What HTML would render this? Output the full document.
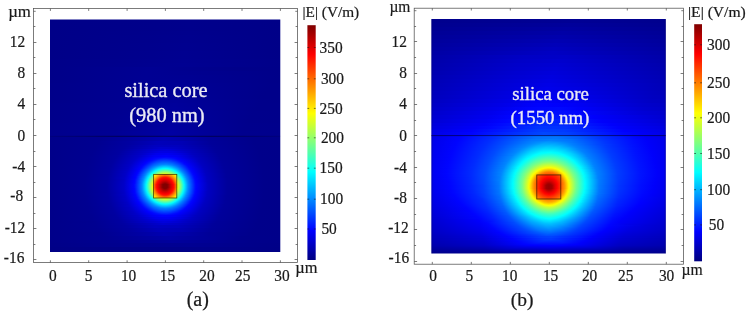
<!DOCTYPE html>
<html><head><meta charset="utf-8"><title>Mode field</title>
<style>html,body{margin:0;padding:0;background:#fff}svg{display:block}text{font-family:"Liberation Serif","Times New Roman",serif;fill:#1a1a1a;stroke:#1a1a1a;stroke-width:0.22}</style>
</head><body>
<svg width="750" height="313" viewBox="0 0 750 313">
<defs>
<linearGradient id="a0" gradientUnits="userSpaceOnUse" x1="50" x2="281"><stop offset="0" stop-color="#000088"/><stop offset="0.6104" stop-color="#00008c"/><stop offset="1" stop-color="#000088"/></linearGradient>
<linearGradient id="a1" gradientUnits="userSpaceOnUse" x1="50" x2="281"><stop offset="0" stop-color="#000088"/><stop offset="0.6061" stop-color="#00008c"/><stop offset="1" stop-color="#000088"/></linearGradient>
<linearGradient id="a2" gradientUnits="userSpaceOnUse" x1="50" x2="281"><stop offset="0" stop-color="#000088"/><stop offset="0.6061" stop-color="#00008c"/><stop offset="1" stop-color="#000088"/></linearGradient>
<linearGradient id="a3" gradientUnits="userSpaceOnUse" x1="50" x2="281"><stop offset="0" stop-color="#000088"/><stop offset="0.6017" stop-color="#00008d"/><stop offset="1" stop-color="#000088"/></linearGradient>
<linearGradient id="a4" gradientUnits="userSpaceOnUse" x1="50" x2="281"><stop offset="0" stop-color="#000088"/><stop offset="0.5974" stop-color="#00008e"/><stop offset="1" stop-color="#000088"/></linearGradient>
<linearGradient id="a5" gradientUnits="userSpaceOnUse" x1="50" x2="281"><stop offset="0" stop-color="#000088"/><stop offset="0.5931" stop-color="#00008e"/><stop offset="1" stop-color="#000088"/></linearGradient>
<linearGradient id="a6" gradientUnits="userSpaceOnUse" x1="50" x2="281"><stop offset="0" stop-color="#000088"/><stop offset="0.5887" stop-color="#00008f"/><stop offset="1" stop-color="#000088"/></linearGradient>
<linearGradient id="a7" gradientUnits="userSpaceOnUse" x1="50" x2="281"><stop offset="0" stop-color="#000088"/><stop offset="0.5887" stop-color="#00008f"/><stop offset="1" stop-color="#000088"/></linearGradient>
<linearGradient id="a8" gradientUnits="userSpaceOnUse" x1="50" x2="281"><stop offset="0" stop-color="#000088"/><stop offset="0.5844" stop-color="#000090"/><stop offset="1" stop-color="#000088"/></linearGradient>
<linearGradient id="a9" gradientUnits="userSpaceOnUse" x1="50" x2="281"><stop offset="0" stop-color="#000088"/><stop offset="0.5801" stop-color="#000090"/><stop offset="1" stop-color="#000088"/></linearGradient>
<linearGradient id="a10" gradientUnits="userSpaceOnUse" x1="50" x2="281"><stop offset="0" stop-color="#000089"/><stop offset="0.5801" stop-color="#000091"/><stop offset="1" stop-color="#000089"/></linearGradient>
<linearGradient id="a11" gradientUnits="userSpaceOnUse" x1="50" x2="281"><stop offset="0" stop-color="#000089"/><stop offset="0.5758" stop-color="#000092"/><stop offset="1" stop-color="#000089"/></linearGradient>
<linearGradient id="a12" gradientUnits="userSpaceOnUse" x1="50" x2="281"><stop offset="0" stop-color="#000089"/><stop offset="0.4329" stop-color="#000093"/><stop offset="0.8095" stop-color="#00008a"/><stop offset="1" stop-color="#000089"/></linearGradient>
<linearGradient id="a13" gradientUnits="userSpaceOnUse" x1="50" x2="281"><stop offset="0" stop-color="#000089"/><stop offset="0.4199" stop-color="#000093"/><stop offset="0.6147" stop-color="#000090"/><stop offset="1" stop-color="#000089"/></linearGradient>
<linearGradient id="a14" gradientUnits="userSpaceOnUse" x1="50" x2="281"><stop offset="0" stop-color="#000089"/><stop offset="0.4069" stop-color="#000093"/><stop offset="0.5974" stop-color="#000092"/><stop offset="1" stop-color="#000089"/></linearGradient>
<linearGradient id="a15" gradientUnits="userSpaceOnUse" x1="50" x2="281"><stop offset="0" stop-color="#000089"/><stop offset="0.4026" stop-color="#000093"/><stop offset="0.5887" stop-color="#000093"/><stop offset="0.987" stop-color="#000089"/><stop offset="1" stop-color="#000089"/></linearGradient>
<linearGradient id="a16" gradientUnits="userSpaceOnUse" x1="50" x2="281"><stop offset="0" stop-color="#00008a"/><stop offset="0.3939" stop-color="#000093"/><stop offset="0.5758" stop-color="#000095"/><stop offset="0.9567" stop-color="#00008a"/><stop offset="1" stop-color="#00008a"/></linearGradient>
<linearGradient id="a17" gradientUnits="userSpaceOnUse" x1="50" x2="281"><stop offset="0" stop-color="#00008a"/><stop offset="0.3896" stop-color="#000093"/><stop offset="0.5671" stop-color="#000096"/><stop offset="0.9437" stop-color="#00008a"/><stop offset="1" stop-color="#00008a"/></linearGradient>
<linearGradient id="a18" gradientUnits="userSpaceOnUse" x1="50" x2="281"><stop offset="0" stop-color="#00008a"/><stop offset="0.3853" stop-color="#000093"/><stop offset="0.5584" stop-color="#000097"/><stop offset="0.9307" stop-color="#00008a"/><stop offset="1" stop-color="#00008a"/></linearGradient>
<linearGradient id="a19" gradientUnits="userSpaceOnUse" x1="50" x2="281"><stop offset="0" stop-color="#00008a"/><stop offset="0.381" stop-color="#000093"/><stop offset="0.5498" stop-color="#000098"/><stop offset="0.9221" stop-color="#00008a"/><stop offset="1" stop-color="#00008a"/></linearGradient>
<linearGradient id="a20" gradientUnits="userSpaceOnUse" x1="50" x2="281"><stop offset="0" stop-color="#00008a"/><stop offset="0.3766" stop-color="#000093"/><stop offset="0.5455" stop-color="#000099"/><stop offset="0.9134" stop-color="#00008b"/><stop offset="1" stop-color="#00008a"/></linearGradient>
<linearGradient id="a21" gradientUnits="userSpaceOnUse" x1="50" x2="281"><stop offset="0" stop-color="#00008b"/><stop offset="0.3723" stop-color="#000094"/><stop offset="0.5368" stop-color="#00009b"/><stop offset="0.9091" stop-color="#00008b"/><stop offset="1" stop-color="#00008b"/></linearGradient>
<linearGradient id="a22" gradientUnits="userSpaceOnUse" x1="50" x2="281"><stop offset="0" stop-color="#00008b"/><stop offset="0.3506" stop-color="#000093"/><stop offset="0.5368" stop-color="#00009c"/><stop offset="0.8961" stop-color="#00008b"/><stop offset="1" stop-color="#00008b"/></linearGradient>
<linearGradient id="a23" gradientUnits="userSpaceOnUse" x1="50" x2="281"><stop offset="0" stop-color="#00008b"/><stop offset="0.329" stop-color="#000093"/><stop offset="0.5325" stop-color="#00009d"/><stop offset="0.8831" stop-color="#00008c"/><stop offset="1" stop-color="#00008b"/></linearGradient>
<linearGradient id="a24" gradientUnits="userSpaceOnUse" x1="50" x2="281"><stop offset="0" stop-color="#00008b"/><stop offset="0.3117" stop-color="#000093"/><stop offset="0.5325" stop-color="#00009e"/><stop offset="0.8701" stop-color="#00008c"/><stop offset="1" stop-color="#00008b"/></linearGradient>
<linearGradient id="a25" gradientUnits="userSpaceOnUse" x1="50" x2="281"><stop offset="0" stop-color="#00008b"/><stop offset="0.2987" stop-color="#000093"/><stop offset="0.5281" stop-color="#00009f"/><stop offset="0.8615" stop-color="#00008c"/><stop offset="1" stop-color="#00008b"/></linearGradient>
<linearGradient id="a26" gradientUnits="userSpaceOnUse" x1="50" x2="281"><stop offset="0" stop-color="#00008c"/><stop offset="0.29" stop-color="#000093"/><stop offset="0.5281" stop-color="#0000a0"/><stop offset="0.8528" stop-color="#00008d"/><stop offset="1" stop-color="#00008c"/></linearGradient>
<linearGradient id="a27" gradientUnits="userSpaceOnUse" x1="50" x2="281"><stop offset="0" stop-color="#00008c"/><stop offset="0.2814" stop-color="#000093"/><stop offset="0.5238" stop-color="#0000a2"/><stop offset="0.8442" stop-color="#00008d"/><stop offset="1" stop-color="#00008c"/></linearGradient>
<linearGradient id="a28" gradientUnits="userSpaceOnUse" x1="50" x2="281"><stop offset="0" stop-color="#00008c"/><stop offset="0.2727" stop-color="#000094"/><stop offset="0.5238" stop-color="#0000a3"/><stop offset="0.8355" stop-color="#00008e"/><stop offset="1" stop-color="#00008c"/></linearGradient>
<linearGradient id="a29" gradientUnits="userSpaceOnUse" x1="50" x2="281"><stop offset="0" stop-color="#00008d"/><stop offset="0.2684" stop-color="#000094"/><stop offset="0.5238" stop-color="#0000a4"/><stop offset="0.8312" stop-color="#00008e"/><stop offset="1" stop-color="#00008c"/></linearGradient>
<linearGradient id="a30" gradientUnits="userSpaceOnUse" x1="50" x2="281"><stop offset="0" stop-color="#00008a"/><stop offset="0.2294" stop-color="#000091"/><stop offset="0.4026" stop-color="#0000a3"/><stop offset="0.5152" stop-color="#0000ac"/><stop offset="0.7143" stop-color="#000095"/><stop offset="0.8874" stop-color="#00008b"/><stop offset="1" stop-color="#00008a"/></linearGradient>
<linearGradient id="a31" gradientUnits="userSpaceOnUse" x1="50" x2="281"><stop offset="0" stop-color="#00008a"/><stop offset="0.2208" stop-color="#000091"/><stop offset="0.3766" stop-color="#0000a2"/><stop offset="0.4935" stop-color="#0000b2"/><stop offset="0.6061" stop-color="#0000a6"/><stop offset="0.6883" stop-color="#000099"/><stop offset="0.8831" stop-color="#00008b"/><stop offset="1" stop-color="#00008a"/></linearGradient>
<linearGradient id="a32" gradientUnits="userSpaceOnUse" x1="50" x2="281"><stop offset="0" stop-color="#00008a"/><stop offset="0.2078" stop-color="#000091"/><stop offset="0.3463" stop-color="#0000a2"/><stop offset="0.4675" stop-color="#0000ba"/><stop offset="0.5714" stop-color="#0000b5"/><stop offset="0.6926" stop-color="#00009a"/><stop offset="0.8874" stop-color="#00008b"/><stop offset="1" stop-color="#00008a"/></linearGradient>
<linearGradient id="a33" gradientUnits="userSpaceOnUse" x1="50" x2="281"><stop offset="0" stop-color="#00008a"/><stop offset="0.1991" stop-color="#000091"/><stop offset="0.329" stop-color="#0000a1"/><stop offset="0.4545" stop-color="#0000c0"/><stop offset="0.5541" stop-color="#0000be"/><stop offset="0.7056" stop-color="#00009a"/><stop offset="0.8961" stop-color="#00008b"/><stop offset="1" stop-color="#00008a"/></linearGradient>
<linearGradient id="a34" gradientUnits="userSpaceOnUse" x1="50" x2="281"><stop offset="0" stop-color="#00008a"/><stop offset="0.1948" stop-color="#000091"/><stop offset="0.3203" stop-color="#0000a1"/><stop offset="0.4805" stop-color="#0000cc"/><stop offset="0.5411" stop-color="#0000c6"/><stop offset="0.7143" stop-color="#00009a"/><stop offset="0.8961" stop-color="#00008b"/><stop offset="1" stop-color="#00008a"/></linearGradient>
<linearGradient id="a35" gradientUnits="userSpaceOnUse" x1="50" x2="281"><stop offset="0" stop-color="#00008a"/><stop offset="0.1905" stop-color="#000091"/><stop offset="0.3117" stop-color="#0000a1"/><stop offset="0.4502" stop-color="#0000d0"/><stop offset="0.5065" stop-color="#0000d9"/><stop offset="0.5671" stop-color="#0000c7"/><stop offset="0.7143" stop-color="#00009b"/><stop offset="0.9004" stop-color="#00008b"/><stop offset="1" stop-color="#00008a"/></linearGradient>
<linearGradient id="a36" gradientUnits="userSpaceOnUse" x1="50" x2="281"><stop offset="0" stop-color="#00008a"/><stop offset="0.1861" stop-color="#000091"/><stop offset="0.303" stop-color="#0000a1"/><stop offset="0.4156" stop-color="#0000ca"/><stop offset="0.4762" stop-color="#0000e3"/><stop offset="0.5325" stop-color="#0000e0"/><stop offset="0.6147" stop-color="#0000bc"/><stop offset="0.7186" stop-color="#00009b"/><stop offset="0.9048" stop-color="#00008b"/><stop offset="1" stop-color="#00008a"/></linearGradient>
<linearGradient id="a37" gradientUnits="userSpaceOnUse" x1="50" x2="281"><stop offset="0" stop-color="#00008a"/><stop offset="0.1818" stop-color="#000091"/><stop offset="0.2944" stop-color="#0000a0"/><stop offset="0.3983" stop-color="#0000c8"/><stop offset="0.4589" stop-color="#0000eb"/><stop offset="0.5108" stop-color="#0000f1"/><stop offset="0.5671" stop-color="#0000dd"/><stop offset="0.6147" stop-color="#0000c0"/><stop offset="0.7273" stop-color="#00009b"/><stop offset="0.9048" stop-color="#00008b"/><stop offset="1" stop-color="#00008a"/></linearGradient>
<linearGradient id="a38" gradientUnits="userSpaceOnUse" x1="50" x2="281"><stop offset="0" stop-color="#00008a"/><stop offset="0.1775" stop-color="#000091"/><stop offset="0.29" stop-color="#0000a1"/><stop offset="0.3853" stop-color="#0000c8"/><stop offset="0.4502" stop-color="#0000f3"/><stop offset="0.5022" stop-color="#0000fd"/><stop offset="0.5541" stop-color="#0000ef"/><stop offset="0.6277" stop-color="#0000bf"/><stop offset="0.7316" stop-color="#00009b"/><stop offset="0.9091" stop-color="#00008b"/><stop offset="1" stop-color="#00008a"/></linearGradient>
<linearGradient id="a39" gradientUnits="userSpaceOnUse" x1="50" x2="281"><stop offset="0" stop-color="#00008a"/><stop offset="0.1732" stop-color="#000091"/><stop offset="0.2857" stop-color="#0000a1"/><stop offset="0.3766" stop-color="#0000c7"/><stop offset="0.4416" stop-color="#0000f7"/><stop offset="0.4719" stop-color="#0004ff"/><stop offset="0.5065" stop-color="#000aff"/><stop offset="0.5455" stop-color="#0000fc"/><stop offset="0.6104" stop-color="#0000cf"/><stop offset="0.6364" stop-color="#0000bf"/><stop offset="0.7359" stop-color="#00009b"/><stop offset="0.9091" stop-color="#00008b"/><stop offset="1" stop-color="#00008a"/></linearGradient>
<linearGradient id="a40" gradientUnits="userSpaceOnUse" x1="50" x2="281"><stop offset="0" stop-color="#00008a"/><stop offset="0.1732" stop-color="#000091"/><stop offset="0.2814" stop-color="#0000a0"/><stop offset="0.3723" stop-color="#0000c7"/><stop offset="0.4416" stop-color="#0000fd"/><stop offset="0.4632" stop-color="#000aff"/><stop offset="0.4935" stop-color="#001cff"/><stop offset="0.5238" stop-color="#0012ff"/><stop offset="0.5498" stop-color="#0000ff"/><stop offset="0.6147" stop-color="#0000d0"/><stop offset="0.6407" stop-color="#0000bf"/><stop offset="0.7359" stop-color="#00009b"/><stop offset="0.9091" stop-color="#00008b"/><stop offset="1" stop-color="#00008a"/></linearGradient>
<linearGradient id="a41" gradientUnits="userSpaceOnUse" x1="50" x2="281"><stop offset="0" stop-color="#00008a"/><stop offset="0.1732" stop-color="#000091"/><stop offset="0.2771" stop-color="#0000a0"/><stop offset="0.368" stop-color="#0000c7"/><stop offset="0.4329" stop-color="#0000fd"/><stop offset="0.4502" stop-color="#000aff"/><stop offset="0.4805" stop-color="#0029ff"/><stop offset="0.5065" stop-color="#002dff"/><stop offset="0.5368" stop-color="#0017ff"/><stop offset="0.5541" stop-color="#0003ff"/><stop offset="0.5887" stop-color="#0000eb"/><stop offset="0.6407" stop-color="#0000c0"/><stop offset="0.7403" stop-color="#00009b"/><stop offset="0.9134" stop-color="#00008b"/><stop offset="1" stop-color="#00008a"/></linearGradient>
<linearGradient id="a42" gradientUnits="userSpaceOnUse" x1="50" x2="281"><stop offset="0" stop-color="#00008a"/><stop offset="0.1688" stop-color="#000091"/><stop offset="0.2771" stop-color="#0000a1"/><stop offset="0.3636" stop-color="#0000c7"/><stop offset="0.4286" stop-color="#0000ff"/><stop offset="0.4416" stop-color="#000dff"/><stop offset="0.4719" stop-color="#0035ff"/><stop offset="0.4978" stop-color="#0040ff"/><stop offset="0.5238" stop-color="#0035ff"/><stop offset="0.5541" stop-color="#000fff"/><stop offset="0.5671" stop-color="#0001ff"/><stop offset="0.645" stop-color="#0000c0"/><stop offset="0.7403" stop-color="#00009b"/><stop offset="0.9134" stop-color="#00008b"/><stop offset="1" stop-color="#00008a"/></linearGradient>
<linearGradient id="a43" gradientUnits="userSpaceOnUse" x1="50" x2="281"><stop offset="0" stop-color="#00008a"/><stop offset="0.1688" stop-color="#000091"/><stop offset="0.2727" stop-color="#0000a0"/><stop offset="0.3593" stop-color="#0000c7"/><stop offset="0.4199" stop-color="#0000fe"/><stop offset="0.4329" stop-color="#000dff"/><stop offset="0.4632" stop-color="#003dff"/><stop offset="0.4892" stop-color="#0051ff"/><stop offset="0.5152" stop-color="#004dff"/><stop offset="0.5455" stop-color="#002dff"/><stop offset="0.5671" stop-color="#0006ff"/><stop offset="0.5844" stop-color="#0000f8"/><stop offset="0.645" stop-color="#0000c1"/><stop offset="0.7446" stop-color="#00009b"/><stop offset="0.9134" stop-color="#00008b"/><stop offset="1" stop-color="#00008a"/></linearGradient>
<linearGradient id="a44" gradientUnits="userSpaceOnUse" x1="50" x2="281"><stop offset="0" stop-color="#00008a"/><stop offset="0.1688" stop-color="#000091"/><stop offset="0.2727" stop-color="#0000a1"/><stop offset="0.355" stop-color="#0000c6"/><stop offset="0.4156" stop-color="#0001ff"/><stop offset="0.4286" stop-color="#0013ff"/><stop offset="0.4589" stop-color="#0048ff"/><stop offset="0.4848" stop-color="#0061ff"/><stop offset="0.5108" stop-color="#0061ff"/><stop offset="0.5368" stop-color="#004aff"/><stop offset="0.5671" stop-color="#0015ff"/><stop offset="0.5801" stop-color="#0001ff"/><stop offset="0.6494" stop-color="#0000c1"/><stop offset="0.7446" stop-color="#00009b"/><stop offset="0.9177" stop-color="#00008b"/><stop offset="1" stop-color="#00008a"/></linearGradient>
<linearGradient id="a45" gradientUnits="userSpaceOnUse" x1="50" x2="281"><stop offset="0" stop-color="#00008a"/><stop offset="0.1645" stop-color="#000091"/><stop offset="0.2684" stop-color="#0000a0"/><stop offset="0.3506" stop-color="#0000c5"/><stop offset="0.4113" stop-color="#0002ff"/><stop offset="0.4199" stop-color="#000eff"/><stop offset="0.4502" stop-color="#004cff"/><stop offset="0.4762" stop-color="#006dff"/><stop offset="0.5022" stop-color="#0075ff"/><stop offset="0.5281" stop-color="#0065ff"/><stop offset="0.5584" stop-color="#0036ff"/><stop offset="0.5801" stop-color="#0006ff"/><stop offset="0.5974" stop-color="#0000f6"/><stop offset="0.6537" stop-color="#0000c0"/><stop offset="0.7489" stop-color="#00009b"/><stop offset="0.9177" stop-color="#00008b"/><stop offset="1" stop-color="#00008a"/></linearGradient>
<linearGradient id="a46" gradientUnits="userSpaceOnUse" x1="50" x2="281"><stop offset="0" stop-color="#00008a"/><stop offset="0.1645" stop-color="#000091"/><stop offset="0.2684" stop-color="#0000a1"/><stop offset="0.3506" stop-color="#0000c8"/><stop offset="0.4069" stop-color="#0002ff"/><stop offset="0.4156" stop-color="#0012ff"/><stop offset="0.4502" stop-color="#005cff"/><stop offset="0.4762" stop-color="#007eff"/><stop offset="0.5022" stop-color="#0088ff"/><stop offset="0.5281" stop-color="#0076ff"/><stop offset="0.5584" stop-color="#0045ff"/><stop offset="0.5844" stop-color="#0009ff"/><stop offset="0.5974" stop-color="#0000fa"/><stop offset="0.6537" stop-color="#0000c2"/><stop offset="0.7489" stop-color="#00009b"/><stop offset="0.9177" stop-color="#00008b"/><stop offset="1" stop-color="#00008a"/></linearGradient>
<linearGradient id="a47" gradientUnits="userSpaceOnUse" x1="50" x2="281"><stop offset="0" stop-color="#00008a"/><stop offset="0.1645" stop-color="#000091"/><stop offset="0.2641" stop-color="#0000a0"/><stop offset="0.3463" stop-color="#0000c7"/><stop offset="0.4026" stop-color="#0003ff"/><stop offset="0.4113" stop-color="#0014ff"/><stop offset="0.4459" stop-color="#0064ff"/><stop offset="0.4848" stop-color="#00a1ff"/><stop offset="0.5022" stop-color="#00a6ff"/><stop offset="0.5195" stop-color="#0097ff"/><stop offset="0.5584" stop-color="#0055ff"/><stop offset="0.5931" stop-color="#0004ff"/><stop offset="0.6277" stop-color="#0000df"/><stop offset="0.658" stop-color="#0000c1"/><stop offset="0.7489" stop-color="#00009b"/><stop offset="0.9177" stop-color="#00008b"/><stop offset="1" stop-color="#00008a"/></linearGradient>
<linearGradient id="a48" gradientUnits="userSpaceOnUse" x1="50" x2="281"><stop offset="0" stop-color="#00008a"/><stop offset="0.1602" stop-color="#000091"/><stop offset="0.2641" stop-color="#0000a0"/><stop offset="0.342" stop-color="#0000c5"/><stop offset="0.3983" stop-color="#0003ff"/><stop offset="0.4069" stop-color="#0015ff"/><stop offset="0.4416" stop-color="#006bff"/><stop offset="0.4762" stop-color="#00b3ff"/><stop offset="0.4935" stop-color="#00c4ff"/><stop offset="0.5108" stop-color="#00bfff"/><stop offset="0.5281" stop-color="#00a5ff"/><stop offset="0.5498" stop-color="#0075ff"/><stop offset="0.5844" stop-color="#0023ff"/><stop offset="0.5974" stop-color="#0004ff"/><stop offset="0.632" stop-color="#0000de"/><stop offset="0.6623" stop-color="#0000c0"/><stop offset="0.7532" stop-color="#00009b"/><stop offset="0.9221" stop-color="#00008b"/><stop offset="1" stop-color="#00008a"/></linearGradient>
<linearGradient id="a49" gradientUnits="userSpaceOnUse" x1="50" x2="281"><stop offset="0" stop-color="#00008a"/><stop offset="0.1602" stop-color="#000091"/><stop offset="0.2641" stop-color="#0000a1"/><stop offset="0.342" stop-color="#0000c8"/><stop offset="0.3939" stop-color="#0002ff"/><stop offset="0.3983" stop-color="#0008ff"/><stop offset="0.4372" stop-color="#0070ff"/><stop offset="0.4502" stop-color="#0090ff"/><stop offset="0.4719" stop-color="#00c9ff"/><stop offset="0.4892" stop-color="#00e0ff"/><stop offset="0.5065" stop-color="#00e0ff"/><stop offset="0.5238" stop-color="#00caff"/><stop offset="0.5455" stop-color="#0093ff"/><stop offset="0.5931" stop-color="#0017ff"/><stop offset="0.6017" stop-color="#0003ff"/><stop offset="0.6623" stop-color="#0000c1"/><stop offset="0.7532" stop-color="#00009b"/><stop offset="0.9221" stop-color="#00008b"/><stop offset="1" stop-color="#00008a"/></linearGradient>
<linearGradient id="a50" gradientUnits="userSpaceOnUse" x1="50" x2="281"><stop offset="0" stop-color="#00008a"/><stop offset="0.1602" stop-color="#000091"/><stop offset="0.2597" stop-color="#0000a0"/><stop offset="0.3377" stop-color="#0000c5"/><stop offset="0.3896" stop-color="#0002ff"/><stop offset="0.3939" stop-color="#0006ff"/><stop offset="0.4329" stop-color="#0074ff"/><stop offset="0.4459" stop-color="#009bff"/><stop offset="0.4675" stop-color="#00dcff"/><stop offset="0.4848" stop-color="#00faff"/><stop offset="0.4978" stop-color="#04fffb"/><stop offset="0.5108" stop-color="#00fbff"/><stop offset="0.5281" stop-color="#00deff"/><stop offset="0.5498" stop-color="#009eff"/><stop offset="0.5628" stop-color="#0076ff"/><stop offset="0.6017" stop-color="#0009ff"/><stop offset="0.6147" stop-color="#0000f8"/><stop offset="0.6667" stop-color="#0000c0"/><stop offset="0.7532" stop-color="#00009b"/><stop offset="0.9221" stop-color="#00008b"/><stop offset="1" stop-color="#00008a"/></linearGradient>
<linearGradient id="a51" gradientUnits="userSpaceOnUse" x1="50" x2="281"><stop offset="0" stop-color="#00008a"/><stop offset="0.1602" stop-color="#000091"/><stop offset="0.2597" stop-color="#0000a1"/><stop offset="0.3377" stop-color="#0000c8"/><stop offset="0.3853" stop-color="#0000ff"/><stop offset="0.3896" stop-color="#0005ff"/><stop offset="0.4372" stop-color="#0092ff"/><stop offset="0.4589" stop-color="#00e0ff"/><stop offset="0.4675" stop-color="#00f8ff"/><stop offset="0.4719" stop-color="#05fffa"/><stop offset="0.4848" stop-color="#23ffdc"/><stop offset="0.4978" stop-color="#2effd1"/><stop offset="0.5108" stop-color="#25ffda"/><stop offset="0.5238" stop-color="#08fff7"/><stop offset="0.5281" stop-color="#00faff"/><stop offset="0.5498" stop-color="#00b7ff"/><stop offset="0.5628" stop-color="#0084ff"/><stop offset="0.6061" stop-color="#0006ff"/><stop offset="0.6234" stop-color="#0000f2"/><stop offset="0.6667" stop-color="#0000c1"/><stop offset="0.7576" stop-color="#00009b"/><stop offset="0.9221" stop-color="#00008b"/><stop offset="1" stop-color="#00008a"/></linearGradient>
<linearGradient id="a52" gradientUnits="userSpaceOnUse" x1="50" x2="281"><stop offset="0" stop-color="#00008a"/><stop offset="0.1602" stop-color="#000091"/><stop offset="0.2597" stop-color="#0000a1"/><stop offset="0.3333" stop-color="#0000c5"/><stop offset="0.381" stop-color="#0000fe"/><stop offset="0.3896" stop-color="#000dff"/><stop offset="0.4286" stop-color="#0084ff"/><stop offset="0.4545" stop-color="#00ecff"/><stop offset="0.4589" stop-color="#00faff"/><stop offset="0.4719" stop-color="#2dffd2"/><stop offset="0.4848" stop-color="#4dffb2"/><stop offset="0.4978" stop-color="#59ffa6"/><stop offset="0.5108" stop-color="#4effb1"/><stop offset="0.5238" stop-color="#2fffd0"/><stop offset="0.5368" stop-color="#00feff"/><stop offset="0.5584" stop-color="#00acff"/><stop offset="0.5671" stop-color="#0086ff"/><stop offset="0.6104" stop-color="#0005ff"/><stop offset="0.6234" stop-color="#0000f5"/><stop offset="0.671" stop-color="#0000c0"/><stop offset="0.7576" stop-color="#00009b"/><stop offset="0.9221" stop-color="#00008b"/><stop offset="1" stop-color="#00008a"/></linearGradient>
<linearGradient id="a53" gradientUnits="userSpaceOnUse" x1="50" x2="281"><stop offset="0" stop-color="#00008a"/><stop offset="0.1558" stop-color="#000091"/><stop offset="0.2554" stop-color="#0000a0"/><stop offset="0.3333" stop-color="#0000c8"/><stop offset="0.381" stop-color="#0002ff"/><stop offset="0.3853" stop-color="#0008ff"/><stop offset="0.4242" stop-color="#0084ff"/><stop offset="0.4502" stop-color="#00f5ff"/><stop offset="0.4545" stop-color="#0bfff4"/><stop offset="0.4675" stop-color="#44ffbb"/><stop offset="0.4805" stop-color="#6fff90"/><stop offset="0.4935" stop-color="#83ff7c"/><stop offset="0.5065" stop-color="#80ff7f"/><stop offset="0.5195" stop-color="#65ff9a"/><stop offset="0.5368" stop-color="#23ffdc"/><stop offset="0.5455" stop-color="#00f9ff"/><stop offset="0.5714" stop-color="#0087ff"/><stop offset="0.6104" stop-color="#000bff"/><stop offset="0.619" stop-color="#0000fd"/><stop offset="0.671" stop-color="#0000c1"/><stop offset="0.7576" stop-color="#00009b"/><stop offset="0.9221" stop-color="#00008b"/><stop offset="1" stop-color="#00008a"/></linearGradient>
<linearGradient id="a54" gradientUnits="userSpaceOnUse" x1="50" x2="281"><stop offset="0" stop-color="#00008a"/><stop offset="0.1558" stop-color="#000091"/><stop offset="0.2554" stop-color="#0000a0"/><stop offset="0.329" stop-color="#0000c5"/><stop offset="0.3766" stop-color="#0000ff"/><stop offset="0.381" stop-color="#0005ff"/><stop offset="0.4199" stop-color="#0082ff"/><stop offset="0.4459" stop-color="#00fcff"/><stop offset="0.4675" stop-color="#6cff93"/><stop offset="0.4762" stop-color="#8aff75"/><stop offset="0.4892" stop-color="#a5ff5a"/><stop offset="0.5022" stop-color="#aaff55"/><stop offset="0.5152" stop-color="#98ff67"/><stop offset="0.5281" stop-color="#6fff90"/><stop offset="0.5455" stop-color="#1bffe4"/><stop offset="0.5498" stop-color="#02fffd"/><stop offset="0.5758" stop-color="#0085ff"/><stop offset="0.6147" stop-color="#0006ff"/><stop offset="0.6277" stop-color="#0000f5"/><stop offset="0.671" stop-color="#0000c2"/><stop offset="0.7576" stop-color="#00009b"/><stop offset="0.9221" stop-color="#00008b"/><stop offset="1" stop-color="#00008a"/></linearGradient>
<linearGradient id="a55" gradientUnits="userSpaceOnUse" x1="50" x2="281"><stop offset="0" stop-color="#00008a"/><stop offset="0.1558" stop-color="#000091"/><stop offset="0.2554" stop-color="#0000a1"/><stop offset="0.329" stop-color="#0000c7"/><stop offset="0.3766" stop-color="#0002ff"/><stop offset="0.381" stop-color="#000aff"/><stop offset="0.4156" stop-color="#0080ff"/><stop offset="0.4416" stop-color="#01fffe"/><stop offset="0.4632" stop-color="#7eff81"/><stop offset="0.4762" stop-color="#aeff51"/><stop offset="0.4892" stop-color="#cbff34"/><stop offset="0.5022" stop-color="#d0ff2f"/><stop offset="0.5152" stop-color="#bcff43"/><stop offset="0.5281" stop-color="#93ff6c"/><stop offset="0.5411" stop-color="#54ffab"/><stop offset="0.5541" stop-color="#07fff8"/><stop offset="0.5628" stop-color="#00daff"/><stop offset="0.5801" stop-color="#0082ff"/><stop offset="0.6147" stop-color="#000dff"/><stop offset="0.6234" stop-color="#0000fd"/><stop offset="0.6753" stop-color="#0000c1"/><stop offset="0.7619" stop-color="#00009b"/><stop offset="0.9221" stop-color="#00008b"/><stop offset="1" stop-color="#00008a"/></linearGradient>
<linearGradient id="a56" gradientUnits="userSpaceOnUse" x1="50" x2="281"><stop offset="0" stop-color="#00008a"/><stop offset="0.1558" stop-color="#000091"/><stop offset="0.2511" stop-color="#00009f"/><stop offset="0.329" stop-color="#0000c8"/><stop offset="0.3723" stop-color="#0000ff"/><stop offset="0.3766" stop-color="#0005ff"/><stop offset="0.4156" stop-color="#008cff"/><stop offset="0.4372" stop-color="#01fffe"/><stop offset="0.4459" stop-color="#3bffc4"/><stop offset="0.4502" stop-color="#fcff03"/><stop offset="0.4675" stop-color="#ffcd00"/><stop offset="0.4805" stop-color="#ffa200"/><stop offset="0.4935" stop-color="#ff8c00"/><stop offset="0.5065" stop-color="#ff9000"/><stop offset="0.5195" stop-color="#ffac00"/><stop offset="0.5368" stop-color="#ffe500"/><stop offset="0.5455" stop-color="#ffff00"/><stop offset="0.5498" stop-color="#40ffbf"/><stop offset="0.5584" stop-color="#07fff8"/><stop offset="0.5628" stop-color="#00edff"/><stop offset="0.5844" stop-color="#007eff"/><stop offset="0.619" stop-color="#0006ff"/><stop offset="0.632" stop-color="#0000f5"/><stop offset="0.6753" stop-color="#0000c1"/><stop offset="0.7619" stop-color="#00009b"/><stop offset="0.9264" stop-color="#00008b"/><stop offset="1" stop-color="#00008a"/></linearGradient>
<linearGradient id="a57" gradientUnits="userSpaceOnUse" x1="50" x2="281"><stop offset="0" stop-color="#00008a"/><stop offset="0.1558" stop-color="#000091"/><stop offset="0.2511" stop-color="#0000a0"/><stop offset="0.3247" stop-color="#0000c5"/><stop offset="0.3723" stop-color="#0002ff"/><stop offset="0.3766" stop-color="#0009ff"/><stop offset="0.4113" stop-color="#0084ff"/><stop offset="0.4329" stop-color="#00fcff"/><stop offset="0.4459" stop-color="#58ffa7"/><stop offset="0.4502" stop-color="#fff400"/><stop offset="0.4589" stop-color="#ffd800"/><stop offset="0.4762" stop-color="#ff8f00"/><stop offset="0.4892" stop-color="#ff6f00"/><stop offset="0.4978" stop-color="#ff6600"/><stop offset="0.5108" stop-color="#ff7500"/><stop offset="0.5238" stop-color="#ff9c00"/><stop offset="0.5368" stop-color="#ffd500"/><stop offset="0.5455" stop-color="#fff100"/><stop offset="0.5498" stop-color="#5effa1"/><stop offset="0.5628" stop-color="#03fffc"/><stop offset="0.5844" stop-color="#0088ff"/><stop offset="0.619" stop-color="#000dff"/><stop offset="0.6277" stop-color="#0000fd"/><stop offset="0.6753" stop-color="#0000c2"/><stop offset="0.7619" stop-color="#00009b"/><stop offset="0.9264" stop-color="#00008b"/><stop offset="1" stop-color="#00008a"/></linearGradient>
<linearGradient id="a58" gradientUnits="userSpaceOnUse" x1="50" x2="281"><stop offset="0" stop-color="#00008a"/><stop offset="0.1558" stop-color="#000091"/><stop offset="0.2511" stop-color="#0000a0"/><stop offset="0.3247" stop-color="#0000c6"/><stop offset="0.368" stop-color="#0000fe"/><stop offset="0.3723" stop-color="#0004ff"/><stop offset="0.4069" stop-color="#007eff"/><stop offset="0.4199" stop-color="#00c4ff"/><stop offset="0.4286" stop-color="#00f5ff"/><stop offset="0.4329" stop-color="#15ffea"/><stop offset="0.4459" stop-color="#75ff8a"/><stop offset="0.4502" stop-color="#ffe600"/><stop offset="0.4545" stop-color="#ffd700"/><stop offset="0.4719" stop-color="#ff8200"/><stop offset="0.4848" stop-color="#ff4e00"/><stop offset="0.4935" stop-color="#ff3b00"/><stop offset="0.5022" stop-color="#ff3a00"/><stop offset="0.5108" stop-color="#ff4b00"/><stop offset="0.5325" stop-color="#ffa500"/><stop offset="0.5411" stop-color="#ffd300"/><stop offset="0.5455" stop-color="#ffe300"/><stop offset="0.5498" stop-color="#7bff84"/><stop offset="0.5628" stop-color="#1bffe4"/><stop offset="0.5671" stop-color="#00faff"/><stop offset="0.5887" stop-color="#0081ff"/><stop offset="0.6234" stop-color="#0005ff"/><stop offset="0.6364" stop-color="#0000f4"/><stop offset="0.6797" stop-color="#0000c0"/><stop offset="0.7619" stop-color="#00009b"/><stop offset="0.9264" stop-color="#00008b"/><stop offset="1" stop-color="#00008a"/></linearGradient>
<linearGradient id="a59" gradientUnits="userSpaceOnUse" x1="50" x2="281"><stop offset="0" stop-color="#00008a"/><stop offset="0.1515" stop-color="#000091"/><stop offset="0.2511" stop-color="#0000a1"/><stop offset="0.3247" stop-color="#0000c8"/><stop offset="0.368" stop-color="#0000ff"/><stop offset="0.3723" stop-color="#0006ff"/><stop offset="0.4069" stop-color="#0085ff"/><stop offset="0.4242" stop-color="#00ecff"/><stop offset="0.4286" stop-color="#09fff6"/><stop offset="0.4459" stop-color="#8dff72"/><stop offset="0.4502" stop-color="#ffd900"/><stop offset="0.4805" stop-color="#ff3400"/><stop offset="0.4892" stop-color="#ff1600"/><stop offset="0.5022" stop-color="#ff1000"/><stop offset="0.5065" stop-color="#ff1400"/><stop offset="0.5152" stop-color="#ff3000"/><stop offset="0.5455" stop-color="#ffd500"/><stop offset="0.5498" stop-color="#92ff6d"/><stop offset="0.5671" stop-color="#10ffef"/><stop offset="0.5714" stop-color="#00f1ff"/><stop offset="0.5887" stop-color="#008aff"/><stop offset="0.6234" stop-color="#0009ff"/><stop offset="0.632" stop-color="#0000fb"/><stop offset="0.6797" stop-color="#0000c1"/><stop offset="0.7619" stop-color="#00009b"/><stop offset="0.9264" stop-color="#00008b"/><stop offset="1" stop-color="#00008a"/></linearGradient>
<linearGradient id="a60" gradientUnits="userSpaceOnUse" x1="50" x2="281"><stop offset="0" stop-color="#00008a"/><stop offset="0.1515" stop-color="#000091"/><stop offset="0.2511" stop-color="#0000a1"/><stop offset="0.3247" stop-color="#0000c9"/><stop offset="0.368" stop-color="#0002ff"/><stop offset="0.3723" stop-color="#000bff"/><stop offset="0.4069" stop-color="#0090ff"/><stop offset="0.4242" stop-color="#00f9ff"/><stop offset="0.4329" stop-color="#41ffbe"/><stop offset="0.4459" stop-color="#a2ff5d"/><stop offset="0.4502" stop-color="#ffc600"/><stop offset="0.4675" stop-color="#ff5a00"/><stop offset="0.4762" stop-color="#ff2200"/><stop offset="0.4805" stop-color="#ff1000"/><stop offset="0.4892" stop-color="#ff0100"/><stop offset="0.5022" stop-color="#fb0000"/><stop offset="0.5108" stop-color="#ff0600"/><stop offset="0.5152" stop-color="#ff0e00"/><stop offset="0.5195" stop-color="#ff1d00"/><stop offset="0.5368" stop-color="#ff8c00"/><stop offset="0.5455" stop-color="#ffc100"/><stop offset="0.5498" stop-color="#a8ff57"/><stop offset="0.5628" stop-color="#48ffb7"/><stop offset="0.5714" stop-color="#01fffe"/><stop offset="0.5931" stop-color="#007fff"/><stop offset="0.6234" stop-color="#000eff"/><stop offset="0.6277" stop-color="#0003ff"/><stop offset="0.6797" stop-color="#0000c1"/><stop offset="0.7662" stop-color="#00009b"/><stop offset="0.9264" stop-color="#00008b"/><stop offset="1" stop-color="#00008a"/></linearGradient>
<linearGradient id="a61" gradientUnits="userSpaceOnUse" x1="50" x2="281"><stop offset="0" stop-color="#00008a"/><stop offset="0.1515" stop-color="#000091"/><stop offset="0.2511" stop-color="#0000a1"/><stop offset="0.3203" stop-color="#0000c4"/><stop offset="0.368" stop-color="#0004ff"/><stop offset="0.381" stop-color="#0030ff"/><stop offset="0.4026" stop-color="#0082ff"/><stop offset="0.4199" stop-color="#00ebff"/><stop offset="0.4242" stop-color="#0bfff4"/><stop offset="0.4372" stop-color="#78ff87"/><stop offset="0.4459" stop-color="#b5ff4a"/><stop offset="0.4502" stop-color="#ffb400"/><stop offset="0.4632" stop-color="#ff5c00"/><stop offset="0.4719" stop-color="#ff1a00"/><stop offset="0.4762" stop-color="#ff0900"/><stop offset="0.4805" stop-color="#fd0000"/><stop offset="0.4935" stop-color="#e70000"/><stop offset="0.5065" stop-color="#eb0000"/><stop offset="0.5152" stop-color="#fb0000"/><stop offset="0.5238" stop-color="#ff1400"/><stop offset="0.5368" stop-color="#ff7600"/><stop offset="0.5455" stop-color="#ffae00"/><stop offset="0.5498" stop-color="#bbff44"/><stop offset="0.5628" stop-color="#5bffa4"/><stop offset="0.5714" stop-color="#12ffed"/><stop offset="0.5758" stop-color="#00f0ff"/><stop offset="0.5931" stop-color="#0085ff"/><stop offset="0.6277" stop-color="#0005ff"/><stop offset="0.6407" stop-color="#0000f3"/><stop offset="0.6797" stop-color="#0000c2"/><stop offset="0.7662" stop-color="#00009b"/><stop offset="0.9264" stop-color="#00008b"/><stop offset="1" stop-color="#00008a"/></linearGradient>
<linearGradient id="a62" gradientUnits="userSpaceOnUse" x1="50" x2="281"><stop offset="0" stop-color="#00008a"/><stop offset="0.1515" stop-color="#000091"/><stop offset="0.2468" stop-color="#00009f"/><stop offset="0.3203" stop-color="#0000c5"/><stop offset="0.3636" stop-color="#0000fe"/><stop offset="0.368" stop-color="#0005ff"/><stop offset="0.4026" stop-color="#0088ff"/><stop offset="0.4199" stop-color="#00f5ff"/><stop offset="0.4242" stop-color="#1affe5"/><stop offset="0.4372" stop-color="#87ff78"/><stop offset="0.4459" stop-color="#c6ff39"/><stop offset="0.4502" stop-color="#ffa300"/><stop offset="0.4589" stop-color="#ff6600"/><stop offset="0.4675" stop-color="#ff1b00"/><stop offset="0.4719" stop-color="#ff0700"/><stop offset="0.4762" stop-color="#f80000"/><stop offset="0.4892" stop-color="#d90000"/><stop offset="0.5022" stop-color="#d30000"/><stop offset="0.5152" stop-color="#e90000"/><stop offset="0.5238" stop-color="#ff0500"/><stop offset="0.5281" stop-color="#ff1400"/><stop offset="0.5411" stop-color="#ff7f00"/><stop offset="0.5455" stop-color="#ff9d00"/><stop offset="0.5498" stop-color="#ccff33"/><stop offset="0.5628" stop-color="#6cff93"/><stop offset="0.5758" stop-color="#00fbff"/><stop offset="0.5931" stop-color="#008dff"/><stop offset="0.6277" stop-color="#0006ff"/><stop offset="0.6364" stop-color="#0000fa"/><stop offset="0.6797" stop-color="#0000c2"/><stop offset="0.7662" stop-color="#00009b"/><stop offset="0.9264" stop-color="#00008b"/><stop offset="1" stop-color="#00008a"/></linearGradient>
<linearGradient id="a63" gradientUnits="userSpaceOnUse" x1="50" x2="281"><stop offset="0" stop-color="#00008a"/><stop offset="0.1515" stop-color="#000091"/><stop offset="0.2468" stop-color="#0000a0"/><stop offset="0.3203" stop-color="#0000c6"/><stop offset="0.3636" stop-color="#0000ff"/><stop offset="0.368" stop-color="#0006ff"/><stop offset="0.4026" stop-color="#008fff"/><stop offset="0.4199" stop-color="#00ffff"/><stop offset="0.4372" stop-color="#94ff6b"/><stop offset="0.4459" stop-color="#d5ff2a"/><stop offset="0.4502" stop-color="#ff9400"/><stop offset="0.4545" stop-color="#ff7500"/><stop offset="0.4632" stop-color="#ff2600"/><stop offset="0.4675" stop-color="#ff0b00"/><stop offset="0.4719" stop-color="#f90000"/><stop offset="0.4848" stop-color="#cf0000"/><stop offset="0.4978" stop-color="#bc0000"/><stop offset="0.5065" stop-color="#c40000"/><stop offset="0.5195" stop-color="#e70000"/><stop offset="0.5238" stop-color="#f60000"/><stop offset="0.5281" stop-color="#ff0700"/><stop offset="0.5325" stop-color="#ff1f00"/><stop offset="0.5411" stop-color="#ff6f00"/><stop offset="0.5455" stop-color="#ff8e00"/><stop offset="0.5498" stop-color="#dbff24"/><stop offset="0.5628" stop-color="#7aff85"/><stop offset="0.5758" stop-color="#08fff7"/><stop offset="0.5801" stop-color="#00e8ff"/><stop offset="0.5931" stop-color="#0095ff"/><stop offset="0.6017" stop-color="#006dff"/><stop offset="0.6277" stop-color="#0009ff"/><stop offset="0.6364" stop-color="#0000fb"/><stop offset="0.6797" stop-color="#0000c2"/><stop offset="0.7662" stop-color="#00009b"/><stop offset="0.9264" stop-color="#00008b"/><stop offset="1" stop-color="#00008a"/></linearGradient>
<linearGradient id="a64" gradientUnits="userSpaceOnUse" x1="50" x2="281"><stop offset="0" stop-color="#00008a"/><stop offset="0.1515" stop-color="#000091"/><stop offset="0.2468" stop-color="#0000a0"/><stop offset="0.3203" stop-color="#0000c7"/><stop offset="0.3636" stop-color="#0001ff"/><stop offset="0.368" stop-color="#0008ff"/><stop offset="0.3983" stop-color="#007eff"/><stop offset="0.4113" stop-color="#00cdff"/><stop offset="0.4156" stop-color="#00e9ff"/><stop offset="0.4199" stop-color="#0afff5"/><stop offset="0.4329" stop-color="#7eff81"/><stop offset="0.4459" stop-color="#e1ff1e"/><stop offset="0.4502" stop-color="#ff8800"/><stop offset="0.4545" stop-color="#ff6600"/><stop offset="0.4632" stop-color="#ff1200"/><stop offset="0.4675" stop-color="#ff0000"/><stop offset="0.4892" stop-color="#b10000"/><stop offset="0.4978" stop-color="#a30000"/><stop offset="0.5065" stop-color="#ae0000"/><stop offset="0.5281" stop-color="#fb0000"/><stop offset="0.5325" stop-color="#ff0f00"/><stop offset="0.5455" stop-color="#ff8200"/><stop offset="0.5498" stop-color="#e7ff18"/><stop offset="0.5671" stop-color="#60ff9f"/><stop offset="0.5758" stop-color="#12ffed"/><stop offset="0.5801" stop-color="#00efff"/><stop offset="0.5974" stop-color="#0081ff"/><stop offset="0.6277" stop-color="#000cff"/><stop offset="0.632" stop-color="#0002ff"/><stop offset="0.684" stop-color="#0000c0"/><stop offset="0.7662" stop-color="#00009b"/><stop offset="0.9264" stop-color="#00008b"/><stop offset="1" stop-color="#00008a"/></linearGradient>
<linearGradient id="a65" gradientUnits="userSpaceOnUse" x1="50" x2="281"><stop offset="0" stop-color="#00008a"/><stop offset="0.1515" stop-color="#000091"/><stop offset="0.2468" stop-color="#0000a0"/><stop offset="0.3203" stop-color="#0000c7"/><stop offset="0.3636" stop-color="#0002ff"/><stop offset="0.368" stop-color="#000aff"/><stop offset="0.3983" stop-color="#0081ff"/><stop offset="0.4156" stop-color="#00efff"/><stop offset="0.4199" stop-color="#12ffed"/><stop offset="0.4329" stop-color="#86ff79"/><stop offset="0.4459" stop-color="#eaff15"/><stop offset="0.4502" stop-color="#ff7e00"/><stop offset="0.4589" stop-color="#ff2b00"/><stop offset="0.4632" stop-color="#ff0b00"/><stop offset="0.4675" stop-color="#f60000"/><stop offset="0.4892" stop-color="#9c0000"/><stop offset="0.4978" stop-color="#8b0000"/><stop offset="0.5022" stop-color="#8e0000"/><stop offset="0.5108" stop-color="#a90000"/><stop offset="0.5281" stop-color="#f30000"/><stop offset="0.5325" stop-color="#ff0700"/><stop offset="0.5368" stop-color="#ff2300"/><stop offset="0.5455" stop-color="#ff7800"/><stop offset="0.5498" stop-color="#f8ff07"/><stop offset="0.5541" stop-color="#d0ff2f"/><stop offset="0.5671" stop-color="#69ff96"/><stop offset="0.5758" stop-color="#1affe5"/><stop offset="0.5801" stop-color="#00f4ff"/><stop offset="0.5974" stop-color="#0084ff"/><stop offset="0.6277" stop-color="#000eff"/><stop offset="0.632" stop-color="#0003ff"/><stop offset="0.684" stop-color="#0000c1"/><stop offset="0.7662" stop-color="#00009b"/><stop offset="0.9264" stop-color="#00008b"/><stop offset="1" stop-color="#00008a"/></linearGradient>
<linearGradient id="a66" gradientUnits="userSpaceOnUse" x1="50" x2="281"><stop offset="0" stop-color="#00008a"/><stop offset="0.1515" stop-color="#000091"/><stop offset="0.2468" stop-color="#0000a0"/><stop offset="0.3203" stop-color="#0000c8"/><stop offset="0.3636" stop-color="#0003ff"/><stop offset="0.3723" stop-color="#001eff"/><stop offset="0.3983" stop-color="#0084ff"/><stop offset="0.4156" stop-color="#00f5ff"/><stop offset="0.4199" stop-color="#1cffe3"/><stop offset="0.4329" stop-color="#90ff6f"/><stop offset="0.4416" stop-color="#d4ff2b"/><stop offset="0.4459" stop-color="#fffb00"/><stop offset="0.4502" stop-color="#ff7300"/><stop offset="0.4589" stop-color="#ff1800"/><stop offset="0.4632" stop-color="#ff0100"/><stop offset="0.4805" stop-color="#ab0000"/><stop offset="0.4848" stop-color="#930000"/><stop offset="0.4892" stop-color="#820000"/><stop offset="0.5065" stop-color="#810000"/><stop offset="0.5108" stop-color="#8e0000"/><stop offset="0.5238" stop-color="#d30000"/><stop offset="0.5325" stop-color="#fc0000"/><stop offset="0.5368" stop-color="#ff1100"/><stop offset="0.5455" stop-color="#ff6b00"/><stop offset="0.5498" stop-color="#ffea00"/><stop offset="0.5541" stop-color="#daff25"/><stop offset="0.5671" stop-color="#73ff8c"/><stop offset="0.5801" stop-color="#00fbff"/><stop offset="0.5974" stop-color="#0088ff"/><stop offset="0.6277" stop-color="#0010ff"/><stop offset="0.632" stop-color="#0004ff"/><stop offset="0.684" stop-color="#0000c1"/><stop offset="0.7662" stop-color="#00009b"/><stop offset="0.9264" stop-color="#00008b"/><stop offset="1" stop-color="#00008a"/></linearGradient>
<linearGradient id="a67" gradientUnits="userSpaceOnUse" x1="50" x2="281"><stop offset="0" stop-color="#00008a"/><stop offset="0.1515" stop-color="#000091"/><stop offset="0.2468" stop-color="#0000a0"/><stop offset="0.3203" stop-color="#0000c8"/><stop offset="0.3636" stop-color="#0002ff"/><stop offset="0.368" stop-color="#000bff"/><stop offset="0.3983" stop-color="#0082ff"/><stop offset="0.4156" stop-color="#00f1ff"/><stop offset="0.4199" stop-color="#16ffe9"/><stop offset="0.4329" stop-color="#8aff75"/><stop offset="0.4459" stop-color="#f3ff0c"/><stop offset="0.4502" stop-color="#ff7a00"/><stop offset="0.4589" stop-color="#ff2400"/><stop offset="0.4632" stop-color="#ff0700"/><stop offset="0.4675" stop-color="#f20000"/><stop offset="0.4892" stop-color="#910000"/><stop offset="0.4935" stop-color="#830000"/><stop offset="0.5022" stop-color="#830000"/><stop offset="0.5065" stop-color="#8e0000"/><stop offset="0.5325" stop-color="#ff0300"/><stop offset="0.5368" stop-color="#ff1b00"/><stop offset="0.5455" stop-color="#ff7300"/><stop offset="0.5498" stop-color="#fffb00"/><stop offset="0.5541" stop-color="#d4ff2b"/><stop offset="0.5671" stop-color="#6dff92"/><stop offset="0.5758" stop-color="#1effe1"/><stop offset="0.5801" stop-color="#00f7ff"/><stop offset="0.5974" stop-color="#0085ff"/><stop offset="0.6277" stop-color="#000fff"/><stop offset="0.632" stop-color="#0003ff"/><stop offset="0.684" stop-color="#0000c1"/><stop offset="0.7662" stop-color="#00009b"/><stop offset="0.9264" stop-color="#00008b"/><stop offset="1" stop-color="#00008a"/></linearGradient>
<linearGradient id="a68" gradientUnits="userSpaceOnUse" x1="50" x2="281"><stop offset="0" stop-color="#00008a"/><stop offset="0.1515" stop-color="#000091"/><stop offset="0.2468" stop-color="#0000a0"/><stop offset="0.3203" stop-color="#0000c7"/><stop offset="0.3636" stop-color="#0002ff"/><stop offset="0.368" stop-color="#000aff"/><stop offset="0.3983" stop-color="#0080ff"/><stop offset="0.4156" stop-color="#00edff"/><stop offset="0.4199" stop-color="#0ffff0"/><stop offset="0.4329" stop-color="#83ff7c"/><stop offset="0.4459" stop-color="#e7ff18"/><stop offset="0.4502" stop-color="#ff8200"/><stop offset="0.4632" stop-color="#ff0d00"/><stop offset="0.4675" stop-color="#fa0000"/><stop offset="0.4892" stop-color="#a40000"/><stop offset="0.4978" stop-color="#950000"/><stop offset="0.5065" stop-color="#a10000"/><stop offset="0.5281" stop-color="#f60000"/><stop offset="0.5325" stop-color="#ff0a00"/><stop offset="0.5368" stop-color="#ff2800"/><stop offset="0.5455" stop-color="#ff7b00"/><stop offset="0.5498" stop-color="#f0ff0f"/><stop offset="0.5671" stop-color="#65ff9a"/><stop offset="0.5758" stop-color="#17ffe8"/><stop offset="0.5801" stop-color="#00f2ff"/><stop offset="0.5974" stop-color="#0083ff"/><stop offset="0.6277" stop-color="#000dff"/><stop offset="0.632" stop-color="#0003ff"/><stop offset="0.684" stop-color="#0000c1"/><stop offset="0.7662" stop-color="#00009b"/><stop offset="0.9264" stop-color="#00008b"/><stop offset="1" stop-color="#00008a"/></linearGradient>
<linearGradient id="a69" gradientUnits="userSpaceOnUse" x1="50" x2="281"><stop offset="0" stop-color="#00008a"/><stop offset="0.1515" stop-color="#000091"/><stop offset="0.2468" stop-color="#0000a0"/><stop offset="0.3203" stop-color="#0000c7"/><stop offset="0.3636" stop-color="#0001ff"/><stop offset="0.368" stop-color="#0007ff"/><stop offset="0.3983" stop-color="#007dff"/><stop offset="0.4069" stop-color="#00afff"/><stop offset="0.4156" stop-color="#00e7ff"/><stop offset="0.4199" stop-color="#07fff8"/><stop offset="0.4329" stop-color="#7aff85"/><stop offset="0.4459" stop-color="#dcff23"/><stop offset="0.4502" stop-color="#ff8d00"/><stop offset="0.4545" stop-color="#ff6c00"/><stop offset="0.4632" stop-color="#ff1900"/><stop offset="0.4675" stop-color="#ff0400"/><stop offset="0.4892" stop-color="#b90000"/><stop offset="0.4978" stop-color="#ad0000"/><stop offset="0.5065" stop-color="#b70000"/><stop offset="0.5238" stop-color="#ef0000"/><stop offset="0.5281" stop-color="#ff0100"/><stop offset="0.5325" stop-color="#ff1200"/><stop offset="0.5411" stop-color="#ff6400"/><stop offset="0.5455" stop-color="#ff8600"/><stop offset="0.5498" stop-color="#e3ff1c"/><stop offset="0.5628" stop-color="#81ff7e"/><stop offset="0.5758" stop-color="#0efff1"/><stop offset="0.5801" stop-color="#00ecff"/><stop offset="0.5974" stop-color="#0080ff"/><stop offset="0.6277" stop-color="#000bff"/><stop offset="0.6364" stop-color="#0000fb"/><stop offset="0.684" stop-color="#0000c0"/><stop offset="0.7662" stop-color="#00009b"/><stop offset="0.9264" stop-color="#00008b"/><stop offset="1" stop-color="#00008a"/></linearGradient>
<linearGradient id="a70" gradientUnits="userSpaceOnUse" x1="50" x2="281"><stop offset="0" stop-color="#00008a"/><stop offset="0.1515" stop-color="#000091"/><stop offset="0.2468" stop-color="#0000a0"/><stop offset="0.3203" stop-color="#0000c6"/><stop offset="0.3636" stop-color="#0000ff"/><stop offset="0.368" stop-color="#0006ff"/><stop offset="0.4026" stop-color="#008cff"/><stop offset="0.4199" stop-color="#00fbff"/><stop offset="0.4372" stop-color="#90ff6f"/><stop offset="0.4459" stop-color="#cfff30"/><stop offset="0.4502" stop-color="#ff9a00"/><stop offset="0.4589" stop-color="#ff5700"/><stop offset="0.4675" stop-color="#ff0f00"/><stop offset="0.4719" stop-color="#fe0000"/><stop offset="0.4848" stop-color="#d60000"/><stop offset="0.4978" stop-color="#c50000"/><stop offset="0.5065" stop-color="#cc0000"/><stop offset="0.5195" stop-color="#ed0000"/><stop offset="0.5238" stop-color="#fb0000"/><stop offset="0.5281" stop-color="#ff0c00"/><stop offset="0.5325" stop-color="#ff2800"/><stop offset="0.5411" stop-color="#ff7500"/><stop offset="0.5455" stop-color="#ff9400"/><stop offset="0.5498" stop-color="#d5ff2a"/><stop offset="0.5628" stop-color="#75ff8a"/><stop offset="0.5758" stop-color="#03fffc"/><stop offset="0.5931" stop-color="#0092ff"/><stop offset="0.6061" stop-color="#005bff"/><stop offset="0.6277" stop-color="#0008ff"/><stop offset="0.6364" stop-color="#0000fa"/><stop offset="0.6797" stop-color="#0000c2"/><stop offset="0.7662" stop-color="#00009b"/><stop offset="0.9264" stop-color="#00008b"/><stop offset="1" stop-color="#00008a"/></linearGradient>
<linearGradient id="a71" gradientUnits="userSpaceOnUse" x1="50" x2="281"><stop offset="0" stop-color="#00008a"/><stop offset="0.1515" stop-color="#000091"/><stop offset="0.2468" stop-color="#00009f"/><stop offset="0.3203" stop-color="#0000c5"/><stop offset="0.3636" stop-color="#0000fe"/><stop offset="0.368" stop-color="#0004ff"/><stop offset="0.4026" stop-color="#0085ff"/><stop offset="0.4199" stop-color="#00f1ff"/><stop offset="0.4242" stop-color="#14ffeb"/><stop offset="0.4372" stop-color="#82ff7d"/><stop offset="0.4459" stop-color="#c0ff3f"/><stop offset="0.4502" stop-color="#ffa900"/><stop offset="0.4589" stop-color="#ff7000"/><stop offset="0.4675" stop-color="#ff2700"/><stop offset="0.4719" stop-color="#ff0d00"/><stop offset="0.4762" stop-color="#ff0000"/><stop offset="0.4892" stop-color="#e00000"/><stop offset="0.5022" stop-color="#db0000"/><stop offset="0.5152" stop-color="#f00000"/><stop offset="0.5195" stop-color="#fc0000"/><stop offset="0.5238" stop-color="#ff0a00"/><stop offset="0.5281" stop-color="#ff2000"/><stop offset="0.5368" stop-color="#ff6800"/><stop offset="0.5455" stop-color="#ffa400"/><stop offset="0.5498" stop-color="#c6ff39"/><stop offset="0.5628" stop-color="#65ff9a"/><stop offset="0.5714" stop-color="#1bffe4"/><stop offset="0.5758" stop-color="#00f7ff"/><stop offset="0.5931" stop-color="#008aff"/><stop offset="0.6277" stop-color="#0006ff"/><stop offset="0.6364" stop-color="#0000f9"/><stop offset="0.6797" stop-color="#0000c2"/><stop offset="0.7662" stop-color="#00009b"/><stop offset="0.9264" stop-color="#00008b"/><stop offset="1" stop-color="#00008a"/></linearGradient>
<linearGradient id="a72" gradientUnits="userSpaceOnUse" x1="50" x2="281"><stop offset="0" stop-color="#00008a"/><stop offset="0.1515" stop-color="#000091"/><stop offset="0.2511" stop-color="#0000a1"/><stop offset="0.3203" stop-color="#0000c4"/><stop offset="0.368" stop-color="#0003ff"/><stop offset="0.3766" stop-color="#001eff"/><stop offset="0.4026" stop-color="#0080ff"/><stop offset="0.4242" stop-color="#04fffb"/><stop offset="0.4416" stop-color="#90ff6f"/><stop offset="0.4459" stop-color="#aeff51"/><stop offset="0.4502" stop-color="#ffbb00"/><stop offset="0.4632" stop-color="#ff6800"/><stop offset="0.4719" stop-color="#ff2700"/><stop offset="0.4762" stop-color="#ff1000"/><stop offset="0.4848" stop-color="#fb0000"/><stop offset="0.4978" stop-color="#ee0000"/><stop offset="0.5108" stop-color="#f90000"/><stop offset="0.5152" stop-color="#ff0300"/><stop offset="0.5195" stop-color="#ff0d00"/><stop offset="0.5238" stop-color="#ff2200"/><stop offset="0.5411" stop-color="#ff9900"/><stop offset="0.5455" stop-color="#ffb500"/><stop offset="0.5498" stop-color="#b4ff4b"/><stop offset="0.5628" stop-color="#53ffac"/><stop offset="0.5714" stop-color="#0bfff4"/><stop offset="0.5758" stop-color="#00ecff"/><stop offset="0.5931" stop-color="#0083ff"/><stop offset="0.6277" stop-color="#0004ff"/><stop offset="0.6537" stop-color="#0000e1"/><stop offset="0.6797" stop-color="#0000c2"/><stop offset="0.7662" stop-color="#00009b"/><stop offset="0.9264" stop-color="#00008b"/><stop offset="1" stop-color="#00008a"/></linearGradient>
<linearGradient id="a73" gradientUnits="userSpaceOnUse" x1="50" x2="281"><stop offset="0" stop-color="#00008a"/><stop offset="0.1515" stop-color="#000091"/><stop offset="0.2511" stop-color="#0000a1"/><stop offset="0.3247" stop-color="#0000c9"/><stop offset="0.368" stop-color="#0001ff"/><stop offset="0.3723" stop-color="#0009ff"/><stop offset="0.4069" stop-color="#008cff"/><stop offset="0.4242" stop-color="#00f4ff"/><stop offset="0.4286" stop-color="#16ffe9"/><stop offset="0.4416" stop-color="#7dff82"/><stop offset="0.4459" stop-color="#9aff65"/><stop offset="0.4502" stop-color="#ffce00"/><stop offset="0.4805" stop-color="#ff1b00"/><stop offset="0.4892" stop-color="#ff0800"/><stop offset="0.5022" stop-color="#ff0400"/><stop offset="0.5108" stop-color="#ff0d00"/><stop offset="0.5152" stop-color="#ff1700"/><stop offset="0.5281" stop-color="#ff6200"/><stop offset="0.5455" stop-color="#ffc900"/><stop offset="0.5498" stop-color="#9fff60"/><stop offset="0.5628" stop-color="#3fffc0"/><stop offset="0.5714" stop-color="#00f9ff"/><stop offset="0.5887" stop-color="#0091ff"/><stop offset="0.6061" stop-color="#004dff"/><stop offset="0.6234" stop-color="#000cff"/><stop offset="0.632" stop-color="#0000fc"/><stop offset="0.6797" stop-color="#0000c1"/><stop offset="0.7662" stop-color="#00009b"/><stop offset="0.9264" stop-color="#00008b"/><stop offset="1" stop-color="#00008a"/></linearGradient>
<linearGradient id="a74" gradientUnits="userSpaceOnUse" x1="50" x2="281"><stop offset="0" stop-color="#00008a"/><stop offset="0.1558" stop-color="#000091"/><stop offset="0.2511" stop-color="#0000a1"/><stop offset="0.3247" stop-color="#0000c7"/><stop offset="0.368" stop-color="#0000ff"/><stop offset="0.3723" stop-color="#0005ff"/><stop offset="0.4069" stop-color="#0082ff"/><stop offset="0.4286" stop-color="#01fffe"/><stop offset="0.4459" stop-color="#84ff7b"/><stop offset="0.4502" stop-color="#ffde00"/><stop offset="0.4805" stop-color="#ff4500"/><stop offset="0.4892" stop-color="#ff2700"/><stop offset="0.4978" stop-color="#ff1d00"/><stop offset="0.5065" stop-color="#ff2500"/><stop offset="0.5152" stop-color="#ff4100"/><stop offset="0.5455" stop-color="#ffdb00"/><stop offset="0.5498" stop-color="#89ff76"/><stop offset="0.5671" stop-color="#08fff7"/><stop offset="0.5714" stop-color="#00ebff"/><stop offset="0.5887" stop-color="#0085ff"/><stop offset="0.6234" stop-color="#0007ff"/><stop offset="0.632" stop-color="#0000fa"/><stop offset="0.6797" stop-color="#0000c1"/><stop offset="0.7619" stop-color="#00009b"/><stop offset="0.9264" stop-color="#00008b"/><stop offset="1" stop-color="#00008a"/></linearGradient>
<linearGradient id="a75" gradientUnits="userSpaceOnUse" x1="50" x2="281"><stop offset="0" stop-color="#00008a"/><stop offset="0.1558" stop-color="#000091"/><stop offset="0.2511" stop-color="#0000a0"/><stop offset="0.3247" stop-color="#0000c6"/><stop offset="0.3723" stop-color="#0003ff"/><stop offset="0.381" stop-color="#001dff"/><stop offset="0.4113" stop-color="#008cff"/><stop offset="0.4286" stop-color="#00eeff"/><stop offset="0.4329" stop-color="#0bfff4"/><stop offset="0.4459" stop-color="#69ff96"/><stop offset="0.4502" stop-color="#ffeb00"/><stop offset="0.4589" stop-color="#ffca00"/><stop offset="0.4719" stop-color="#ff8d00"/><stop offset="0.4892" stop-color="#ff5400"/><stop offset="0.4978" stop-color="#ff4a00"/><stop offset="0.5065" stop-color="#ff5300"/><stop offset="0.5238" stop-color="#ff8a00"/><stop offset="0.5411" stop-color="#ffda00"/><stop offset="0.5455" stop-color="#ffe800"/><stop offset="0.5498" stop-color="#70ff8f"/><stop offset="0.5628" stop-color="#12ffed"/><stop offset="0.5671" stop-color="#00f3ff"/><stop offset="0.5844" stop-color="#0091ff"/><stop offset="0.6061" stop-color="#0040ff"/><stop offset="0.6234" stop-color="#0004ff"/><stop offset="0.645" stop-color="#0000e8"/><stop offset="0.6797" stop-color="#0000c0"/><stop offset="0.7619" stop-color="#00009b"/><stop offset="0.9264" stop-color="#00008b"/><stop offset="1" stop-color="#00008a"/></linearGradient>
<linearGradient id="a76" gradientUnits="userSpaceOnUse" x1="50" x2="281"><stop offset="0" stop-color="#00008a"/><stop offset="0.1558" stop-color="#000091"/><stop offset="0.2511" stop-color="#0000a0"/><stop offset="0.3247" stop-color="#0000c4"/><stop offset="0.3723" stop-color="#0001ff"/><stop offset="0.3766" stop-color="#0007ff"/><stop offset="0.4113" stop-color="#0081ff"/><stop offset="0.4329" stop-color="#00f4ff"/><stop offset="0.4372" stop-color="#11ffee"/><stop offset="0.4459" stop-color="#4dffb2"/><stop offset="0.4502" stop-color="#fff900"/><stop offset="0.4632" stop-color="#ffcf00"/><stop offset="0.4762" stop-color="#ff9c00"/><stop offset="0.4892" stop-color="#ff7d00"/><stop offset="0.5022" stop-color="#ff7700"/><stop offset="0.5152" stop-color="#ff8c00"/><stop offset="0.5281" stop-color="#ffb800"/><stop offset="0.5411" stop-color="#ffe900"/><stop offset="0.5455" stop-color="#fff600"/><stop offset="0.5498" stop-color="#52ffad"/><stop offset="0.5584" stop-color="#18ffe7"/><stop offset="0.5628" stop-color="#00f9ff"/><stop offset="0.5844" stop-color="#0084ff"/><stop offset="0.619" stop-color="#000aff"/><stop offset="0.6277" stop-color="#0000fc"/><stop offset="0.6753" stop-color="#0000c2"/><stop offset="0.7619" stop-color="#00009b"/><stop offset="0.9264" stop-color="#00008b"/><stop offset="1" stop-color="#00008a"/></linearGradient>
<linearGradient id="a77" gradientUnits="userSpaceOnUse" x1="50" x2="281"><stop offset="0" stop-color="#00008a"/><stop offset="0.1558" stop-color="#000091"/><stop offset="0.2554" stop-color="#0000a1"/><stop offset="0.329" stop-color="#0000c8"/><stop offset="0.3723" stop-color="#0000fe"/><stop offset="0.3766" stop-color="#0004ff"/><stop offset="0.4156" stop-color="#0086ff"/><stop offset="0.4372" stop-color="#00f7ff"/><stop offset="0.4416" stop-color="#13ffec"/><stop offset="0.4589" stop-color="#7dff82"/><stop offset="0.4719" stop-color="#b4ff4b"/><stop offset="0.4848" stop-color="#daff25"/><stop offset="0.4978" stop-color="#e8ff17"/><stop offset="0.5108" stop-color="#dbff24"/><stop offset="0.5238" stop-color="#b7ff48"/><stop offset="0.5368" stop-color="#81ff7e"/><stop offset="0.5584" stop-color="#00fbff"/><stop offset="0.5801" stop-color="#008aff"/><stop offset="0.619" stop-color="#0005ff"/><stop offset="0.632" stop-color="#0000f4"/><stop offset="0.6753" stop-color="#0000c1"/><stop offset="0.7619" stop-color="#00009b"/><stop offset="0.9264" stop-color="#00008b"/><stop offset="1" stop-color="#00008a"/></linearGradient>
<linearGradient id="a78" gradientUnits="userSpaceOnUse" x1="50" x2="281"><stop offset="0" stop-color="#00008a"/><stop offset="0.1558" stop-color="#000091"/><stop offset="0.2554" stop-color="#0000a1"/><stop offset="0.329" stop-color="#0000c6"/><stop offset="0.3766" stop-color="#0001ff"/><stop offset="0.381" stop-color="#0007ff"/><stop offset="0.4199" stop-color="#008bff"/><stop offset="0.4416" stop-color="#00f6ff"/><stop offset="0.4459" stop-color="#10ffef"/><stop offset="0.4632" stop-color="#6fff90"/><stop offset="0.4762" stop-color="#a0ff5f"/><stop offset="0.4892" stop-color="#bcff43"/><stop offset="0.5022" stop-color="#c1ff3e"/><stop offset="0.5152" stop-color="#aeff51"/><stop offset="0.5281" stop-color="#86ff79"/><stop offset="0.5455" stop-color="#2effd1"/><stop offset="0.5541" stop-color="#00faff"/><stop offset="0.5801" stop-color="#007eff"/><stop offset="0.6147" stop-color="#000aff"/><stop offset="0.6234" stop-color="#0000fc"/><stop offset="0.6753" stop-color="#0000c0"/><stop offset="0.7619" stop-color="#00009b"/><stop offset="0.9221" stop-color="#00008b"/><stop offset="1" stop-color="#00008a"/></linearGradient>
<linearGradient id="a79" gradientUnits="userSpaceOnUse" x1="50" x2="281"><stop offset="0" stop-color="#00008a"/><stop offset="0.1558" stop-color="#000091"/><stop offset="0.2554" stop-color="#0000a0"/><stop offset="0.3333" stop-color="#0000c9"/><stop offset="0.381" stop-color="#0004ff"/><stop offset="0.3983" stop-color="#0039ff"/><stop offset="0.4242" stop-color="#008fff"/><stop offset="0.4459" stop-color="#00f2ff"/><stop offset="0.4502" stop-color="#08fff7"/><stop offset="0.4675" stop-color="#5bffa4"/><stop offset="0.4762" stop-color="#7cff83"/><stop offset="0.4892" stop-color="#96ff69"/><stop offset="0.5022" stop-color="#9bff64"/><stop offset="0.5152" stop-color="#89ff76"/><stop offset="0.5281" stop-color="#5fffa0"/><stop offset="0.5455" stop-color="#0dfff2"/><stop offset="0.5498" stop-color="#00f6ff"/><stop offset="0.5758" stop-color="#0081ff"/><stop offset="0.6147" stop-color="#0005ff"/><stop offset="0.6277" stop-color="#0000f4"/><stop offset="0.671" stop-color="#0000c2"/><stop offset="0.7576" stop-color="#00009b"/><stop offset="0.9221" stop-color="#00008b"/><stop offset="1" stop-color="#00008a"/></linearGradient>
<linearGradient id="a80" gradientUnits="userSpaceOnUse" x1="50" x2="281"><stop offset="0" stop-color="#00008a"/><stop offset="0.1558" stop-color="#000091"/><stop offset="0.2554" stop-color="#0000a0"/><stop offset="0.3333" stop-color="#0000c7"/><stop offset="0.381" stop-color="#0001ff"/><stop offset="0.3853" stop-color="#0006ff"/><stop offset="0.4286" stop-color="#008fff"/><stop offset="0.4502" stop-color="#00ebff"/><stop offset="0.4545" stop-color="#00fbff"/><stop offset="0.4719" stop-color="#44ffbb"/><stop offset="0.4848" stop-color="#67ff98"/><stop offset="0.4978" stop-color="#74ff8b"/><stop offset="0.5108" stop-color="#69ff96"/><stop offset="0.5281" stop-color="#38ffc7"/><stop offset="0.5411" stop-color="#01fffe"/><stop offset="0.5714" stop-color="#0081ff"/><stop offset="0.6104" stop-color="#0007ff"/><stop offset="0.6234" stop-color="#0000f7"/><stop offset="0.671" stop-color="#0000c1"/><stop offset="0.7576" stop-color="#00009b"/><stop offset="0.9221" stop-color="#00008b"/><stop offset="1" stop-color="#00008a"/></linearGradient>
<linearGradient id="a81" gradientUnits="userSpaceOnUse" x1="50" x2="281"><stop offset="0" stop-color="#00008a"/><stop offset="0.1602" stop-color="#000091"/><stop offset="0.2597" stop-color="#0000a1"/><stop offset="0.3333" stop-color="#0000c4"/><stop offset="0.3853" stop-color="#0002ff"/><stop offset="0.3896" stop-color="#0009ff"/><stop offset="0.4329" stop-color="#008dff"/><stop offset="0.4545" stop-color="#00e2ff"/><stop offset="0.4632" stop-color="#00fdff"/><stop offset="0.4805" stop-color="#34ffcb"/><stop offset="0.4935" stop-color="#46ffb9"/><stop offset="0.5065" stop-color="#43ffbc"/><stop offset="0.5195" stop-color="#2cffd3"/><stop offset="0.5325" stop-color="#02fffd"/><stop offset="0.5541" stop-color="#00b5ff"/><stop offset="0.5671" stop-color="#0081ff"/><stop offset="0.6061" stop-color="#000cff"/><stop offset="0.6147" stop-color="#0000fd"/><stop offset="0.6667" stop-color="#0000c2"/><stop offset="0.7576" stop-color="#00009b"/><stop offset="0.9221" stop-color="#00008b"/><stop offset="1" stop-color="#00008a"/></linearGradient>
<linearGradient id="a82" gradientUnits="userSpaceOnUse" x1="50" x2="281"><stop offset="0" stop-color="#00008a"/><stop offset="0.1602" stop-color="#000091"/><stop offset="0.2597" stop-color="#0000a0"/><stop offset="0.3377" stop-color="#0000c7"/><stop offset="0.3853" stop-color="#0000fe"/><stop offset="0.3939" stop-color="#000dff"/><stop offset="0.4372" stop-color="#0088ff"/><stop offset="0.4589" stop-color="#00d5ff"/><stop offset="0.4762" stop-color="#01fffe"/><stop offset="0.4892" stop-color="#19ffe6"/><stop offset="0.5022" stop-color="#1cffe3"/><stop offset="0.5152" stop-color="#0dfff2"/><stop offset="0.5238" stop-color="#00f8ff"/><stop offset="0.5411" stop-color="#00caff"/><stop offset="0.5628" stop-color="#007fff"/><stop offset="0.6061" stop-color="#0005ff"/><stop offset="0.619" stop-color="#0000f5"/><stop offset="0.6667" stop-color="#0000c1"/><stop offset="0.7576" stop-color="#00009b"/><stop offset="0.9221" stop-color="#00008b"/><stop offset="1" stop-color="#00008a"/></linearGradient>
<linearGradient id="a83" gradientUnits="userSpaceOnUse" x1="50" x2="281"><stop offset="0" stop-color="#00008a"/><stop offset="0.1602" stop-color="#000091"/><stop offset="0.2597" stop-color="#0000a0"/><stop offset="0.3377" stop-color="#0000c4"/><stop offset="0.3896" stop-color="#0000ff"/><stop offset="0.3983" stop-color="#000fff"/><stop offset="0.4372" stop-color="#0079ff"/><stop offset="0.4675" stop-color="#00d0ff"/><stop offset="0.4848" stop-color="#00eeff"/><stop offset="0.5022" stop-color="#00f4ff"/><stop offset="0.5195" stop-color="#00e3ff"/><stop offset="0.5368" stop-color="#00bdff"/><stop offset="0.5584" stop-color="#007bff"/><stop offset="0.5974" stop-color="#0012ff"/><stop offset="0.6017" stop-color="#0006ff"/><stop offset="0.619" stop-color="#0000f2"/><stop offset="0.6623" stop-color="#0000c2"/><stop offset="0.7532" stop-color="#00009b"/><stop offset="0.9221" stop-color="#00008b"/><stop offset="1" stop-color="#00008a"/></linearGradient>
<linearGradient id="a84" gradientUnits="userSpaceOnUse" x1="50" x2="281"><stop offset="0" stop-color="#00008a"/><stop offset="0.1602" stop-color="#000091"/><stop offset="0.2641" stop-color="#0000a1"/><stop offset="0.342" stop-color="#0000c7"/><stop offset="0.3939" stop-color="#0001ff"/><stop offset="0.4026" stop-color="#0010ff"/><stop offset="0.4372" stop-color="#006aff"/><stop offset="0.4545" stop-color="#0093ff"/><stop offset="0.4719" stop-color="#00bdff"/><stop offset="0.4892" stop-color="#00d4ff"/><stop offset="0.5065" stop-color="#00d4ff"/><stop offset="0.5238" stop-color="#00bfff"/><stop offset="0.5844" stop-color="#002bff"/><stop offset="0.5974" stop-color="#0006ff"/><stop offset="0.6147" stop-color="#0000f3"/><stop offset="0.6623" stop-color="#0000c1"/><stop offset="0.7532" stop-color="#00009b"/><stop offset="0.9221" stop-color="#00008b"/><stop offset="1" stop-color="#00008a"/></linearGradient>
<linearGradient id="a85" gradientUnits="userSpaceOnUse" x1="50" x2="281"><stop offset="0" stop-color="#00008a"/><stop offset="0.1645" stop-color="#000091"/><stop offset="0.2641" stop-color="#0000a0"/><stop offset="0.3463" stop-color="#0000c9"/><stop offset="0.3983" stop-color="#0001ff"/><stop offset="0.4069" stop-color="#0010ff"/><stop offset="0.4416" stop-color="#0065ff"/><stop offset="0.4805" stop-color="#00aeff"/><stop offset="0.4978" stop-color="#00b9ff"/><stop offset="0.5152" stop-color="#00afff"/><stop offset="0.5325" stop-color="#0090ff"/><stop offset="0.5714" stop-color="#0040ff"/><stop offset="0.5931" stop-color="#0006ff"/><stop offset="0.6104" stop-color="#0000f4"/><stop offset="0.658" stop-color="#0000c2"/><stop offset="0.7532" stop-color="#00009b"/><stop offset="0.9221" stop-color="#00008b"/><stop offset="1" stop-color="#00008a"/></linearGradient>
<linearGradient id="a86" gradientUnits="userSpaceOnUse" x1="50" x2="281"><stop offset="0" stop-color="#00008a"/><stop offset="0.1645" stop-color="#000091"/><stop offset="0.2684" stop-color="#0000a1"/><stop offset="0.3463" stop-color="#0000c5"/><stop offset="0.4026" stop-color="#0001ff"/><stop offset="0.4113" stop-color="#000fff"/><stop offset="0.4459" stop-color="#005eff"/><stop offset="0.4805" stop-color="#0090ff"/><stop offset="0.4978" stop-color="#009bff"/><stop offset="0.5152" stop-color="#0091ff"/><stop offset="0.5498" stop-color="#0060ff"/><stop offset="0.5844" stop-color="#0011ff"/><stop offset="0.5887" stop-color="#0006ff"/><stop offset="0.6061" stop-color="#0000f4"/><stop offset="0.658" stop-color="#0000c0"/><stop offset="0.7489" stop-color="#00009b"/><stop offset="0.9177" stop-color="#00008b"/><stop offset="1" stop-color="#00008a"/></linearGradient>
<linearGradient id="a87" gradientUnits="userSpaceOnUse" x1="50" x2="281"><stop offset="0" stop-color="#00008a"/><stop offset="0.1645" stop-color="#000091"/><stop offset="0.2684" stop-color="#0000a0"/><stop offset="0.3506" stop-color="#0000c7"/><stop offset="0.4069" stop-color="#0001ff"/><stop offset="0.4156" stop-color="#000cff"/><stop offset="0.4502" stop-color="#0056ff"/><stop offset="0.4762" stop-color="#0077ff"/><stop offset="0.5022" stop-color="#0080ff"/><stop offset="0.5281" stop-color="#006fff"/><stop offset="0.5584" stop-color="#003fff"/><stop offset="0.5844" stop-color="#0005ff"/><stop offset="0.6061" stop-color="#0000f0"/><stop offset="0.6537" stop-color="#0000c1"/><stop offset="0.7489" stop-color="#00009b"/><stop offset="0.9177" stop-color="#00008b"/><stop offset="1" stop-color="#00008a"/></linearGradient>
<linearGradient id="a88" gradientUnits="userSpaceOnUse" x1="50" x2="281"><stop offset="0" stop-color="#00008a"/><stop offset="0.1645" stop-color="#000091"/><stop offset="0.2727" stop-color="#0000a1"/><stop offset="0.355" stop-color="#0000c8"/><stop offset="0.4113" stop-color="#0000ff"/><stop offset="0.4199" stop-color="#0009ff"/><stop offset="0.4502" stop-color="#0046ff"/><stop offset="0.4762" stop-color="#0066ff"/><stop offset="0.5022" stop-color="#006eff"/><stop offset="0.5281" stop-color="#005eff"/><stop offset="0.5584" stop-color="#0030ff"/><stop offset="0.5801" stop-color="#0004ff"/><stop offset="0.6104" stop-color="#0000e8"/><stop offset="0.6494" stop-color="#0000c2"/><stop offset="0.7446" stop-color="#00009b"/><stop offset="0.9177" stop-color="#00008b"/><stop offset="1" stop-color="#00008a"/></linearGradient>
<linearGradient id="a89" gradientUnits="userSpaceOnUse" x1="50" x2="281"><stop offset="0" stop-color="#00008a"/><stop offset="0.1688" stop-color="#000091"/><stop offset="0.2727" stop-color="#0000a0"/><stop offset="0.3593" stop-color="#0000c9"/><stop offset="0.4199" stop-color="#0002ff"/><stop offset="0.4329" stop-color="#0016ff"/><stop offset="0.4632" stop-color="#0047ff"/><stop offset="0.4892" stop-color="#005bff"/><stop offset="0.5152" stop-color="#0058ff"/><stop offset="0.5411" stop-color="#003dff"/><stop offset="0.5714" stop-color="#0006ff"/><stop offset="0.5887" stop-color="#0000f7"/><stop offset="0.6494" stop-color="#0000c0"/><stop offset="0.7446" stop-color="#00009b"/><stop offset="0.9134" stop-color="#00008b"/><stop offset="1" stop-color="#00008a"/></linearGradient>
<linearGradient id="a90" gradientUnits="userSpaceOnUse" x1="50" x2="281"><stop offset="0" stop-color="#00008a"/><stop offset="0.1688" stop-color="#000091"/><stop offset="0.2771" stop-color="#0000a1"/><stop offset="0.3593" stop-color="#0000c5"/><stop offset="0.4242" stop-color="#0000ff"/><stop offset="0.4372" stop-color="#000fff"/><stop offset="0.4675" stop-color="#003bff"/><stop offset="0.4935" stop-color="#004aff"/><stop offset="0.5195" stop-color="#0043ff"/><stop offset="0.5498" stop-color="#001fff"/><stop offset="0.5671" stop-color="#0004ff"/><stop offset="0.5974" stop-color="#0000eb"/><stop offset="0.645" stop-color="#0000c1"/><stop offset="0.7446" stop-color="#00009b"/><stop offset="0.9134" stop-color="#00008b"/><stop offset="1" stop-color="#00008a"/></linearGradient>
<linearGradient id="a91" gradientUnits="userSpaceOnUse" x1="50" x2="281"><stop offset="0" stop-color="#00008a"/><stop offset="0.1688" stop-color="#000091"/><stop offset="0.2771" stop-color="#0000a0"/><stop offset="0.3636" stop-color="#0000c6"/><stop offset="0.4286" stop-color="#0000fd"/><stop offset="0.4416" stop-color="#0007ff"/><stop offset="0.4719" stop-color="#002eff"/><stop offset="0.4978" stop-color="#0039ff"/><stop offset="0.5238" stop-color="#002eff"/><stop offset="0.5628" stop-color="#0002ff"/><stop offset="0.6234" stop-color="#0000cf"/><stop offset="0.645" stop-color="#0000bf"/><stop offset="0.7403" stop-color="#00009b"/><stop offset="0.9134" stop-color="#00008b"/><stop offset="1" stop-color="#00008a"/></linearGradient>
<linearGradient id="a92" gradientUnits="userSpaceOnUse" x1="50" x2="281"><stop offset="0" stop-color="#00008a"/><stop offset="0.1732" stop-color="#000091"/><stop offset="0.2814" stop-color="#0000a1"/><stop offset="0.368" stop-color="#0000c6"/><stop offset="0.4372" stop-color="#0000fd"/><stop offset="0.4545" stop-color="#000aff"/><stop offset="0.4848" stop-color="#0024ff"/><stop offset="0.5108" stop-color="#0025ff"/><stop offset="0.5411" stop-color="#000bff"/><stop offset="0.5628" stop-color="#0000fb"/><stop offset="0.6407" stop-color="#0000bf"/><stop offset="0.7403" stop-color="#00009b"/><stop offset="0.9134" stop-color="#00008b"/><stop offset="1" stop-color="#00008a"/></linearGradient>
<linearGradient id="a93" gradientUnits="userSpaceOnUse" x1="50" x2="281"><stop offset="0" stop-color="#00008a"/><stop offset="0.1732" stop-color="#000091"/><stop offset="0.2814" stop-color="#0000a0"/><stop offset="0.3766" stop-color="#0000ca"/><stop offset="0.4416" stop-color="#0000fa"/><stop offset="0.4719" stop-color="#000bff"/><stop offset="0.5022" stop-color="#0015ff"/><stop offset="0.5498" stop-color="#0000fd"/><stop offset="0.6147" stop-color="#0000ce"/><stop offset="0.6407" stop-color="#0000be"/><stop offset="0.7359" stop-color="#00009b"/><stop offset="0.9091" stop-color="#00008b"/><stop offset="1" stop-color="#00008a"/></linearGradient>
<linearGradient id="a94" gradientUnits="userSpaceOnUse" x1="50" x2="281"><stop offset="0" stop-color="#00008a"/><stop offset="0.1775" stop-color="#000091"/><stop offset="0.2857" stop-color="#0000a0"/><stop offset="0.381" stop-color="#0000c7"/><stop offset="0.4459" stop-color="#0000f4"/><stop offset="0.4892" stop-color="#0002ff"/><stop offset="0.5368" stop-color="#0000fa"/><stop offset="0.5974" stop-color="#0000d6"/><stop offset="0.6277" stop-color="#0000c0"/><stop offset="0.7316" stop-color="#00009b"/><stop offset="0.9091" stop-color="#00008b"/><stop offset="1" stop-color="#00008a"/></linearGradient>
<linearGradient id="a95" gradientUnits="userSpaceOnUse" x1="50" x2="281"><stop offset="0" stop-color="#00008a"/><stop offset="0.1818" stop-color="#000091"/><stop offset="0.2944" stop-color="#0000a1"/><stop offset="0.3939" stop-color="#0000c8"/><stop offset="0.4589" stop-color="#0000ee"/><stop offset="0.5108" stop-color="#0000f4"/><stop offset="0.5671" stop-color="#0000e0"/><stop offset="0.619" stop-color="#0000c0"/><stop offset="0.7273" stop-color="#00009b"/><stop offset="0.9091" stop-color="#00008b"/><stop offset="1" stop-color="#00008a"/></linearGradient>
<linearGradient id="a96" gradientUnits="userSpaceOnUse" x1="50" x2="281"><stop offset="0" stop-color="#00008a"/><stop offset="0.1818" stop-color="#000091"/><stop offset="0.2987" stop-color="#0000a0"/><stop offset="0.4113" stop-color="#0000ca"/><stop offset="0.4719" stop-color="#0000e6"/><stop offset="0.5281" stop-color="#0000e5"/><stop offset="0.5887" stop-color="#0000c8"/><stop offset="0.7229" stop-color="#00009b"/><stop offset="0.9048" stop-color="#00008b"/><stop offset="1" stop-color="#00008a"/></linearGradient>
<linearGradient id="a97" gradientUnits="userSpaceOnUse" x1="50" x2="281"><stop offset="0" stop-color="#00008a"/><stop offset="0.1861" stop-color="#000090"/><stop offset="0.3074" stop-color="#0000a1"/><stop offset="0.4329" stop-color="#0000cc"/><stop offset="0.4935" stop-color="#0000dd"/><stop offset="0.5498" stop-color="#0000d2"/><stop offset="0.6017" stop-color="#0000be"/><stop offset="0.7186" stop-color="#00009a"/><stop offset="0.9004" stop-color="#00008b"/><stop offset="1" stop-color="#00008a"/></linearGradient>
<linearGradient id="a98" gradientUnits="userSpaceOnUse" x1="50" x2="281"><stop offset="0" stop-color="#00008a"/><stop offset="0.1948" stop-color="#000091"/><stop offset="0.316" stop-color="#0000a1"/><stop offset="0.4892" stop-color="#0000d0"/><stop offset="0.5498" stop-color="#0000c7"/><stop offset="0.71" stop-color="#00009a"/><stop offset="0.8961" stop-color="#00008b"/><stop offset="1" stop-color="#00008a"/></linearGradient>
<linearGradient id="a99" gradientUnits="userSpaceOnUse" x1="50" x2="281"><stop offset="0" stop-color="#00008a"/><stop offset="0.1991" stop-color="#000091"/><stop offset="0.329" stop-color="#0000a1"/><stop offset="0.4545" stop-color="#0000c0"/><stop offset="0.5541" stop-color="#0000be"/><stop offset="0.7056" stop-color="#00009a"/><stop offset="0.8961" stop-color="#00008b"/><stop offset="1" stop-color="#00008a"/></linearGradient>
<linearGradient id="a100" gradientUnits="userSpaceOnUse" x1="50" x2="281"><stop offset="0" stop-color="#00008a"/><stop offset="0.2121" stop-color="#000091"/><stop offset="0.3463" stop-color="#0000a1"/><stop offset="0.4675" stop-color="#0000b9"/><stop offset="0.5714" stop-color="#0000b4"/><stop offset="0.6926" stop-color="#00009a"/><stop offset="0.8874" stop-color="#00008b"/><stop offset="1" stop-color="#00008a"/></linearGradient>
<linearGradient id="a101" gradientUnits="userSpaceOnUse" x1="50" x2="281"><stop offset="0" stop-color="#00008a"/><stop offset="0.2208" stop-color="#000090"/><stop offset="0.3766" stop-color="#0000a2"/><stop offset="0.4935" stop-color="#0000b1"/><stop offset="0.6061" stop-color="#0000a5"/><stop offset="0.6883" stop-color="#000098"/><stop offset="0.8788" stop-color="#00008b"/><stop offset="1" stop-color="#00008a"/></linearGradient>
<linearGradient id="a102" gradientUnits="userSpaceOnUse" x1="50" x2="281"><stop offset="0" stop-color="#00008a"/><stop offset="0.2381" stop-color="#000091"/><stop offset="0.5152" stop-color="#0000a8"/><stop offset="0.8312" stop-color="#00008c"/><stop offset="1" stop-color="#00008a"/></linearGradient>
<linearGradient id="a103" gradientUnits="userSpaceOnUse" x1="50" x2="281"><stop offset="0" stop-color="#000089"/><stop offset="0.2597" stop-color="#000090"/><stop offset="0.5325" stop-color="#00009d"/><stop offset="0.8701" stop-color="#00008b"/><stop offset="1" stop-color="#000089"/></linearGradient>
<linearGradient id="a104" gradientUnits="userSpaceOnUse" x1="50" x2="281"><stop offset="0" stop-color="#000088"/><stop offset="0.3117" stop-color="#000090"/><stop offset="0.6104" stop-color="#000093"/><stop offset="0.9221" stop-color="#000089"/><stop offset="1" stop-color="#000088"/></linearGradient>
<linearGradient id="a105" gradientUnits="userSpaceOnUse" x1="50" x2="281"><stop offset="0" stop-color="#000087"/><stop offset="0.658" stop-color="#00008c"/><stop offset="1" stop-color="#000087"/></linearGradient>
<linearGradient id="a106" gradientUnits="userSpaceOnUse" x1="50" x2="281"><stop offset="0" stop-color="#000086"/><stop offset="1" stop-color="#000086"/></linearGradient>
<linearGradient id="b0" gradientUnits="userSpaceOnUse" x1="431" x2="666"><stop offset="0" stop-color="#00008e"/><stop offset="0.617" stop-color="#000095"/><stop offset="1" stop-color="#00008e"/></linearGradient>
<linearGradient id="b1" gradientUnits="userSpaceOnUse" x1="431" x2="666"><stop offset="0" stop-color="#000090"/><stop offset="0.5915" stop-color="#00009b"/><stop offset="1" stop-color="#000090"/></linearGradient>
<linearGradient id="b2" gradientUnits="userSpaceOnUse" x1="431" x2="666"><stop offset="0" stop-color="#000093"/><stop offset="0.5702" stop-color="#0000a1"/><stop offset="1" stop-color="#000093"/></linearGradient>
<linearGradient id="b3" gradientUnits="userSpaceOnUse" x1="431" x2="666"><stop offset="0" stop-color="#000096"/><stop offset="0.5574" stop-color="#0000a7"/><stop offset="1" stop-color="#000096"/></linearGradient>
<linearGradient id="b4" gradientUnits="userSpaceOnUse" x1="431" x2="666"><stop offset="0" stop-color="#000099"/><stop offset="0.5447" stop-color="#0000ad"/><stop offset="1" stop-color="#000099"/></linearGradient>
<linearGradient id="b5" gradientUnits="userSpaceOnUse" x1="431" x2="666"><stop offset="0" stop-color="#00009c"/><stop offset="0.5362" stop-color="#0000b3"/><stop offset="1" stop-color="#00009c"/></linearGradient>
<linearGradient id="b6" gradientUnits="userSpaceOnUse" x1="431" x2="666"><stop offset="0" stop-color="#00009f"/><stop offset="0.5319" stop-color="#0000b9"/><stop offset="1" stop-color="#00009f"/></linearGradient>
<linearGradient id="b7" gradientUnits="userSpaceOnUse" x1="431" x2="666"><stop offset="0" stop-color="#0000a2"/><stop offset="0.5234" stop-color="#0000bf"/><stop offset="1" stop-color="#0000a2"/></linearGradient>
<linearGradient id="b8" gradientUnits="userSpaceOnUse" x1="431" x2="666"><stop offset="0" stop-color="#0000a5"/><stop offset="0.5191" stop-color="#0000c4"/><stop offset="1" stop-color="#0000a5"/></linearGradient>
<linearGradient id="b9" gradientUnits="userSpaceOnUse" x1="431" x2="666"><stop offset="0" stop-color="#0000a8"/><stop offset="0.3957" stop-color="#0000c5"/><stop offset="0.5702" stop-color="#0000c8"/><stop offset="1" stop-color="#0000a8"/></linearGradient>
<linearGradient id="b10" gradientUnits="userSpaceOnUse" x1="431" x2="666"><stop offset="0" stop-color="#0000aa"/><stop offset="0.3787" stop-color="#0000c8"/><stop offset="0.5489" stop-color="#0000ce"/><stop offset="1" stop-color="#0000aa"/></linearGradient>
<linearGradient id="b11" gradientUnits="userSpaceOnUse" x1="431" x2="666"><stop offset="0" stop-color="#0000ac"/><stop offset="0.3702" stop-color="#0000cb"/><stop offset="0.5362" stop-color="#0000d3"/><stop offset="1" stop-color="#0000ad"/></linearGradient>
<linearGradient id="b12" gradientUnits="userSpaceOnUse" x1="431" x2="666"><stop offset="0" stop-color="#0000ae"/><stop offset="0.3617" stop-color="#0000cd"/><stop offset="0.5277" stop-color="#0000d7"/><stop offset="1" stop-color="#0000af"/></linearGradient>
<linearGradient id="b13" gradientUnits="userSpaceOnUse" x1="431" x2="666"><stop offset="0" stop-color="#0000b0"/><stop offset="0.3574" stop-color="#0000d0"/><stop offset="0.5191" stop-color="#0000db"/><stop offset="1" stop-color="#0000b1"/></linearGradient>
<linearGradient id="b14" gradientUnits="userSpaceOnUse" x1="431" x2="666"><stop offset="0" stop-color="#0000b3"/><stop offset="0.3532" stop-color="#0000d3"/><stop offset="0.5149" stop-color="#0000df"/><stop offset="1" stop-color="#0000b3"/></linearGradient>
<linearGradient id="b15" gradientUnits="userSpaceOnUse" x1="431" x2="666"><stop offset="0" stop-color="#0000b5"/><stop offset="0.3489" stop-color="#0000d6"/><stop offset="0.5064" stop-color="#0000e3"/><stop offset="0.6681" stop-color="#0000d4"/><stop offset="1" stop-color="#0000b5"/></linearGradient>
<linearGradient id="b16" gradientUnits="userSpaceOnUse" x1="431" x2="666"><stop offset="0" stop-color="#0000b7"/><stop offset="0.3447" stop-color="#0000d9"/><stop offset="0.5021" stop-color="#0000e7"/><stop offset="0.6596" stop-color="#0000d9"/><stop offset="1" stop-color="#0000b7"/></linearGradient>
<linearGradient id="b17" gradientUnits="userSpaceOnUse" x1="431" x2="666"><stop offset="0" stop-color="#0000b9"/><stop offset="0.3404" stop-color="#0000db"/><stop offset="0.4936" stop-color="#0000eb"/><stop offset="0.6426" stop-color="#0000df"/><stop offset="0.966" stop-color="#0000bb"/><stop offset="1" stop-color="#0000b9"/></linearGradient>
<linearGradient id="b18" gradientUnits="userSpaceOnUse" x1="431" x2="666"><stop offset="0" stop-color="#0000bb"/><stop offset="0.3404" stop-color="#0000df"/><stop offset="0.4936" stop-color="#0000ef"/><stop offset="0.6426" stop-color="#0000e2"/><stop offset="0.9617" stop-color="#0000bd"/><stop offset="1" stop-color="#0000bb"/></linearGradient>
<linearGradient id="b19" gradientUnits="userSpaceOnUse" x1="431" x2="666"><stop offset="0" stop-color="#0000bd"/><stop offset="0.3362" stop-color="#0000e1"/><stop offset="0.4851" stop-color="#0000f3"/><stop offset="0.6255" stop-color="#0000e9"/><stop offset="0.9404" stop-color="#0000c1"/><stop offset="1" stop-color="#0000bd"/></linearGradient>
<linearGradient id="b20" gradientUnits="userSpaceOnUse" x1="431" x2="666"><stop offset="0" stop-color="#0000c0"/><stop offset="0.3362" stop-color="#0000e6"/><stop offset="0.4851" stop-color="#0000f9"/><stop offset="0.6213" stop-color="#0000ef"/><stop offset="0.9362" stop-color="#0000c4"/><stop offset="1" stop-color="#0000c0"/></linearGradient>
<linearGradient id="b21" gradientUnits="userSpaceOnUse" x1="431" x2="666"><stop offset="0" stop-color="#0000c4"/><stop offset="0.3021" stop-color="#0000e7"/><stop offset="0.4681" stop-color="#0001ff"/><stop offset="0.6" stop-color="#0000f9"/><stop offset="0.8979" stop-color="#0000cd"/><stop offset="1" stop-color="#0000c4"/></linearGradient>
<linearGradient id="b22" gradientUnits="userSpaceOnUse" x1="431" x2="666"><stop offset="0" stop-color="#0000c8"/><stop offset="0.2766" stop-color="#0000ea"/><stop offset="0.4128" stop-color="#0003ff"/><stop offset="0.5404" stop-color="#0009ff"/><stop offset="0.634" stop-color="#0000fb"/><stop offset="0.9106" stop-color="#0000d0"/><stop offset="1" stop-color="#0000c8"/></linearGradient>
<linearGradient id="b23" gradientUnits="userSpaceOnUse" x1="431" x2="666"><stop offset="0" stop-color="#0000cc"/><stop offset="0.2596" stop-color="#0000ed"/><stop offset="0.3745" stop-color="#0004ff"/><stop offset="0.5021" stop-color="#0012ff"/><stop offset="0.6298" stop-color="#0004ff"/><stop offset="0.8809" stop-color="#0000d9"/><stop offset="1" stop-color="#0000cc"/></linearGradient>
<linearGradient id="b24" gradientUnits="userSpaceOnUse" x1="431" x2="666"><stop offset="0" stop-color="#0000d0"/><stop offset="0.2468" stop-color="#0000f0"/><stop offset="0.3447" stop-color="#0004ff"/><stop offset="0.4766" stop-color="#0019ff"/><stop offset="0.5957" stop-color="#0012ff"/><stop offset="0.6936" stop-color="#0000fc"/><stop offset="0.9872" stop-color="#0000d1"/><stop offset="1" stop-color="#0000d0"/></linearGradient>
<linearGradient id="b25" gradientUnits="userSpaceOnUse" x1="431" x2="666"><stop offset="0" stop-color="#0000d4"/><stop offset="0.234" stop-color="#0000f4"/><stop offset="0.3149" stop-color="#0005ff"/><stop offset="0.4638" stop-color="#0021ff"/><stop offset="0.5787" stop-color="#001dff"/><stop offset="0.7277" stop-color="#0000fc"/><stop offset="0.9872" stop-color="#0000d6"/><stop offset="1" stop-color="#0000d5"/></linearGradient>
<linearGradient id="b26" gradientUnits="userSpaceOnUse" x1="431" x2="666"><stop offset="0" stop-color="#0000da"/><stop offset="0.2255" stop-color="#0000f9"/><stop offset="0.2936" stop-color="#0009ff"/><stop offset="0.4638" stop-color="#002bff"/><stop offset="0.5745" stop-color="#0027ff"/><stop offset="0.766" stop-color="#0000fc"/><stop offset="0.9957" stop-color="#0000da"/><stop offset="1" stop-color="#0000da"/></linearGradient>
<linearGradient id="b27" gradientUnits="userSpaceOnUse" x1="431" x2="666"><stop offset="0" stop-color="#0000de"/><stop offset="0.1915" stop-color="#0000fa"/><stop offset="0.2553" stop-color="#0007ff"/><stop offset="0.4596" stop-color="#0034ff"/><stop offset="0.566" stop-color="#0031ff"/><stop offset="0.7957" stop-color="#0000fd"/><stop offset="1" stop-color="#0000df"/></linearGradient>
<linearGradient id="b28" gradientUnits="userSpaceOnUse" x1="431" x2="666"><stop offset="0" stop-color="#0000e3"/><stop offset="0.1702" stop-color="#0000fc"/><stop offset="0.2936" stop-color="#0017ff"/><stop offset="0.4596" stop-color="#003cff"/><stop offset="0.566" stop-color="#003aff"/><stop offset="0.8213" stop-color="#0000fe"/><stop offset="1" stop-color="#0000e3"/></linearGradient>
<linearGradient id="b29" gradientUnits="userSpaceOnUse" x1="431" x2="666"><stop offset="0" stop-color="#0000e7"/><stop offset="0.1745" stop-color="#0004ff"/><stop offset="0.3702" stop-color="#0032ff"/><stop offset="0.4809" stop-color="#0047ff"/><stop offset="0.583" stop-color="#003fff"/><stop offset="0.817" stop-color="#0006ff"/><stop offset="0.8936" stop-color="#0000f7"/><stop offset="1" stop-color="#0000e8"/></linearGradient>
<linearGradient id="b30" gradientUnits="userSpaceOnUse" x1="431" x2="666"><stop offset="0" stop-color="#0000ea"/><stop offset="0.1532" stop-color="#0003ff"/><stop offset="0.3532" stop-color="#0032ff"/><stop offset="0.4638" stop-color="#004bff"/><stop offset="0.566" stop-color="#0048ff"/><stop offset="0.8383" stop-color="#0006ff"/><stop offset="0.9106" stop-color="#0000f7"/><stop offset="1" stop-color="#0000eb"/></linearGradient>
<linearGradient id="b31" gradientUnits="userSpaceOnUse" x1="431" x2="666"><stop offset="0" stop-color="#0000e8"/><stop offset="0.1234" stop-color="#0004ff"/><stop offset="0.2723" stop-color="#0031ff"/><stop offset="0.3532" stop-color="#0052ff"/><stop offset="0.4468" stop-color="#0073ff"/><stop offset="0.5319" stop-color="#0077ff"/><stop offset="0.6213" stop-color="#005fff"/><stop offset="0.7234" stop-color="#0034ff"/><stop offset="0.8681" stop-color="#0007ff"/><stop offset="0.9191" stop-color="#0000f8"/><stop offset="1" stop-color="#0000e9"/></linearGradient>
<linearGradient id="b32" gradientUnits="userSpaceOnUse" x1="431" x2="666"><stop offset="0" stop-color="#0000e9"/><stop offset="0.1149" stop-color="#0003ff"/><stop offset="0.2596" stop-color="#0030ff"/><stop offset="0.3319" stop-color="#004fff"/><stop offset="0.4298" stop-color="#0078ff"/><stop offset="0.5106" stop-color="#0082ff"/><stop offset="0.5957" stop-color="#0072ff"/><stop offset="0.7319" stop-color="#0035ff"/><stop offset="0.8638" stop-color="#000bff"/><stop offset="0.9191" stop-color="#0000fa"/><stop offset="1" stop-color="#0000ea"/></linearGradient>
<linearGradient id="b33" gradientUnits="userSpaceOnUse" x1="431" x2="666"><stop offset="0" stop-color="#0000ea"/><stop offset="0.1106" stop-color="#0003ff"/><stop offset="0.2511" stop-color="#002fff"/><stop offset="0.3234" stop-color="#004fff"/><stop offset="0.4255" stop-color="#007dff"/><stop offset="0.5021" stop-color="#0090ff"/><stop offset="0.6" stop-color="#0075ff"/><stop offset="0.7362" stop-color="#0036ff"/><stop offset="0.8596" stop-color="#000dff"/><stop offset="0.9191" stop-color="#0000fb"/><stop offset="1" stop-color="#0000ea"/></linearGradient>
<linearGradient id="b34" gradientUnits="userSpaceOnUse" x1="431" x2="666"><stop offset="0" stop-color="#0000ea"/><stop offset="0.1106" stop-color="#0004ff"/><stop offset="0.2468" stop-color="#002fff"/><stop offset="0.3191" stop-color="#004fff"/><stop offset="0.4213" stop-color="#007fff"/><stop offset="0.4894" stop-color="#009aff"/><stop offset="0.5362" stop-color="#0094ff"/><stop offset="0.6809" stop-color="#0052ff"/><stop offset="0.7447" stop-color="#0034ff"/><stop offset="0.8681" stop-color="#000bff"/><stop offset="0.9234" stop-color="#0000fa"/><stop offset="1" stop-color="#0000ea"/></linearGradient>
<linearGradient id="b35" gradientUnits="userSpaceOnUse" x1="431" x2="666"><stop offset="0" stop-color="#0000ea"/><stop offset="0.1064" stop-color="#0003ff"/><stop offset="0.2383" stop-color="#002dff"/><stop offset="0.3106" stop-color="#004dff"/><stop offset="0.417" stop-color="#0081ff"/><stop offset="0.4809" stop-color="#00a2ff"/><stop offset="0.5277" stop-color="#00a1ff"/><stop offset="0.6085" stop-color="#0079ff"/><stop offset="0.7404" stop-color="#0037ff"/><stop offset="0.8596" stop-color="#000eff"/><stop offset="0.9234" stop-color="#0000fb"/><stop offset="1" stop-color="#0000eb"/></linearGradient>
<linearGradient id="b36" gradientUnits="userSpaceOnUse" x1="431" x2="666"><stop offset="0" stop-color="#0000ea"/><stop offset="0.1064" stop-color="#0004ff"/><stop offset="0.2383" stop-color="#002fff"/><stop offset="0.3064" stop-color="#004dff"/><stop offset="0.4213" stop-color="#008aff"/><stop offset="0.4723" stop-color="#00aaff"/><stop offset="0.5191" stop-color="#00adff"/><stop offset="0.566" stop-color="#0098ff"/><stop offset="0.6" stop-color="#0080ff"/><stop offset="0.7106" stop-color="#0046ff"/><stop offset="0.8426" stop-color="#0014ff"/><stop offset="0.9234" stop-color="#0000fb"/><stop offset="1" stop-color="#0000eb"/></linearGradient>
<linearGradient id="b37" gradientUnits="userSpaceOnUse" x1="431" x2="666"><stop offset="0" stop-color="#0000eb"/><stop offset="0.1021" stop-color="#0003ff"/><stop offset="0.234" stop-color="#002eff"/><stop offset="0.3021" stop-color="#004eff"/><stop offset="0.4085" stop-color="#0088ff"/><stop offset="0.4596" stop-color="#00afff"/><stop offset="0.5064" stop-color="#00b9ff"/><stop offset="0.5532" stop-color="#00aaff"/><stop offset="0.6085" stop-color="#0080ff"/><stop offset="0.7447" stop-color="#0038ff"/><stop offset="0.8638" stop-color="#000fff"/><stop offset="0.9277" stop-color="#0000fb"/><stop offset="1" stop-color="#0000eb"/></linearGradient>
<linearGradient id="b38" gradientUnits="userSpaceOnUse" x1="431" x2="666"><stop offset="0" stop-color="#0000eb"/><stop offset="0.1021" stop-color="#0004ff"/><stop offset="0.2298" stop-color="#002eff"/><stop offset="0.2979" stop-color="#004eff"/><stop offset="0.4" stop-color="#0088ff"/><stop offset="0.4511" stop-color="#00b4ff"/><stop offset="0.4979" stop-color="#00c3ff"/><stop offset="0.5447" stop-color="#00b9ff"/><stop offset="0.5957" stop-color="#0091ff"/><stop offset="0.617" stop-color="#0080ff"/><stop offset="0.7489" stop-color="#0038ff"/><stop offset="0.8596" stop-color="#0010ff"/><stop offset="0.9277" stop-color="#0000fb"/><stop offset="1" stop-color="#0000ec"/></linearGradient>
<linearGradient id="b39" gradientUnits="userSpaceOnUse" x1="431" x2="666"><stop offset="0" stop-color="#0000eb"/><stop offset="0.09787" stop-color="#0003ff"/><stop offset="0.2255" stop-color="#002dff"/><stop offset="0.2936" stop-color="#004dff"/><stop offset="0.3915" stop-color="#0087ff"/><stop offset="0.4426" stop-color="#00b8ff"/><stop offset="0.4894" stop-color="#00cdff"/><stop offset="0.5362" stop-color="#00c7ff"/><stop offset="0.5872" stop-color="#00a3ff"/><stop offset="0.6213" stop-color="#0081ff"/><stop offset="0.7489" stop-color="#0039ff"/><stop offset="0.8638" stop-color="#0010ff"/><stop offset="0.9319" stop-color="#0000fb"/><stop offset="1" stop-color="#0000ec"/></linearGradient>
<linearGradient id="b40" gradientUnits="userSpaceOnUse" x1="431" x2="666"><stop offset="0" stop-color="#0000eb"/><stop offset="0.09787" stop-color="#0004ff"/><stop offset="0.2213" stop-color="#002dff"/><stop offset="0.2894" stop-color="#004dff"/><stop offset="0.3872" stop-color="#008bff"/><stop offset="0.4383" stop-color="#00bfff"/><stop offset="0.4851" stop-color="#00d6ff"/><stop offset="0.5319" stop-color="#00d2ff"/><stop offset="0.5787" stop-color="#00b4ff"/><stop offset="0.6298" stop-color="#0080ff"/><stop offset="0.7489" stop-color="#003bff"/><stop offset="0.8638" stop-color="#0011ff"/><stop offset="0.9319" stop-color="#0000fb"/><stop offset="1" stop-color="#0000ec"/></linearGradient>
<linearGradient id="b41" gradientUnits="userSpaceOnUse" x1="431" x2="666"><stop offset="0" stop-color="#0000ec"/><stop offset="0.09362" stop-color="#0003ff"/><stop offset="0.217" stop-color="#002cff"/><stop offset="0.2851" stop-color="#004dff"/><stop offset="0.3787" stop-color="#0088ff"/><stop offset="0.434" stop-color="#00c5ff"/><stop offset="0.4809" stop-color="#00dfff"/><stop offset="0.5234" stop-color="#00dfff"/><stop offset="0.5702" stop-color="#00c5ff"/><stop offset="0.6255" stop-color="#0088ff"/><stop offset="0.7489" stop-color="#003cff"/><stop offset="0.8596" stop-color="#0012ff"/><stop offset="0.9362" stop-color="#0000fb"/><stop offset="1" stop-color="#0000ec"/></linearGradient>
<linearGradient id="b42" gradientUnits="userSpaceOnUse" x1="431" x2="666"><stop offset="0" stop-color="#0000ec"/><stop offset="0.09362" stop-color="#0004ff"/><stop offset="0.217" stop-color="#002dff"/><stop offset="0.2809" stop-color="#004cff"/><stop offset="0.3745" stop-color="#008bff"/><stop offset="0.4298" stop-color="#00cbff"/><stop offset="0.4766" stop-color="#00e8ff"/><stop offset="0.5191" stop-color="#00ebff"/><stop offset="0.566" stop-color="#00d2ff"/><stop offset="0.6213" stop-color="#0096ff"/><stop offset="0.6383" stop-color="#0082ff"/><stop offset="0.7574" stop-color="#003aff"/><stop offset="0.8681" stop-color="#0011ff"/><stop offset="0.9362" stop-color="#0000fb"/><stop offset="1" stop-color="#0000ed"/></linearGradient>
<linearGradient id="b43" gradientUnits="userSpaceOnUse" x1="431" x2="666"><stop offset="0" stop-color="#0000ec"/><stop offset="0.08936" stop-color="#0003ff"/><stop offset="0.2128" stop-color="#002dff"/><stop offset="0.2766" stop-color="#004cff"/><stop offset="0.366" stop-color="#0087ff"/><stop offset="0.4213" stop-color="#00ccff"/><stop offset="0.4681" stop-color="#00efff"/><stop offset="0.5106" stop-color="#00f6ff"/><stop offset="0.5532" stop-color="#00e5ff"/><stop offset="0.6043" stop-color="#00b4ff"/><stop offset="0.6426" stop-color="#0082ff"/><stop offset="0.7574" stop-color="#003bff"/><stop offset="0.8638" stop-color="#0012ff"/><stop offset="0.9362" stop-color="#0000fc"/><stop offset="1" stop-color="#0000ed"/></linearGradient>
<linearGradient id="b44" gradientUnits="userSpaceOnUse" x1="431" x2="666"><stop offset="0" stop-color="#0000ec"/><stop offset="0.08936" stop-color="#0004ff"/><stop offset="0.2085" stop-color="#002cff"/><stop offset="0.2723" stop-color="#004bff"/><stop offset="0.3617" stop-color="#0088ff"/><stop offset="0.4213" stop-color="#00d5ff"/><stop offset="0.4681" stop-color="#00f9ff"/><stop offset="0.5064" stop-color="#02fffd"/><stop offset="0.5404" stop-color="#00f7ff"/><stop offset="0.5872" stop-color="#00d0ff"/><stop offset="0.6511" stop-color="#0080ff"/><stop offset="0.7574" stop-color="#003cff"/><stop offset="0.8681" stop-color="#0012ff"/><stop offset="0.9404" stop-color="#0000fb"/><stop offset="1" stop-color="#0000ed"/></linearGradient>
<linearGradient id="b45" gradientUnits="userSpaceOnUse" x1="431" x2="666"><stop offset="0" stop-color="#0000ed"/><stop offset="0.08936" stop-color="#0004ff"/><stop offset="0.2085" stop-color="#002dff"/><stop offset="0.2681" stop-color="#004aff"/><stop offset="0.3574" stop-color="#0089ff"/><stop offset="0.417" stop-color="#00d9ff"/><stop offset="0.4596" stop-color="#00feff"/><stop offset="0.5021" stop-color="#0ffff0"/><stop offset="0.5489" stop-color="#00fbff"/><stop offset="0.5957" stop-color="#00d0ff"/><stop offset="0.6553" stop-color="#0081ff"/><stop offset="0.7617" stop-color="#003cff"/><stop offset="0.8681" stop-color="#0012ff"/><stop offset="0.9404" stop-color="#0000fb"/><stop offset="1" stop-color="#0000ed"/></linearGradient>
<linearGradient id="b46" gradientUnits="userSpaceOnUse" x1="431" x2="666"><stop offset="0" stop-color="#0000ed"/><stop offset="0.08511" stop-color="#0003ff"/><stop offset="0.2043" stop-color="#002cff"/><stop offset="0.2681" stop-color="#004cff"/><stop offset="0.3532" stop-color="#008aff"/><stop offset="0.4128" stop-color="#00ddff"/><stop offset="0.4468" stop-color="#00ffff"/><stop offset="0.4851" stop-color="#1affe5"/><stop offset="0.5191" stop-color="#1affe5"/><stop offset="0.5617" stop-color="#00fcff"/><stop offset="0.6128" stop-color="#00c3ff"/><stop offset="0.6596" stop-color="#0081ff"/><stop offset="0.766" stop-color="#003bff"/><stop offset="0.8723" stop-color="#0012ff"/><stop offset="0.9447" stop-color="#0000fb"/><stop offset="1" stop-color="#0000ed"/></linearGradient>
<linearGradient id="b47" gradientUnits="userSpaceOnUse" x1="431" x2="666"><stop offset="0" stop-color="#0000ed"/><stop offset="0.08511" stop-color="#0004ff"/><stop offset="0.2" stop-color="#002bff"/><stop offset="0.2638" stop-color="#004bff"/><stop offset="0.3447" stop-color="#0083ff"/><stop offset="0.4085" stop-color="#00e1ff"/><stop offset="0.4383" stop-color="#02fffd"/><stop offset="0.4766" stop-color="#24ffdb"/><stop offset="0.5106" stop-color="#2bffd4"/><stop offset="0.5447" stop-color="#18ffe7"/><stop offset="0.5702" stop-color="#00fdff"/><stop offset="0.6255" stop-color="#00b9ff"/><stop offset="0.6638" stop-color="#0081ff"/><stop offset="0.766" stop-color="#003cff"/><stop offset="0.8681" stop-color="#0013ff"/><stop offset="0.9447" stop-color="#0000fb"/><stop offset="1" stop-color="#0000ee"/></linearGradient>
<linearGradient id="b48" gradientUnits="userSpaceOnUse" x1="431" x2="666"><stop offset="0" stop-color="#0000ed"/><stop offset="0.08511" stop-color="#0004ff"/><stop offset="0.2" stop-color="#002cff"/><stop offset="0.2596" stop-color="#004aff"/><stop offset="0.3447" stop-color="#008aff"/><stop offset="0.4085" stop-color="#00eaff"/><stop offset="0.4298" stop-color="#03fffc"/><stop offset="0.4681" stop-color="#2dffd2"/><stop offset="0.5021" stop-color="#3affc5"/><stop offset="0.5362" stop-color="#2dffd2"/><stop offset="0.5787" stop-color="#00feff"/><stop offset="0.634" stop-color="#00b3ff"/><stop offset="0.6638" stop-color="#0083ff"/><stop offset="0.7702" stop-color="#003bff"/><stop offset="0.8723" stop-color="#0013ff"/><stop offset="0.9447" stop-color="#0000fb"/><stop offset="1" stop-color="#0000ee"/></linearGradient>
<linearGradient id="b49" gradientUnits="userSpaceOnUse" x1="431" x2="666"><stop offset="0" stop-color="#0000ed"/><stop offset="0.08085" stop-color="#0003ff"/><stop offset="0.1957" stop-color="#002bff"/><stop offset="0.2596" stop-color="#004cff"/><stop offset="0.3404" stop-color="#0089ff"/><stop offset="0.4043" stop-color="#00ecff"/><stop offset="0.4213" stop-color="#03fffc"/><stop offset="0.4596" stop-color="#33ffcc"/><stop offset="0.4936" stop-color="#47ffb8"/><stop offset="0.5277" stop-color="#40ffbf"/><stop offset="0.5617" stop-color="#21ffde"/><stop offset="0.5872" stop-color="#00fdff"/><stop offset="0.6468" stop-color="#00a6ff"/><stop offset="0.6723" stop-color="#0080ff"/><stop offset="0.7702" stop-color="#003cff"/><stop offset="0.8723" stop-color="#0013ff"/><stop offset="0.9489" stop-color="#0000fb"/><stop offset="1" stop-color="#0000ee"/></linearGradient>
<linearGradient id="b50" gradientUnits="userSpaceOnUse" x1="431" x2="666"><stop offset="0" stop-color="#0000ee"/><stop offset="0.08085" stop-color="#0004ff"/><stop offset="0.1957" stop-color="#002cff"/><stop offset="0.2553" stop-color="#004aff"/><stop offset="0.3362" stop-color="#0088ff"/><stop offset="0.4" stop-color="#00efff"/><stop offset="0.4128" stop-color="#01fffe"/><stop offset="0.4553" stop-color="#3cffc3"/><stop offset="0.4894" stop-color="#54ffab"/><stop offset="0.5234" stop-color="#50ffaf"/><stop offset="0.5574" stop-color="#33ffcc"/><stop offset="0.5915" stop-color="#01fffe"/><stop offset="0.6468" stop-color="#00adff"/><stop offset="0.6723" stop-color="#0082ff"/><stop offset="0.7745" stop-color="#003bff"/><stop offset="0.8766" stop-color="#0012ff"/><stop offset="0.9489" stop-color="#0000fb"/><stop offset="1" stop-color="#0000ee"/></linearGradient>
<linearGradient id="b51" gradientUnits="userSpaceOnUse" x1="431" x2="666"><stop offset="0" stop-color="#0000ee"/><stop offset="0.08085" stop-color="#0004ff"/><stop offset="0.1915" stop-color="#002bff"/><stop offset="0.2553" stop-color="#004cff"/><stop offset="0.3319" stop-color="#0087ff"/><stop offset="0.4" stop-color="#00f7ff"/><stop offset="0.4085" stop-color="#04fffb"/><stop offset="0.4468" stop-color="#40ffbf"/><stop offset="0.4809" stop-color="#5effa1"/><stop offset="0.5106" stop-color="#63ff9c"/><stop offset="0.5447" stop-color="#4effb1"/><stop offset="0.583" stop-color="#1affe5"/><stop offset="0.6" stop-color="#00fdff"/><stop offset="0.6681" stop-color="#008fff"/><stop offset="0.6851" stop-color="#007cff"/><stop offset="0.7745" stop-color="#003cff"/><stop offset="0.8766" stop-color="#0013ff"/><stop offset="0.9489" stop-color="#0000fb"/><stop offset="1" stop-color="#0000ee"/></linearGradient>
<linearGradient id="b52" gradientUnits="userSpaceOnUse" x1="431" x2="666"><stop offset="0" stop-color="#0000ee"/><stop offset="0.0766" stop-color="#0003ff"/><stop offset="0.1915" stop-color="#002cff"/><stop offset="0.2511" stop-color="#004bff"/><stop offset="0.3277" stop-color="#0085ff"/><stop offset="0.3957" stop-color="#00f9ff"/><stop offset="0.4043" stop-color="#07fff8"/><stop offset="0.4468" stop-color="#4cffb3"/><stop offset="0.4809" stop-color="#6cff93"/><stop offset="0.5106" stop-color="#71ff8e"/><stop offset="0.5447" stop-color="#5bffa4"/><stop offset="0.583" stop-color="#26ffd9"/><stop offset="0.6043" stop-color="#00ffff"/><stop offset="0.6723" stop-color="#008dff"/><stop offset="0.6894" stop-color="#007bff"/><stop offset="0.7787" stop-color="#003bff"/><stop offset="0.8766" stop-color="#0013ff"/><stop offset="0.9489" stop-color="#0000fc"/><stop offset="1" stop-color="#0000ef"/></linearGradient>
<linearGradient id="b53" gradientUnits="userSpaceOnUse" x1="431" x2="666"><stop offset="0" stop-color="#0000ee"/><stop offset="0.0766" stop-color="#0004ff"/><stop offset="0.1915" stop-color="#002cff"/><stop offset="0.2511" stop-color="#004cff"/><stop offset="0.3234" stop-color="#0083ff"/><stop offset="0.3915" stop-color="#00faff"/><stop offset="0.4" stop-color="#09fff6"/><stop offset="0.4426" stop-color="#53ffac"/><stop offset="0.4766" stop-color="#77ff88"/><stop offset="0.5064" stop-color="#80ff7f"/><stop offset="0.5362" stop-color="#71ff8e"/><stop offset="0.5702" stop-color="#47ffb8"/><stop offset="0.6085" stop-color="#01fffe"/><stop offset="0.6723" stop-color="#0093ff"/><stop offset="0.6851" stop-color="#0080ff"/><stop offset="0.7787" stop-color="#003cff"/><stop offset="0.8809" stop-color="#0012ff"/><stop offset="0.9532" stop-color="#0000fb"/><stop offset="1" stop-color="#0000ef"/></linearGradient>
<linearGradient id="b54" gradientUnits="userSpaceOnUse" x1="431" x2="666"><stop offset="0" stop-color="#0000ee"/><stop offset="0.0766" stop-color="#0004ff"/><stop offset="0.1872" stop-color="#002bff"/><stop offset="0.2468" stop-color="#004bff"/><stop offset="0.3234" stop-color="#0088ff"/><stop offset="0.3872" stop-color="#00faff"/><stop offset="0.3957" stop-color="#0afff5"/><stop offset="0.4383" stop-color="#59ffa6"/><stop offset="0.4723" stop-color="#82ff7d"/><stop offset="0.4979" stop-color="#92ff6d"/><stop offset="0.5234" stop-color="#8aff75"/><stop offset="0.5617" stop-color="#60ff9f"/><stop offset="0.6043" stop-color="#13ffec"/><stop offset="0.6128" stop-color="#02fffd"/><stop offset="0.6723" stop-color="#0098ff"/><stop offset="0.6894" stop-color="#007fff"/><stop offset="0.7787" stop-color="#003dff"/><stop offset="0.8809" stop-color="#0013ff"/><stop offset="0.9532" stop-color="#0000fb"/><stop offset="1" stop-color="#0000ef"/></linearGradient>
<linearGradient id="b55" gradientUnits="userSpaceOnUse" x1="431" x2="666"><stop offset="0" stop-color="#0000ee"/><stop offset="0.07234" stop-color="#0003ff"/><stop offset="0.1872" stop-color="#002cff"/><stop offset="0.2468" stop-color="#004cff"/><stop offset="0.3191" stop-color="#0085ff"/><stop offset="0.383" stop-color="#00faff"/><stop offset="0.3915" stop-color="#0bfff4"/><stop offset="0.434" stop-color="#5fffa0"/><stop offset="0.4809" stop-color="#9eff61"/><stop offset="0.5064" stop-color="#a7ff58"/><stop offset="0.5319" stop-color="#95ff6a"/><stop offset="0.5787" stop-color="#50ffaf"/><stop offset="0.617" stop-color="#02fffd"/><stop offset="0.6766" stop-color="#0096ff"/><stop offset="0.6894" stop-color="#0081ff"/><stop offset="0.783" stop-color="#003cff"/><stop offset="0.8809" stop-color="#0013ff"/><stop offset="0.9532" stop-color="#0000fb"/><stop offset="1" stop-color="#0000ef"/></linearGradient>
<linearGradient id="b56" gradientUnits="userSpaceOnUse" x1="431" x2="666"><stop offset="0" stop-color="#0000ef"/><stop offset="0.07234" stop-color="#0004ff"/><stop offset="0.183" stop-color="#002bff"/><stop offset="0.2426" stop-color="#004aff"/><stop offset="0.3149" stop-color="#0083ff"/><stop offset="0.383" stop-color="#02fffd"/><stop offset="0.4298" stop-color="#63ff9c"/><stop offset="0.4766" stop-color="#aeff51"/><stop offset="0.4979" stop-color="#bcff43"/><stop offset="0.5191" stop-color="#b6ff49"/><stop offset="0.5447" stop-color="#96ff69"/><stop offset="0.5957" stop-color="#3affc5"/><stop offset="0.6213" stop-color="#02fffd"/><stop offset="0.6894" stop-color="#0083ff"/><stop offset="0.783" stop-color="#003dff"/><stop offset="0.8809" stop-color="#0014ff"/><stop offset="0.9532" stop-color="#0000fc"/><stop offset="1" stop-color="#0000ef"/></linearGradient>
<linearGradient id="b57" gradientUnits="userSpaceOnUse" x1="431" x2="666"><stop offset="0" stop-color="#0000ef"/><stop offset="0.07234" stop-color="#0004ff"/><stop offset="0.183" stop-color="#002bff"/><stop offset="0.2426" stop-color="#004cff"/><stop offset="0.3149" stop-color="#0087ff"/><stop offset="0.3787" stop-color="#01fffe"/><stop offset="0.4298" stop-color="#6eff91"/><stop offset="0.4723" stop-color="#bdff42"/><stop offset="0.4936" stop-color="#cfff30"/><stop offset="0.5149" stop-color="#cdff32"/><stop offset="0.5404" stop-color="#b0ff4f"/><stop offset="0.6085" stop-color="#28ffd7"/><stop offset="0.6255" stop-color="#01fffe"/><stop offset="0.6936" stop-color="#0082ff"/><stop offset="0.783" stop-color="#003dff"/><stop offset="0.8809" stop-color="#0014ff"/><stop offset="0.9574" stop-color="#0000fb"/><stop offset="1" stop-color="#0000ef"/></linearGradient>
<linearGradient id="b58" gradientUnits="userSpaceOnUse" x1="431" x2="666"><stop offset="0" stop-color="#0000ef"/><stop offset="0.07234" stop-color="#0004ff"/><stop offset="0.183" stop-color="#002cff"/><stop offset="0.2383" stop-color="#004aff"/><stop offset="0.3106" stop-color="#0083ff"/><stop offset="0.3745" stop-color="#00ffff"/><stop offset="0.4298" stop-color="#7aff85"/><stop offset="0.4638" stop-color="#c3ff3c"/><stop offset="0.4851" stop-color="#deff21"/><stop offset="0.5064" stop-color="#e5ff1a"/><stop offset="0.5277" stop-color="#d6ff29"/><stop offset="0.5532" stop-color="#aaff55"/><stop offset="0.583" stop-color="#69ff96"/><stop offset="0.6298" stop-color="#00ffff"/><stop offset="0.6936" stop-color="#0083ff"/><stop offset="0.7872" stop-color="#003cff"/><stop offset="0.8851" stop-color="#0013ff"/><stop offset="0.9574" stop-color="#0000fb"/><stop offset="1" stop-color="#0000f0"/></linearGradient>
<linearGradient id="b59" gradientUnits="userSpaceOnUse" x1="431" x2="666"><stop offset="0" stop-color="#0000ef"/><stop offset="0.07234" stop-color="#0005ff"/><stop offset="0.183" stop-color="#002dff"/><stop offset="0.2383" stop-color="#004bff"/><stop offset="0.3106" stop-color="#0087ff"/><stop offset="0.3702" stop-color="#00fdff"/><stop offset="0.3872" stop-color="#26ffd9"/><stop offset="0.434" stop-color="#91ff6e"/><stop offset="0.4596" stop-color="#ceff31"/><stop offset="0.4851" stop-color="#f3ff0c"/><stop offset="0.5064" stop-color="#fbff04"/><stop offset="0.5277" stop-color="#eaff15"/><stop offset="0.5532" stop-color="#bcff43"/><stop offset="0.583" stop-color="#74ff8b"/><stop offset="0.634" stop-color="#00fdff"/><stop offset="0.6979" stop-color="#0082ff"/><stop offset="0.7872" stop-color="#003dff"/><stop offset="0.8851" stop-color="#0013ff"/><stop offset="0.9574" stop-color="#0000fb"/><stop offset="1" stop-color="#0000f0"/></linearGradient>
<linearGradient id="b60" gradientUnits="userSpaceOnUse" x1="431" x2="666"><stop offset="0" stop-color="#0000ef"/><stop offset="0.06809" stop-color="#0003ff"/><stop offset="0.1787" stop-color="#002bff"/><stop offset="0.234" stop-color="#0049ff"/><stop offset="0.3064" stop-color="#0083ff"/><stop offset="0.3702" stop-color="#03fffc"/><stop offset="0.4298" stop-color="#95ff6a"/><stop offset="0.4596" stop-color="#e1ff1e"/><stop offset="0.4766" stop-color="#ffff00"/><stop offset="0.4979" stop-color="#ffe700"/><stop offset="0.5149" stop-color="#ffed00"/><stop offset="0.5277" stop-color="#ffff00"/><stop offset="0.5532" stop-color="#ceff31"/><stop offset="0.5872" stop-color="#75ff8a"/><stop offset="0.634" stop-color="#03fffc"/><stop offset="0.6979" stop-color="#0083ff"/><stop offset="0.7872" stop-color="#003dff"/><stop offset="0.8851" stop-color="#0014ff"/><stop offset="0.9574" stop-color="#0000fc"/><stop offset="1" stop-color="#0000f0"/></linearGradient>
<linearGradient id="b61" gradientUnits="userSpaceOnUse" x1="431" x2="666"><stop offset="0" stop-color="#0000ef"/><stop offset="0.06809" stop-color="#0004ff"/><stop offset="0.1787" stop-color="#002cff"/><stop offset="0.234" stop-color="#004aff"/><stop offset="0.3064" stop-color="#0087ff"/><stop offset="0.366" stop-color="#00ffff"/><stop offset="0.4255" stop-color="#97ff68"/><stop offset="0.4553" stop-color="#eaff15"/><stop offset="0.4638" stop-color="#fcff03"/><stop offset="0.4851" stop-color="#ffd400"/><stop offset="0.5021" stop-color="#ffc800"/><stop offset="0.5191" stop-color="#ffd400"/><stop offset="0.5404" stop-color="#fcff03"/><stop offset="0.5702" stop-color="#b1ff4e"/><stop offset="0.5915" stop-color="#75ff8a"/><stop offset="0.6383" stop-color="#00ffff"/><stop offset="0.7021" stop-color="#0081ff"/><stop offset="0.7915" stop-color="#003cff"/><stop offset="0.8851" stop-color="#0014ff"/><stop offset="0.9617" stop-color="#0000fb"/><stop offset="1" stop-color="#0000f0"/></linearGradient>
<linearGradient id="b62" gradientUnits="userSpaceOnUse" x1="431" x2="666"><stop offset="0" stop-color="#0000ef"/><stop offset="0.06809" stop-color="#0004ff"/><stop offset="0.1745" stop-color="#002aff"/><stop offset="0.234" stop-color="#004bff"/><stop offset="0.3021" stop-color="#0083ff"/><stop offset="0.3617" stop-color="#00fcff"/><stop offset="0.3702" stop-color="#12ffed"/><stop offset="0.417" stop-color="#8aff75"/><stop offset="0.4468" stop-color="#e6ff19"/><stop offset="0.4553" stop-color="#fcff03"/><stop offset="0.4809" stop-color="#ffbe00"/><stop offset="0.4979" stop-color="#ffaa00"/><stop offset="0.5149" stop-color="#ffb100"/><stop offset="0.5319" stop-color="#ffd100"/><stop offset="0.5489" stop-color="#fcff03"/><stop offset="0.5787" stop-color="#a6ff59"/><stop offset="0.5957" stop-color="#74ff8b"/><stop offset="0.6383" stop-color="#06fff9"/><stop offset="0.6468" stop-color="#00f4ff"/><stop offset="0.7021" stop-color="#0083ff"/><stop offset="0.7915" stop-color="#003dff"/><stop offset="0.8851" stop-color="#0014ff"/><stop offset="0.9617" stop-color="#0000fb"/><stop offset="1" stop-color="#0000f0"/></linearGradient>
<linearGradient id="b63" gradientUnits="userSpaceOnUse" x1="431" x2="666"><stop offset="0" stop-color="#0000f0"/><stop offset="0.06809" stop-color="#0004ff"/><stop offset="0.1745" stop-color="#002bff"/><stop offset="0.2298" stop-color="#0048ff"/><stop offset="0.3021" stop-color="#0085ff"/><stop offset="0.3617" stop-color="#02fffd"/><stop offset="0.4128" stop-color="#88ff77"/><stop offset="0.4468" stop-color="#f6ff09"/><stop offset="0.4511" stop-color="#fffc00"/><stop offset="0.4723" stop-color="#ffb500"/><stop offset="0.4894" stop-color="#ff9300"/><stop offset="0.5021" stop-color="#ff8b00"/><stop offset="0.5191" stop-color="#ff9900"/><stop offset="0.5362" stop-color="#ffc100"/><stop offset="0.5532" stop-color="#fffc00"/><stop offset="0.5745" stop-color="#c2ff3d"/><stop offset="0.5957" stop-color="#7cff83"/><stop offset="0.6426" stop-color="#02fffd"/><stop offset="0.7021" stop-color="#0085ff"/><stop offset="0.7915" stop-color="#003dff"/><stop offset="0.8894" stop-color="#0013ff"/><stop offset="0.9617" stop-color="#0000fb"/><stop offset="1" stop-color="#0000f0"/></linearGradient>
<linearGradient id="b64" gradientUnits="userSpaceOnUse" x1="431" x2="666"><stop offset="0" stop-color="#0000f0"/><stop offset="0.06809" stop-color="#0004ff"/><stop offset="0.1745" stop-color="#002bff"/><stop offset="0.2298" stop-color="#0049ff"/><stop offset="0.3021" stop-color="#0088ff"/><stop offset="0.3574" stop-color="#00fdff"/><stop offset="0.3745" stop-color="#2bffd4"/><stop offset="0.4085" stop-color="#85ff7a"/><stop offset="0.4426" stop-color="#f9ff06"/><stop offset="0.4468" stop-color="#fff600"/><stop offset="0.4681" stop-color="#ffa600"/><stop offset="0.4851" stop-color="#ff7c00"/><stop offset="0.5021" stop-color="#ff7200"/><stop offset="0.5191" stop-color="#ff7c00"/><stop offset="0.5362" stop-color="#ffa600"/><stop offset="0.5574" stop-color="#fff600"/><stop offset="0.5617" stop-color="#f9ff06"/><stop offset="0.6" stop-color="#7aff85"/><stop offset="0.6426" stop-color="#07fff8"/><stop offset="0.6468" stop-color="#00fdff"/><stop offset="0.7064" stop-color="#0082ff"/><stop offset="0.7915" stop-color="#003eff"/><stop offset="0.8894" stop-color="#0013ff"/><stop offset="0.9617" stop-color="#0000fb"/><stop offset="1" stop-color="#0000f0"/></linearGradient>
<linearGradient id="b65" gradientUnits="userSpaceOnUse" x1="431" x2="666"><stop offset="0" stop-color="#0000f0"/><stop offset="0.06809" stop-color="#0005ff"/><stop offset="0.1745" stop-color="#002bff"/><stop offset="0.2298" stop-color="#004aff"/><stop offset="0.2979" stop-color="#0083ff"/><stop offset="0.3574" stop-color="#02fffd"/><stop offset="0.4085" stop-color="#90ff6f"/><stop offset="0.4383" stop-color="#fbff04"/><stop offset="0.4426" stop-color="#fff300"/><stop offset="0.4638" stop-color="#ff9b00"/><stop offset="0.4723" stop-color="#ff7f00"/><stop offset="0.4894" stop-color="#ff6600"/><stop offset="0.5064" stop-color="#ff6000"/><stop offset="0.5234" stop-color="#ff6f00"/><stop offset="0.5319" stop-color="#ff7f00"/><stop offset="0.5532" stop-color="#ffcd00"/><stop offset="0.5617" stop-color="#fff300"/><stop offset="0.566" stop-color="#fbff04"/><stop offset="0.6" stop-color="#81ff7e"/><stop offset="0.6468" stop-color="#02fffd"/><stop offset="0.7064" stop-color="#0083ff"/><stop offset="0.7957" stop-color="#003cff"/><stop offset="0.8894" stop-color="#0014ff"/><stop offset="0.9617" stop-color="#0000fb"/><stop offset="1" stop-color="#0000f0"/></linearGradient>
<linearGradient id="b66" gradientUnits="userSpaceOnUse" x1="431" x2="666"><stop offset="0" stop-color="#0000ef"/><stop offset="0.06809" stop-color="#0004ff"/><stop offset="0.1702" stop-color="#0029ff"/><stop offset="0.2298" stop-color="#004aff"/><stop offset="0.2979" stop-color="#0084ff"/><stop offset="0.3532" stop-color="#00faff"/><stop offset="0.3574" stop-color="#05fffa"/><stop offset="0.4043" stop-color="#8aff75"/><stop offset="0.434" stop-color="#f9ff06"/><stop offset="0.4383" stop-color="#fff400"/><stop offset="0.4596" stop-color="#ff9400"/><stop offset="0.4681" stop-color="#ff7800"/><stop offset="0.4894" stop-color="#ff5500"/><stop offset="0.5064" stop-color="#ff5000"/><stop offset="0.5234" stop-color="#ff6000"/><stop offset="0.5404" stop-color="#ff8400"/><stop offset="0.5617" stop-color="#ffdf00"/><stop offset="0.566" stop-color="#fff400"/><stop offset="0.5702" stop-color="#f9ff06"/><stop offset="0.6043" stop-color="#7cff83"/><stop offset="0.6468" stop-color="#05fffa"/><stop offset="0.6596" stop-color="#00e9ff"/><stop offset="0.7064" stop-color="#0084ff"/><stop offset="0.7957" stop-color="#003cff"/><stop offset="0.8894" stop-color="#0013ff"/><stop offset="0.9617" stop-color="#0000fb"/><stop offset="1" stop-color="#0000f0"/></linearGradient>
<linearGradient id="b67" gradientUnits="userSpaceOnUse" x1="431" x2="666"><stop offset="0" stop-color="#0000ef"/><stop offset="0.06809" stop-color="#0004ff"/><stop offset="0.1702" stop-color="#0029ff"/><stop offset="0.2298" stop-color="#004aff"/><stop offset="0.2979" stop-color="#0086ff"/><stop offset="0.3532" stop-color="#00fdff"/><stop offset="0.4" stop-color="#81ff7e"/><stop offset="0.4298" stop-color="#f5ff0a"/><stop offset="0.434" stop-color="#fff800"/><stop offset="0.4468" stop-color="#ffb900"/><stop offset="0.4511" stop-color="#ff5e00"/><stop offset="0.4723" stop-color="#ff3100"/><stop offset="0.4936" stop-color="#ff1a00"/><stop offset="0.5149" stop-color="#ff1d00"/><stop offset="0.5362" stop-color="#ff3800"/><stop offset="0.5489" stop-color="#ff5400"/><stop offset="0.5532" stop-color="#ffa500"/><stop offset="0.5702" stop-color="#fff800"/><stop offset="0.5787" stop-color="#e5ff1a"/><stop offset="0.6043" stop-color="#81ff7e"/><stop offset="0.6511" stop-color="#00fdff"/><stop offset="0.7106" stop-color="#0080ff"/><stop offset="0.7957" stop-color="#003bff"/><stop offset="0.8894" stop-color="#0013ff"/><stop offset="0.9617" stop-color="#0000fb"/><stop offset="1" stop-color="#0000f0"/></linearGradient>
<linearGradient id="b68" gradientUnits="userSpaceOnUse" x1="431" x2="666"><stop offset="0" stop-color="#0000ef"/><stop offset="0.06809" stop-color="#0004ff"/><stop offset="0.1745" stop-color="#002bff"/><stop offset="0.2255" stop-color="#0047ff"/><stop offset="0.2936" stop-color="#0080ff"/><stop offset="0.3532" stop-color="#00ffff"/><stop offset="0.4" stop-color="#89ff76"/><stop offset="0.4298" stop-color="#ffff00"/><stop offset="0.4468" stop-color="#ffa700"/><stop offset="0.4511" stop-color="#ff5600"/><stop offset="0.4723" stop-color="#ff2800"/><stop offset="0.4936" stop-color="#ff0f00"/><stop offset="0.5106" stop-color="#ff0f00"/><stop offset="0.5319" stop-color="#ff2800"/><stop offset="0.5489" stop-color="#ff4b00"/><stop offset="0.5532" stop-color="#ff9200"/><stop offset="0.5745" stop-color="#ffff00"/><stop offset="0.6085" stop-color="#7aff85"/><stop offset="0.6511" stop-color="#00ffff"/><stop offset="0.7106" stop-color="#0080ff"/><stop offset="0.7957" stop-color="#003bff"/><stop offset="0.8894" stop-color="#0013ff"/><stop offset="0.9617" stop-color="#0000fb"/><stop offset="1" stop-color="#0000ef"/></linearGradient>
<linearGradient id="b69" gradientUnits="userSpaceOnUse" x1="431" x2="666"><stop offset="0" stop-color="#0000ee"/><stop offset="0.06809" stop-color="#0003ff"/><stop offset="0.1702" stop-color="#0028ff"/><stop offset="0.2255" stop-color="#0047ff"/><stop offset="0.2936" stop-color="#0080ff"/><stop offset="0.3532" stop-color="#03fffc"/><stop offset="0.3957" stop-color="#7eff81"/><stop offset="0.4255" stop-color="#f8ff07"/><stop offset="0.4298" stop-color="#fff100"/><stop offset="0.4468" stop-color="#ff9700"/><stop offset="0.4511" stop-color="#ff4f00"/><stop offset="0.4723" stop-color="#ff2000"/><stop offset="0.4936" stop-color="#ff0400"/><stop offset="0.5106" stop-color="#ff0400"/><stop offset="0.5319" stop-color="#ff2000"/><stop offset="0.5489" stop-color="#ff4300"/><stop offset="0.5532" stop-color="#ff8200"/><stop offset="0.5745" stop-color="#fff100"/><stop offset="0.5787" stop-color="#f8ff07"/><stop offset="0.6085" stop-color="#7eff81"/><stop offset="0.6511" stop-color="#03fffc"/><stop offset="0.7106" stop-color="#0080ff"/><stop offset="0.7957" stop-color="#003bff"/><stop offset="0.8936" stop-color="#0011ff"/><stop offset="0.9617" stop-color="#0000fa"/><stop offset="1" stop-color="#0000ef"/></linearGradient>
<linearGradient id="b70" gradientUnits="userSpaceOnUse" x1="431" x2="666"><stop offset="0" stop-color="#0000ee"/><stop offset="0.07234" stop-color="#0005ff"/><stop offset="0.1745" stop-color="#002aff"/><stop offset="0.2255" stop-color="#0047ff"/><stop offset="0.2936" stop-color="#0081ff"/><stop offset="0.3489" stop-color="#00faff"/><stop offset="0.3574" stop-color="#12ffed"/><stop offset="0.3957" stop-color="#85ff7a"/><stop offset="0.4255" stop-color="#fffc00"/><stop offset="0.4468" stop-color="#ff8800"/><stop offset="0.4511" stop-color="#ff4800"/><stop offset="0.4766" stop-color="#ff1000"/><stop offset="0.4851" stop-color="#ff0100"/><stop offset="0.5021" stop-color="#f20000"/><stop offset="0.5191" stop-color="#ff0100"/><stop offset="0.5489" stop-color="#ff3c00"/><stop offset="0.5532" stop-color="#ff7900"/><stop offset="0.5574" stop-color="#ff8800"/><stop offset="0.5787" stop-color="#fffc00"/><stop offset="0.6128" stop-color="#76ff89"/><stop offset="0.6511" stop-color="#06fff9"/><stop offset="0.6596" stop-color="#00f0ff"/><stop offset="0.7106" stop-color="#0081ff"/><stop offset="0.7957" stop-color="#003bff"/><stop offset="0.8936" stop-color="#0011ff"/><stop offset="0.9574" stop-color="#0000fb"/><stop offset="1" stop-color="#0000ef"/></linearGradient>
<linearGradient id="b71" gradientUnits="userSpaceOnUse" x1="431" x2="666"><stop offset="0" stop-color="#0000ee"/><stop offset="0.07234" stop-color="#0004ff"/><stop offset="0.1702" stop-color="#0028ff"/><stop offset="0.2255" stop-color="#0046ff"/><stop offset="0.2936" stop-color="#0082ff"/><stop offset="0.3489" stop-color="#00fbff"/><stop offset="0.3617" stop-color="#21ffde"/><stop offset="0.3915" stop-color="#79ff86"/><stop offset="0.4213" stop-color="#f5ff0a"/><stop offset="0.4255" stop-color="#fff200"/><stop offset="0.4426" stop-color="#ff9200"/><stop offset="0.4468" stop-color="#ff7f00"/><stop offset="0.4511" stop-color="#ff4200"/><stop offset="0.4809" stop-color="#fc0000"/><stop offset="0.4979" stop-color="#e60000"/><stop offset="0.5106" stop-color="#e90000"/><stop offset="0.5234" stop-color="#fc0000"/><stop offset="0.5489" stop-color="#ff3700"/><stop offset="0.5532" stop-color="#ff7000"/><stop offset="0.5617" stop-color="#ff9200"/><stop offset="0.5787" stop-color="#fff200"/><stop offset="0.583" stop-color="#f5ff0a"/><stop offset="0.6128" stop-color="#79ff86"/><stop offset="0.6511" stop-color="#08fff7"/><stop offset="0.6553" stop-color="#00fbff"/><stop offset="0.7149" stop-color="#007cff"/><stop offset="0.8" stop-color="#0038ff"/><stop offset="0.8936" stop-color="#0010ff"/><stop offset="0.9574" stop-color="#0000fb"/><stop offset="1" stop-color="#0000ee"/></linearGradient>
<linearGradient id="b72" gradientUnits="userSpaceOnUse" x1="431" x2="666"><stop offset="0" stop-color="#0000ed"/><stop offset="0.07234" stop-color="#0004ff"/><stop offset="0.1702" stop-color="#0027ff"/><stop offset="0.2255" stop-color="#0046ff"/><stop offset="0.2936" stop-color="#0083ff"/><stop offset="0.3489" stop-color="#00fcff"/><stop offset="0.3915" stop-color="#7cff83"/><stop offset="0.4213" stop-color="#fdff02"/><stop offset="0.4426" stop-color="#ff8700"/><stop offset="0.4468" stop-color="#ff7800"/><stop offset="0.4511" stop-color="#ff3d00"/><stop offset="0.4766" stop-color="#fc0000"/><stop offset="0.4936" stop-color="#dc0000"/><stop offset="0.5064" stop-color="#d90000"/><stop offset="0.5234" stop-color="#f20000"/><stop offset="0.5277" stop-color="#fc0000"/><stop offset="0.5489" stop-color="#ff3200"/><stop offset="0.5532" stop-color="#ff6900"/><stop offset="0.5617" stop-color="#ff8700"/><stop offset="0.583" stop-color="#fdff02"/><stop offset="0.6128" stop-color="#7cff83"/><stop offset="0.6553" stop-color="#00fcff"/><stop offset="0.7149" stop-color="#007cff"/><stop offset="0.8" stop-color="#0038ff"/><stop offset="0.8936" stop-color="#0010ff"/><stop offset="0.9574" stop-color="#0000fb"/><stop offset="1" stop-color="#0000ee"/></linearGradient>
<linearGradient id="b73" gradientUnits="userSpaceOnUse" x1="431" x2="666"><stop offset="0" stop-color="#0000ed"/><stop offset="0.07234" stop-color="#0003ff"/><stop offset="0.1702" stop-color="#0027ff"/><stop offset="0.2255" stop-color="#0046ff"/><stop offset="0.2894" stop-color="#007cff"/><stop offset="0.3489" stop-color="#00fdff"/><stop offset="0.3915" stop-color="#80ff7f"/><stop offset="0.417" stop-color="#eeff11"/><stop offset="0.4213" stop-color="#fffa00"/><stop offset="0.4383" stop-color="#ff9600"/><stop offset="0.4468" stop-color="#ff7200"/><stop offset="0.4511" stop-color="#ff3900"/><stop offset="0.4723" stop-color="#ff0000"/><stop offset="0.4894" stop-color="#d60000"/><stop offset="0.5021" stop-color="#c80000"/><stop offset="0.5149" stop-color="#d60000"/><stop offset="0.5319" stop-color="#ff0000"/><stop offset="0.5489" stop-color="#ff2e00"/><stop offset="0.5532" stop-color="#ff6300"/><stop offset="0.566" stop-color="#ff9600"/><stop offset="0.583" stop-color="#fffa00"/><stop offset="0.5957" stop-color="#c9ff36"/><stop offset="0.617" stop-color="#71ff8e"/><stop offset="0.6553" stop-color="#00fdff"/><stop offset="0.7149" stop-color="#007cff"/><stop offset="0.8" stop-color="#0037ff"/><stop offset="0.8936" stop-color="#0010ff"/><stop offset="0.9574" stop-color="#0000fa"/><stop offset="1" stop-color="#0000ee"/></linearGradient>
<linearGradient id="b74" gradientUnits="userSpaceOnUse" x1="431" x2="666"><stop offset="0" stop-color="#0000ed"/><stop offset="0.0766" stop-color="#0004ff"/><stop offset="0.1702" stop-color="#0027ff"/><stop offset="0.2255" stop-color="#0045ff"/><stop offset="0.2894" stop-color="#007cff"/><stop offset="0.3489" stop-color="#00feff"/><stop offset="0.3915" stop-color="#82ff7d"/><stop offset="0.417" stop-color="#f2ff0d"/><stop offset="0.4213" stop-color="#fff400"/><stop offset="0.4383" stop-color="#ff8e00"/><stop offset="0.4468" stop-color="#ff6e00"/><stop offset="0.4511" stop-color="#ff3600"/><stop offset="0.4681" stop-color="#ff0600"/><stop offset="0.4766" stop-color="#eb0000"/><stop offset="0.4936" stop-color="#be0000"/><stop offset="0.5021" stop-color="#b60000"/><stop offset="0.5106" stop-color="#be0000"/><stop offset="0.5319" stop-color="#f80000"/><stop offset="0.5362" stop-color="#ff0600"/><stop offset="0.5489" stop-color="#ff2a00"/><stop offset="0.5532" stop-color="#ff5e00"/><stop offset="0.566" stop-color="#ff8e00"/><stop offset="0.583" stop-color="#fff400"/><stop offset="0.5872" stop-color="#f2ff0d"/><stop offset="0.617" stop-color="#72ff8d"/><stop offset="0.6553" stop-color="#00feff"/><stop offset="0.7149" stop-color="#007cff"/><stop offset="0.8" stop-color="#0037ff"/><stop offset="0.8936" stop-color="#000fff"/><stop offset="0.9532" stop-color="#0000fb"/><stop offset="1" stop-color="#0000ed"/></linearGradient>
<linearGradient id="b75" gradientUnits="userSpaceOnUse" x1="431" x2="666"><stop offset="0" stop-color="#0000ec"/><stop offset="0.0766" stop-color="#0004ff"/><stop offset="0.1702" stop-color="#0026ff"/><stop offset="0.2255" stop-color="#0045ff"/><stop offset="0.2894" stop-color="#007bff"/><stop offset="0.3489" stop-color="#00ffff"/><stop offset="0.3872" stop-color="#73ff8c"/><stop offset="0.417" stop-color="#f5ff0a"/><stop offset="0.4213" stop-color="#ffef00"/><stop offset="0.4383" stop-color="#ff8a00"/><stop offset="0.4468" stop-color="#ff6a00"/><stop offset="0.4511" stop-color="#ff3400"/><stop offset="0.4681" stop-color="#ff0100"/><stop offset="0.4936" stop-color="#af0000"/><stop offset="0.5021" stop-color="#a30000"/><stop offset="0.5106" stop-color="#af0000"/><stop offset="0.5362" stop-color="#ff0100"/><stop offset="0.5489" stop-color="#ff2800"/><stop offset="0.5532" stop-color="#ff5a00"/><stop offset="0.566" stop-color="#ff8a00"/><stop offset="0.583" stop-color="#ffef00"/><stop offset="0.5872" stop-color="#f5ff0a"/><stop offset="0.617" stop-color="#73ff8c"/><stop offset="0.6553" stop-color="#00ffff"/><stop offset="0.7149" stop-color="#007bff"/><stop offset="0.8" stop-color="#0036ff"/><stop offset="0.8936" stop-color="#000fff"/><stop offset="0.9532" stop-color="#0000fb"/><stop offset="1" stop-color="#0000ed"/></linearGradient>
<linearGradient id="b76" gradientUnits="userSpaceOnUse" x1="431" x2="666"><stop offset="0" stop-color="#0000ec"/><stop offset="0.0766" stop-color="#0004ff"/><stop offset="0.1702" stop-color="#0026ff"/><stop offset="0.2213" stop-color="#0041ff"/><stop offset="0.2894" stop-color="#007bff"/><stop offset="0.3489" stop-color="#00ffff"/><stop offset="0.3872" stop-color="#73ff8c"/><stop offset="0.417" stop-color="#f8ff07"/><stop offset="0.4213" stop-color="#ffec00"/><stop offset="0.4383" stop-color="#ff8900"/><stop offset="0.4468" stop-color="#ff6800"/><stop offset="0.4511" stop-color="#ff3300"/><stop offset="0.4681" stop-color="#fd0000"/><stop offset="0.4936" stop-color="#a00000"/><stop offset="0.5021" stop-color="#9a0000"/><stop offset="0.5106" stop-color="#a00000"/><stop offset="0.5362" stop-color="#fd0000"/><stop offset="0.5489" stop-color="#ff2700"/><stop offset="0.5532" stop-color="#ff5800"/><stop offset="0.566" stop-color="#ff8900"/><stop offset="0.583" stop-color="#ffec00"/><stop offset="0.5872" stop-color="#f8ff07"/><stop offset="0.617" stop-color="#73ff8c"/><stop offset="0.6553" stop-color="#00ffff"/><stop offset="0.7149" stop-color="#007bff"/><stop offset="0.8" stop-color="#0036ff"/><stop offset="0.8936" stop-color="#000eff"/><stop offset="0.9532" stop-color="#0000fb"/><stop offset="1" stop-color="#0000ed"/></linearGradient>
<linearGradient id="b77" gradientUnits="userSpaceOnUse" x1="431" x2="666"><stop offset="0" stop-color="#0000eb"/><stop offset="0.08085" stop-color="#0004ff"/><stop offset="0.1745" stop-color="#0026ff"/><stop offset="0.2213" stop-color="#003fff"/><stop offset="0.2894" stop-color="#0079ff"/><stop offset="0.3489" stop-color="#00feff"/><stop offset="0.3872" stop-color="#72ff8d"/><stop offset="0.417" stop-color="#f9ff06"/><stop offset="0.4255" stop-color="#ffd200"/><stop offset="0.434" stop-color="#ff9e00"/><stop offset="0.4468" stop-color="#ff6800"/><stop offset="0.4511" stop-color="#ff3400"/><stop offset="0.4681" stop-color="#fc0000"/><stop offset="0.4809" stop-color="#c90000"/><stop offset="0.4894" stop-color="#a10000"/><stop offset="0.5021" stop-color="#960000"/><stop offset="0.5149" stop-color="#a10000"/><stop offset="0.5277" stop-color="#de0000"/><stop offset="0.5362" stop-color="#fc0000"/><stop offset="0.5489" stop-color="#ff2800"/><stop offset="0.5532" stop-color="#ff5800"/><stop offset="0.5702" stop-color="#ff9e00"/><stop offset="0.583" stop-color="#ffeb00"/><stop offset="0.5872" stop-color="#f9ff06"/><stop offset="0.617" stop-color="#72ff8d"/><stop offset="0.6553" stop-color="#00feff"/><stop offset="0.7149" stop-color="#0079ff"/><stop offset="0.8" stop-color="#0034ff"/><stop offset="0.8936" stop-color="#000dff"/><stop offset="0.9489" stop-color="#0000fb"/><stop offset="1" stop-color="#0000ec"/></linearGradient>
<linearGradient id="b78" gradientUnits="userSpaceOnUse" x1="431" x2="666"><stop offset="0" stop-color="#0000ea"/><stop offset="0.08511" stop-color="#0004ff"/><stop offset="0.1745" stop-color="#0025ff"/><stop offset="0.2255" stop-color="#0041ff"/><stop offset="0.2894" stop-color="#0077ff"/><stop offset="0.3489" stop-color="#00faff"/><stop offset="0.3617" stop-color="#21ffde"/><stop offset="0.3872" stop-color="#6dff92"/><stop offset="0.417" stop-color="#f1ff0e"/><stop offset="0.4213" stop-color="#fff400"/><stop offset="0.4383" stop-color="#ff9100"/><stop offset="0.4468" stop-color="#ff7100"/><stop offset="0.4511" stop-color="#ff3c00"/><stop offset="0.4681" stop-color="#ff0700"/><stop offset="0.4723" stop-color="#f80000"/><stop offset="0.4936" stop-color="#aa0000"/><stop offset="0.5021" stop-color="#a30000"/><stop offset="0.5106" stop-color="#aa0000"/><stop offset="0.5319" stop-color="#f80000"/><stop offset="0.5362" stop-color="#ff0700"/><stop offset="0.5489" stop-color="#ff3000"/><stop offset="0.5532" stop-color="#ff6100"/><stop offset="0.566" stop-color="#ff9100"/><stop offset="0.583" stop-color="#fff400"/><stop offset="0.5872" stop-color="#f1ff0e"/><stop offset="0.617" stop-color="#6dff92"/><stop offset="0.6511" stop-color="#08fff7"/><stop offset="0.6553" stop-color="#00faff"/><stop offset="0.7149" stop-color="#0077ff"/><stop offset="0.8" stop-color="#0033ff"/><stop offset="0.8936" stop-color="#000cff"/><stop offset="0.9447" stop-color="#0000fb"/><stop offset="1" stop-color="#0000eb"/></linearGradient>
<linearGradient id="b79" gradientUnits="userSpaceOnUse" x1="431" x2="666"><stop offset="0" stop-color="#0000ea"/><stop offset="0.08511" stop-color="#0003ff"/><stop offset="0.1745" stop-color="#0024ff"/><stop offset="0.2255" stop-color="#0040ff"/><stop offset="0.2894" stop-color="#0076ff"/><stop offset="0.3489" stop-color="#00f8ff"/><stop offset="0.3532" stop-color="#05fffa"/><stop offset="0.3872" stop-color="#6bff94"/><stop offset="0.417" stop-color="#ebff14"/><stop offset="0.4213" stop-color="#fff900"/><stop offset="0.4383" stop-color="#ff9600"/><stop offset="0.4468" stop-color="#ff7600"/><stop offset="0.4511" stop-color="#ff4100"/><stop offset="0.4723" stop-color="#ff0100"/><stop offset="0.4936" stop-color="#bc0000"/><stop offset="0.5021" stop-color="#b10000"/><stop offset="0.5106" stop-color="#bc0000"/><stop offset="0.5319" stop-color="#ff0100"/><stop offset="0.5489" stop-color="#ff3500"/><stop offset="0.5532" stop-color="#ff6600"/><stop offset="0.566" stop-color="#ff9600"/><stop offset="0.583" stop-color="#fff900"/><stop offset="0.5915" stop-color="#d8ff27"/><stop offset="0.617" stop-color="#6bff94"/><stop offset="0.6511" stop-color="#05fffa"/><stop offset="0.6596" stop-color="#00edff"/><stop offset="0.7149" stop-color="#0076ff"/><stop offset="0.8" stop-color="#0032ff"/><stop offset="0.8979" stop-color="#000aff"/><stop offset="0.9489" stop-color="#0000f9"/><stop offset="1" stop-color="#0000ea"/></linearGradient>
<linearGradient id="b80" gradientUnits="userSpaceOnUse" x1="431" x2="666"><stop offset="0" stop-color="#0000e9"/><stop offset="0.08936" stop-color="#0004ff"/><stop offset="0.1787" stop-color="#0025ff"/><stop offset="0.2255" stop-color="#003fff"/><stop offset="0.2894" stop-color="#0075ff"/><stop offset="0.3532" stop-color="#03fffc"/><stop offset="0.3915" stop-color="#78ff87"/><stop offset="0.417" stop-color="#e6ff19"/><stop offset="0.4213" stop-color="#feff01"/><stop offset="0.4383" stop-color="#ff9c00"/><stop offset="0.4468" stop-color="#ff7d00"/><stop offset="0.4511" stop-color="#ff4700"/><stop offset="0.4766" stop-color="#fc0000"/><stop offset="0.4936" stop-color="#d00000"/><stop offset="0.5021" stop-color="#c70000"/><stop offset="0.5106" stop-color="#d00000"/><stop offset="0.5277" stop-color="#fc0000"/><stop offset="0.5489" stop-color="#ff3b00"/><stop offset="0.5532" stop-color="#ff6d00"/><stop offset="0.566" stop-color="#ff9c00"/><stop offset="0.583" stop-color="#feff01"/><stop offset="0.5915" stop-color="#d3ff2c"/><stop offset="0.617" stop-color="#67ff98"/><stop offset="0.6511" stop-color="#03fffc"/><stop offset="0.7149" stop-color="#0075ff"/><stop offset="0.8" stop-color="#0031ff"/><stop offset="0.8979" stop-color="#0009ff"/><stop offset="0.9447" stop-color="#0000fa"/><stop offset="1" stop-color="#0000ea"/></linearGradient>
<linearGradient id="b81" gradientUnits="userSpaceOnUse" x1="431" x2="666"><stop offset="0" stop-color="#0000e9"/><stop offset="0.08936" stop-color="#0004ff"/><stop offset="0.1787" stop-color="#0025ff"/><stop offset="0.2255" stop-color="#003fff"/><stop offset="0.2894" stop-color="#0074ff"/><stop offset="0.3489" stop-color="#00f3ff"/><stop offset="0.3532" stop-color="#00ffff"/><stop offset="0.3915" stop-color="#73ff8c"/><stop offset="0.417" stop-color="#e0ff1f"/><stop offset="0.4213" stop-color="#f6ff09"/><stop offset="0.4255" stop-color="#ffef00"/><stop offset="0.4383" stop-color="#ffa600"/><stop offset="0.4468" stop-color="#ff8400"/><stop offset="0.4511" stop-color="#ff4e00"/><stop offset="0.4809" stop-color="#fd0000"/><stop offset="0.4979" stop-color="#de0000"/><stop offset="0.5064" stop-color="#de0000"/><stop offset="0.5234" stop-color="#fd0000"/><stop offset="0.5489" stop-color="#ff4200"/><stop offset="0.5532" stop-color="#ff7500"/><stop offset="0.566" stop-color="#ffa600"/><stop offset="0.5787" stop-color="#ffef00"/><stop offset="0.583" stop-color="#f6ff09"/><stop offset="0.6085" stop-color="#85ff7a"/><stop offset="0.6213" stop-color="#57ffa8"/><stop offset="0.6511" stop-color="#00ffff"/><stop offset="0.6936" stop-color="#009fff"/><stop offset="0.7149" stop-color="#0074ff"/><stop offset="0.8" stop-color="#0030ff"/><stop offset="0.8979" stop-color="#0009ff"/><stop offset="0.9447" stop-color="#0000fa"/><stop offset="1" stop-color="#0000ea"/></linearGradient>
<linearGradient id="b82" gradientUnits="userSpaceOnUse" x1="431" x2="666"><stop offset="0" stop-color="#0000e8"/><stop offset="0.09362" stop-color="#0004ff"/><stop offset="0.183" stop-color="#0026ff"/><stop offset="0.2255" stop-color="#003dff"/><stop offset="0.2936" stop-color="#0079ff"/><stop offset="0.3532" stop-color="#00fcff"/><stop offset="0.3915" stop-color="#6dff92"/><stop offset="0.4213" stop-color="#edff12"/><stop offset="0.4255" stop-color="#fff900"/><stop offset="0.4426" stop-color="#ff9c00"/><stop offset="0.4468" stop-color="#ff8d00"/><stop offset="0.4511" stop-color="#ff5500"/><stop offset="0.4851" stop-color="#ff0300"/><stop offset="0.5021" stop-color="#ef0000"/><stop offset="0.5191" stop-color="#ff0300"/><stop offset="0.5489" stop-color="#ff4a00"/><stop offset="0.5532" stop-color="#ff7e00"/><stop offset="0.5617" stop-color="#ff9c00"/><stop offset="0.5787" stop-color="#fff900"/><stop offset="0.5872" stop-color="#d9ff26"/><stop offset="0.6128" stop-color="#6dff92"/><stop offset="0.6511" stop-color="#00fcff"/><stop offset="0.7106" stop-color="#0079ff"/><stop offset="0.8" stop-color="#002fff"/><stop offset="0.8979" stop-color="#0008ff"/><stop offset="0.9447" stop-color="#0000f9"/><stop offset="1" stop-color="#0000e9"/></linearGradient>
<linearGradient id="b83" gradientUnits="userSpaceOnUse" x1="431" x2="666"><stop offset="0" stop-color="#0000e8"/><stop offset="0.09362" stop-color="#0003ff"/><stop offset="0.183" stop-color="#0024ff"/><stop offset="0.2255" stop-color="#003cff"/><stop offset="0.2936" stop-color="#0076ff"/><stop offset="0.3532" stop-color="#00f7ff"/><stop offset="0.3574" stop-color="#04fffb"/><stop offset="0.3915" stop-color="#66ff99"/><stop offset="0.4213" stop-color="#e1ff1e"/><stop offset="0.4255" stop-color="#f9ff06"/><stop offset="0.434" stop-color="#ffd700"/><stop offset="0.4426" stop-color="#ffa900"/><stop offset="0.4468" stop-color="#ff9800"/><stop offset="0.4511" stop-color="#ff5f00"/><stop offset="0.4851" stop-color="#ff1300"/><stop offset="0.5021" stop-color="#ff0200"/><stop offset="0.5191" stop-color="#ff1300"/><stop offset="0.5489" stop-color="#ff5400"/><stop offset="0.5532" stop-color="#ff8a00"/><stop offset="0.5617" stop-color="#ffa900"/><stop offset="0.5745" stop-color="#ffee00"/><stop offset="0.5787" stop-color="#f9ff06"/><stop offset="0.5872" stop-color="#d0ff2f"/><stop offset="0.6128" stop-color="#66ff99"/><stop offset="0.6468" stop-color="#04fffb"/><stop offset="0.6638" stop-color="#00d9ff"/><stop offset="0.7149" stop-color="#0070ff"/><stop offset="0.8" stop-color="#002eff"/><stop offset="0.8979" stop-color="#0007ff"/><stop offset="0.9447" stop-color="#0000f8"/><stop offset="1" stop-color="#0000e8"/></linearGradient>
<linearGradient id="b84" gradientUnits="userSpaceOnUse" x1="431" x2="666"><stop offset="0" stop-color="#0000e7"/><stop offset="0.09787" stop-color="#0003ff"/><stop offset="0.1915" stop-color="#0027ff"/><stop offset="0.234" stop-color="#0041ff"/><stop offset="0.2936" stop-color="#0073ff"/><stop offset="0.3532" stop-color="#00f2ff"/><stop offset="0.3574" stop-color="#00ffff"/><stop offset="0.3957" stop-color="#70ff8f"/><stop offset="0.4255" stop-color="#ecff13"/><stop offset="0.4298" stop-color="#fffc00"/><stop offset="0.4468" stop-color="#ffa300"/><stop offset="0.4511" stop-color="#ff6a00"/><stop offset="0.4766" stop-color="#ff3200"/><stop offset="0.4936" stop-color="#ff1900"/><stop offset="0.5064" stop-color="#ff1600"/><stop offset="0.5234" stop-color="#ff2b00"/><stop offset="0.5489" stop-color="#ff5f00"/><stop offset="0.5532" stop-color="#ff9600"/><stop offset="0.5574" stop-color="#ffa300"/><stop offset="0.5745" stop-color="#fffc00"/><stop offset="0.5957" stop-color="#a4ff5b"/><stop offset="0.6128" stop-color="#60ff9f"/><stop offset="0.6468" stop-color="#00ffff"/><stop offset="0.6681" stop-color="#00ccff"/><stop offset="0.7106" stop-color="#0073ff"/><stop offset="0.8" stop-color="#002cff"/><stop offset="0.8979" stop-color="#0006ff"/><stop offset="0.9447" stop-color="#0000f7"/><stop offset="1" stop-color="#0000e8"/></linearGradient>
<linearGradient id="b85" gradientUnits="userSpaceOnUse" x1="431" x2="666"><stop offset="0" stop-color="#0000e6"/><stop offset="0.1021" stop-color="#0004ff"/><stop offset="0.2" stop-color="#0029ff"/><stop offset="0.2468" stop-color="#004aff"/><stop offset="0.2936" stop-color="#0070ff"/><stop offset="0.3532" stop-color="#00edff"/><stop offset="0.3617" stop-color="#06fff9"/><stop offset="0.3957" stop-color="#67ff98"/><stop offset="0.4255" stop-color="#ddff22"/><stop offset="0.4298" stop-color="#f4ff0b"/><stop offset="0.434" stop-color="#fff400"/><stop offset="0.4468" stop-color="#ffb400"/><stop offset="0.4511" stop-color="#ff7600"/><stop offset="0.4766" stop-color="#ff4000"/><stop offset="0.4979" stop-color="#ff2800"/><stop offset="0.5149" stop-color="#ff2f00"/><stop offset="0.5404" stop-color="#ff5700"/><stop offset="0.5489" stop-color="#ff6b00"/><stop offset="0.5532" stop-color="#ffa300"/><stop offset="0.5702" stop-color="#fff400"/><stop offset="0.5745" stop-color="#f4ff0b"/><stop offset="0.583" stop-color="#cdff32"/><stop offset="0.6128" stop-color="#5affa5"/><stop offset="0.6426" stop-color="#06fff9"/><stop offset="0.6511" stop-color="#00edff"/><stop offset="0.7106" stop-color="#0070ff"/><stop offset="0.8" stop-color="#002bff"/><stop offset="0.8979" stop-color="#0005ff"/><stop offset="0.9532" stop-color="#0000f4"/><stop offset="1" stop-color="#0000e7"/></linearGradient>
<linearGradient id="b86" gradientUnits="userSpaceOnUse" x1="431" x2="666"><stop offset="0" stop-color="#0000e5"/><stop offset="0.1064" stop-color="#0004ff"/><stop offset="0.2085" stop-color="#002cff"/><stop offset="0.2936" stop-color="#006eff"/><stop offset="0.3574" stop-color="#00f4ff"/><stop offset="0.3617" stop-color="#01fffe"/><stop offset="0.3957" stop-color="#5fffa0"/><stop offset="0.4298" stop-color="#e4ff1b"/><stop offset="0.434" stop-color="#faff05"/><stop offset="0.4426" stop-color="#ffdb00"/><stop offset="0.4468" stop-color="#ffc700"/><stop offset="0.4511" stop-color="#ff8200"/><stop offset="0.4723" stop-color="#ff5400"/><stop offset="0.4936" stop-color="#ff3a00"/><stop offset="0.5106" stop-color="#ff3a00"/><stop offset="0.5319" stop-color="#ff5400"/><stop offset="0.5489" stop-color="#ff7700"/><stop offset="0.5532" stop-color="#ffb300"/><stop offset="0.566" stop-color="#ffef00"/><stop offset="0.5702" stop-color="#faff05"/><stop offset="0.583" stop-color="#c1ff3e"/><stop offset="0.6085" stop-color="#5fffa0"/><stop offset="0.6426" stop-color="#01fffe"/><stop offset="0.6638" stop-color="#00cdff"/><stop offset="0.7106" stop-color="#006eff"/><stop offset="0.8" stop-color="#002aff"/><stop offset="0.8979" stop-color="#0004ff"/><stop offset="1" stop-color="#0000e6"/></linearGradient>
<linearGradient id="b87" gradientUnits="userSpaceOnUse" x1="431" x2="666"><stop offset="0" stop-color="#0000e5"/><stop offset="0.1106" stop-color="#0004ff"/><stop offset="0.217" stop-color="#002eff"/><stop offset="0.2979" stop-color="#0072ff"/><stop offset="0.3574" stop-color="#00eeff"/><stop offset="0.366" stop-color="#06fff9"/><stop offset="0.4" stop-color="#65ff9a"/><stop offset="0.434" stop-color="#e9ff16"/><stop offset="0.4383" stop-color="#fdff02"/><stop offset="0.4468" stop-color="#ffda00"/><stop offset="0.4511" stop-color="#ff8f00"/><stop offset="0.4723" stop-color="#ff6200"/><stop offset="0.4936" stop-color="#ff4900"/><stop offset="0.5106" stop-color="#ff4900"/><stop offset="0.5319" stop-color="#ff6200"/><stop offset="0.5489" stop-color="#ff8400"/><stop offset="0.5532" stop-color="#ffc700"/><stop offset="0.566" stop-color="#fdff02"/><stop offset="0.5787" stop-color="#c5ff3a"/><stop offset="0.6085" stop-color="#57ffa8"/><stop offset="0.6383" stop-color="#06fff9"/><stop offset="0.6468" stop-color="#00eeff"/><stop offset="0.7106" stop-color="#006bff"/><stop offset="0.7957" stop-color="#002aff"/><stop offset="0.8936" stop-color="#0004ff"/><stop offset="1" stop-color="#0000e5"/></linearGradient>
<linearGradient id="b88" gradientUnits="userSpaceOnUse" x1="431" x2="666"><stop offset="0" stop-color="#0000e4"/><stop offset="0.1106" stop-color="#0003ff"/><stop offset="0.217" stop-color="#002cff"/><stop offset="0.2979" stop-color="#006fff"/><stop offset="0.3574" stop-color="#00e8ff"/><stop offset="0.366" stop-color="#00ffff"/><stop offset="0.4" stop-color="#5bffa4"/><stop offset="0.434" stop-color="#d7ff28"/><stop offset="0.4426" stop-color="#feff01"/><stop offset="0.4638" stop-color="#ffac00"/><stop offset="0.4851" stop-color="#ff8600"/><stop offset="0.5021" stop-color="#ff7900"/><stop offset="0.5191" stop-color="#ff8600"/><stop offset="0.5404" stop-color="#ffac00"/><stop offset="0.5617" stop-color="#feff01"/><stop offset="0.5745" stop-color="#c8ff37"/><stop offset="0.6043" stop-color="#5bffa4"/><stop offset="0.6383" stop-color="#00ffff"/><stop offset="0.6596" stop-color="#00cdff"/><stop offset="0.7106" stop-color="#0069ff"/><stop offset="0.7957" stop-color="#0028ff"/><stop offset="0.8936" stop-color="#0003ff"/><stop offset="1" stop-color="#0000e4"/></linearGradient>
<linearGradient id="b89" gradientUnits="userSpaceOnUse" x1="431" x2="666"><stop offset="0" stop-color="#0000e3"/><stop offset="0.1149" stop-color="#0003ff"/><stop offset="0.217" stop-color="#002bff"/><stop offset="0.2979" stop-color="#006bff"/><stop offset="0.3617" stop-color="#00edff"/><stop offset="0.3702" stop-color="#05fffa"/><stop offset="0.4043" stop-color="#5fffa0"/><stop offset="0.4426" stop-color="#eaff15"/><stop offset="0.4468" stop-color="#fcff03"/><stop offset="0.4681" stop-color="#ffb400"/><stop offset="0.4894" stop-color="#ff9300"/><stop offset="0.5064" stop-color="#ff8d00"/><stop offset="0.5277" stop-color="#ffa400"/><stop offset="0.5362" stop-color="#ffb400"/><stop offset="0.5574" stop-color="#fcff03"/><stop offset="0.5745" stop-color="#baff45"/><stop offset="0.6043" stop-color="#53ffac"/><stop offset="0.634" stop-color="#05fffa"/><stop offset="0.6468" stop-color="#00e2ff"/><stop offset="0.7064" stop-color="#006bff"/><stop offset="0.7957" stop-color="#0027ff"/><stop offset="0.8936" stop-color="#0002ff"/><stop offset="1" stop-color="#0000e4"/></linearGradient>
<linearGradient id="b90" gradientUnits="userSpaceOnUse" x1="431" x2="666"><stop offset="0" stop-color="#0000e2"/><stop offset="0.1191" stop-color="#0003ff"/><stop offset="0.2213" stop-color="#002cff"/><stop offset="0.2979" stop-color="#0068ff"/><stop offset="0.3617" stop-color="#00e7ff"/><stop offset="0.3702" stop-color="#00fdff"/><stop offset="0.4085" stop-color="#63ff9c"/><stop offset="0.4468" stop-color="#e7ff18"/><stop offset="0.4511" stop-color="#f8ff07"/><stop offset="0.4553" stop-color="#fff600"/><stop offset="0.4766" stop-color="#ffb600"/><stop offset="0.4979" stop-color="#ffa000"/><stop offset="0.5149" stop-color="#ffa500"/><stop offset="0.5277" stop-color="#ffb600"/><stop offset="0.5489" stop-color="#fff600"/><stop offset="0.5532" stop-color="#f8ff07"/><stop offset="0.5745" stop-color="#acff53"/><stop offset="0.6043" stop-color="#4affb5"/><stop offset="0.634" stop-color="#00fdff"/><stop offset="0.6553" stop-color="#00ccff"/><stop offset="0.7064" stop-color="#0068ff"/><stop offset="0.7957" stop-color="#0025ff"/><stop offset="0.8936" stop-color="#0001ff"/><stop offset="1" stop-color="#0000e3"/></linearGradient>
<linearGradient id="b91" gradientUnits="userSpaceOnUse" x1="431" x2="666"><stop offset="0" stop-color="#0000e1"/><stop offset="0.1234" stop-color="#0003ff"/><stop offset="0.2255" stop-color="#002dff"/><stop offset="0.3021" stop-color="#006bff"/><stop offset="0.366" stop-color="#00ebff"/><stop offset="0.3745" stop-color="#02fffd"/><stop offset="0.4085" stop-color="#57ffa8"/><stop offset="0.4596" stop-color="#ffff00"/><stop offset="0.4809" stop-color="#ffc700"/><stop offset="0.4979" stop-color="#ffb200"/><stop offset="0.5149" stop-color="#ffb900"/><stop offset="0.5319" stop-color="#ffda00"/><stop offset="0.5447" stop-color="#ffff00"/><stop offset="0.5957" stop-color="#57ffa8"/><stop offset="0.6298" stop-color="#02fffd"/><stop offset="0.6553" stop-color="#00c6ff"/><stop offset="0.7064" stop-color="#0065ff"/><stop offset="0.7957" stop-color="#0024ff"/><stop offset="0.8936" stop-color="#0000ff"/><stop offset="1" stop-color="#0000e2"/></linearGradient>
<linearGradient id="b92" gradientUnits="userSpaceOnUse" x1="431" x2="666"><stop offset="0" stop-color="#0000e1"/><stop offset="0.1277" stop-color="#0003ff"/><stop offset="0.2298" stop-color="#002eff"/><stop offset="0.3021" stop-color="#0067ff"/><stop offset="0.366" stop-color="#00e3ff"/><stop offset="0.3787" stop-color="#05fffa"/><stop offset="0.4128" stop-color="#58ffa7"/><stop offset="0.4468" stop-color="#c1ff3e"/><stop offset="0.4681" stop-color="#fffe00"/><stop offset="0.4851" stop-color="#ffda00"/><stop offset="0.5021" stop-color="#ffcc00"/><stop offset="0.5191" stop-color="#ffda00"/><stop offset="0.5362" stop-color="#fffe00"/><stop offset="0.5872" stop-color="#67ff98"/><stop offset="0.6128" stop-color="#24ffdb"/><stop offset="0.6255" stop-color="#05fffa"/><stop offset="0.6426" stop-color="#00d9ff"/><stop offset="0.7021" stop-color="#0067ff"/><stop offset="0.7915" stop-color="#0024ff"/><stop offset="0.8894" stop-color="#0000ff"/><stop offset="1" stop-color="#0000e1"/></linearGradient>
<linearGradient id="b93" gradientUnits="userSpaceOnUse" x1="431" x2="666"><stop offset="0" stop-color="#0000e0"/><stop offset="0.1319" stop-color="#0003ff"/><stop offset="0.2298" stop-color="#002cff"/><stop offset="0.3021" stop-color="#0064ff"/><stop offset="0.3702" stop-color="#00e7ff"/><stop offset="0.3787" stop-color="#00fcff"/><stop offset="0.417" stop-color="#59ffa6"/><stop offset="0.4511" stop-color="#bbff44"/><stop offset="0.4766" stop-color="#fbff04"/><stop offset="0.4979" stop-color="#ffe800"/><stop offset="0.5149" stop-color="#ffef00"/><stop offset="0.5277" stop-color="#fbff04"/><stop offset="0.5745" stop-color="#80ff7f"/><stop offset="0.5957" stop-color="#43ffbc"/><stop offset="0.6255" stop-color="#00fcff"/><stop offset="0.6468" stop-color="#00cbff"/><stop offset="0.7021" stop-color="#0064ff"/><stop offset="0.7915" stop-color="#0022ff"/><stop offset="0.8851" stop-color="#0000ff"/><stop offset="1" stop-color="#0000e0"/></linearGradient>
<linearGradient id="b94" gradientUnits="userSpaceOnUse" x1="431" x2="666"><stop offset="0" stop-color="#0000df"/><stop offset="0.1362" stop-color="#0003ff"/><stop offset="0.2298" stop-color="#002aff"/><stop offset="0.3064" stop-color="#0066ff"/><stop offset="0.3702" stop-color="#00dfff"/><stop offset="0.383" stop-color="#00fdff"/><stop offset="0.4213" stop-color="#58ffa7"/><stop offset="0.4553" stop-color="#b3ff4c"/><stop offset="0.4851" stop-color="#efff10"/><stop offset="0.5021" stop-color="#fcff03"/><stop offset="0.5191" stop-color="#efff10"/><stop offset="0.5532" stop-color="#aaff55"/><stop offset="0.5915" stop-color="#43ffbc"/><stop offset="0.6213" stop-color="#00fdff"/><stop offset="0.6468" stop-color="#00c5ff"/><stop offset="0.7021" stop-color="#0061ff"/><stop offset="0.7915" stop-color="#0021ff"/><stop offset="0.8809" stop-color="#0000fe"/><stop offset="1" stop-color="#0000e0"/></linearGradient>
<linearGradient id="b95" gradientUnits="userSpaceOnUse" x1="431" x2="666"><stop offset="0" stop-color="#0000de"/><stop offset="0.1447" stop-color="#0004ff"/><stop offset="0.234" stop-color="#002bff"/><stop offset="0.3064" stop-color="#0061ff"/><stop offset="0.3745" stop-color="#00e0ff"/><stop offset="0.3872" stop-color="#00feff"/><stop offset="0.4255" stop-color="#55ffaa"/><stop offset="0.4553" stop-color="#a1ff5e"/><stop offset="0.4851" stop-color="#d4ff2b"/><stop offset="0.5021" stop-color="#e1ff1e"/><stop offset="0.5191" stop-color="#d4ff2b"/><stop offset="0.5489" stop-color="#a1ff5e"/><stop offset="0.5915" stop-color="#38ffc7"/><stop offset="0.617" stop-color="#00feff"/><stop offset="0.6426" stop-color="#00c7ff"/><stop offset="0.6979" stop-color="#0061ff"/><stop offset="0.7915" stop-color="#001fff"/><stop offset="0.8766" stop-color="#0000fe"/><stop offset="1" stop-color="#0000df"/></linearGradient>
<linearGradient id="b96" gradientUnits="userSpaceOnUse" x1="431" x2="666"><stop offset="0" stop-color="#0000dd"/><stop offset="0.1489" stop-color="#0003ff"/><stop offset="0.2383" stop-color="#002bff"/><stop offset="0.3106" stop-color="#0064ff"/><stop offset="0.3787" stop-color="#00e1ff"/><stop offset="0.3915" stop-color="#00feff"/><stop offset="0.434" stop-color="#5cffa3"/><stop offset="0.4638" stop-color="#9fff60"/><stop offset="0.4894" stop-color="#c0ff3f"/><stop offset="0.5064" stop-color="#c5ff3a"/><stop offset="0.5277" stop-color="#b3ff4c"/><stop offset="0.5532" stop-color="#86ff79"/><stop offset="0.5872" stop-color="#36ffc9"/><stop offset="0.6128" stop-color="#00feff"/><stop offset="0.6426" stop-color="#00c0ff"/><stop offset="0.6979" stop-color="#005eff"/><stop offset="0.7915" stop-color="#001cff"/><stop offset="0.8723" stop-color="#0000fe"/><stop offset="1" stop-color="#0000dd"/></linearGradient>
<linearGradient id="b97" gradientUnits="userSpaceOnUse" x1="431" x2="666"><stop offset="0" stop-color="#0000dc"/><stop offset="0.1532" stop-color="#0003ff"/><stop offset="0.2383" stop-color="#0029ff"/><stop offset="0.3106" stop-color="#005fff"/><stop offset="0.383" stop-color="#00e1ff"/><stop offset="0.3957" stop-color="#00feff"/><stop offset="0.4426" stop-color="#61ff9e"/><stop offset="0.4723" stop-color="#99ff66"/><stop offset="0.4979" stop-color="#b0ff4f"/><stop offset="0.5191" stop-color="#a8ff57"/><stop offset="0.5447" stop-color="#84ff7b"/><stop offset="0.6043" stop-color="#08fff7"/><stop offset="0.6085" stop-color="#00feff"/><stop offset="0.6383" stop-color="#00c0ff"/><stop offset="0.6979" stop-color="#005bff"/><stop offset="0.7872" stop-color="#001cff"/><stop offset="0.8681" stop-color="#0000fd"/><stop offset="1" stop-color="#0000dc"/></linearGradient>
<linearGradient id="b98" gradientUnits="userSpaceOnUse" x1="431" x2="666"><stop offset="0" stop-color="#0000db"/><stop offset="0.1574" stop-color="#0003ff"/><stop offset="0.2383" stop-color="#0026ff"/><stop offset="0.3149" stop-color="#0061ff"/><stop offset="0.383" stop-color="#00d8ff"/><stop offset="0.4" stop-color="#00fcff"/><stop offset="0.4468" stop-color="#59ffa6"/><stop offset="0.4766" stop-color="#8bff74"/><stop offset="0.5021" stop-color="#9dff62"/><stop offset="0.5277" stop-color="#8bff74"/><stop offset="0.5574" stop-color="#59ffa6"/><stop offset="0.6043" stop-color="#00fcff"/><stop offset="0.634" stop-color="#00c0ff"/><stop offset="0.6936" stop-color="#005bff"/><stop offset="0.7872" stop-color="#001aff"/><stop offset="0.8638" stop-color="#0000fd"/><stop offset="1" stop-color="#0000db"/></linearGradient>
<linearGradient id="b99" gradientUnits="userSpaceOnUse" x1="431" x2="666"><stop offset="0" stop-color="#0000da"/><stop offset="0.1617" stop-color="#0002ff"/><stop offset="0.2426" stop-color="#0027ff"/><stop offset="0.3149" stop-color="#005bff"/><stop offset="0.3915" stop-color="#00e0ff"/><stop offset="0.4085" stop-color="#04fffb"/><stop offset="0.4723" stop-color="#73ff8c"/><stop offset="0.4979" stop-color="#88ff77"/><stop offset="0.5191" stop-color="#81ff7e"/><stop offset="0.5447" stop-color="#5fffa0"/><stop offset="0.5957" stop-color="#04fffb"/><stop offset="0.6511" stop-color="#009dff"/><stop offset="0.6936" stop-color="#0057ff"/><stop offset="0.7872" stop-color="#0018ff"/><stop offset="0.8596" stop-color="#0000fc"/><stop offset="1" stop-color="#0000da"/></linearGradient>
<linearGradient id="b100" gradientUnits="userSpaceOnUse" x1="431" x2="666"><stop offset="0" stop-color="#0000d9"/><stop offset="0.166" stop-color="#0002ff"/><stop offset="0.2426" stop-color="#0024ff"/><stop offset="0.3191" stop-color="#005dff"/><stop offset="0.3957" stop-color="#00dfff"/><stop offset="0.4128" stop-color="#01fffe"/><stop offset="0.4723" stop-color="#60ff9f"/><stop offset="0.4979" stop-color="#74ff8b"/><stop offset="0.5191" stop-color="#6dff92"/><stop offset="0.5447" stop-color="#4dffb2"/><stop offset="0.5915" stop-color="#01fffe"/><stop offset="0.634" stop-color="#00b2ff"/><stop offset="0.6894" stop-color="#0057ff"/><stop offset="0.783" stop-color="#0018ff"/><stop offset="0.8511" stop-color="#0000fd"/><stop offset="1" stop-color="#0000d9"/></linearGradient>
<linearGradient id="b101" gradientUnits="userSpaceOnUse" x1="431" x2="666"><stop offset="0" stop-color="#0000d8"/><stop offset="0.1745" stop-color="#0004ff"/><stop offset="0.2468" stop-color="#0024ff"/><stop offset="0.3191" stop-color="#0057ff"/><stop offset="0.4" stop-color="#00ddff"/><stop offset="0.417" stop-color="#00fcff"/><stop offset="0.4723" stop-color="#4dffb2"/><stop offset="0.4979" stop-color="#61ff9e"/><stop offset="0.5191" stop-color="#59ffa6"/><stop offset="0.5702" stop-color="#1affe5"/><stop offset="0.5872" stop-color="#00fcff"/><stop offset="0.6298" stop-color="#00b1ff"/><stop offset="0.6851" stop-color="#0057ff"/><stop offset="0.783" stop-color="#0016ff"/><stop offset="0.8468" stop-color="#0000fc"/><stop offset="1" stop-color="#0000d8"/></linearGradient>
<linearGradient id="b102" gradientUnits="userSpaceOnUse" x1="431" x2="666"><stop offset="0" stop-color="#0000d7"/><stop offset="0.1787" stop-color="#0003ff"/><stop offset="0.2468" stop-color="#0021ff"/><stop offset="0.3234" stop-color="#0058ff"/><stop offset="0.4085" stop-color="#00e2ff"/><stop offset="0.4255" stop-color="#00ffff"/><stop offset="0.4638" stop-color="#34ffcb"/><stop offset="0.4979" stop-color="#4dffb2"/><stop offset="0.5191" stop-color="#46ffb9"/><stop offset="0.5574" stop-color="#20ffdf"/><stop offset="0.5787" stop-color="#00ffff"/><stop offset="0.6298" stop-color="#00aaff"/><stop offset="0.6851" stop-color="#0053ff"/><stop offset="0.783" stop-color="#0013ff"/><stop offset="0.8426" stop-color="#0000fc"/><stop offset="1" stop-color="#0000d7"/></linearGradient>
<linearGradient id="b103" gradientUnits="userSpaceOnUse" x1="431" x2="666"><stop offset="0" stop-color="#0000d6"/><stop offset="0.183" stop-color="#0003ff"/><stop offset="0.2511" stop-color="#0021ff"/><stop offset="0.3277" stop-color="#0059ff"/><stop offset="0.4213" stop-color="#00ecff"/><stop offset="0.434" stop-color="#01fffe"/><stop offset="0.4723" stop-color="#2effd1"/><stop offset="0.5021" stop-color="#3dffc2"/><stop offset="0.5362" stop-color="#2bffd4"/><stop offset="0.5702" stop-color="#01fffe"/><stop offset="0.6809" stop-color="#0053ff"/><stop offset="0.7787" stop-color="#0013ff"/><stop offset="0.8383" stop-color="#0000fc"/><stop offset="1" stop-color="#0000d6"/></linearGradient>
<linearGradient id="b104" gradientUnits="userSpaceOnUse" x1="431" x2="666"><stop offset="0" stop-color="#0000d5"/><stop offset="0.1915" stop-color="#0004ff"/><stop offset="0.2553" stop-color="#0021ff"/><stop offset="0.3277" stop-color="#0053ff"/><stop offset="0.4426" stop-color="#01fffe"/><stop offset="0.4809" stop-color="#27ffd8"/><stop offset="0.5064" stop-color="#2fffd0"/><stop offset="0.5404" stop-color="#19ffe6"/><stop offset="0.5617" stop-color="#01fffe"/><stop offset="0.6809" stop-color="#004fff"/><stop offset="0.7787" stop-color="#0011ff"/><stop offset="0.834" stop-color="#0000fb"/><stop offset="1" stop-color="#0000d5"/></linearGradient>
<linearGradient id="b105" gradientUnits="userSpaceOnUse" x1="431" x2="666"><stop offset="0" stop-color="#0000d4"/><stop offset="0.1957" stop-color="#0003ff"/><stop offset="0.2596" stop-color="#0021ff"/><stop offset="0.3319" stop-color="#0053ff"/><stop offset="0.4511" stop-color="#00feff"/><stop offset="0.4894" stop-color="#1effe1"/><stop offset="0.5106" stop-color="#20ffdf"/><stop offset="0.5489" stop-color="#03fffc"/><stop offset="0.5702" stop-color="#00e8ff"/><stop offset="0.6766" stop-color="#004fff"/><stop offset="0.7787" stop-color="#000fff"/><stop offset="0.8298" stop-color="#0000fb"/><stop offset="1" stop-color="#0000d4"/></linearGradient>
<linearGradient id="b106" gradientUnits="userSpaceOnUse" x1="431" x2="666"><stop offset="0" stop-color="#0000d2"/><stop offset="0.2" stop-color="#0003ff"/><stop offset="0.2596" stop-color="#001fff"/><stop offset="0.3362" stop-color="#0053ff"/><stop offset="0.4468" stop-color="#00ecff"/><stop offset="0.4681" stop-color="#03fffc"/><stop offset="0.5021" stop-color="#14ffeb"/><stop offset="0.5404" stop-color="#00feff"/><stop offset="0.583" stop-color="#00caff"/><stop offset="0.6723" stop-color="#004eff"/><stop offset="0.7745" stop-color="#000eff"/><stop offset="0.8213" stop-color="#0000fc"/><stop offset="1" stop-color="#0000d3"/></linearGradient>
<linearGradient id="b107" gradientUnits="userSpaceOnUse" x1="431" x2="666"><stop offset="0" stop-color="#0000d1"/><stop offset="0.2085" stop-color="#0004ff"/><stop offset="0.2681" stop-color="#0021ff"/><stop offset="0.3404" stop-color="#0053ff"/><stop offset="0.417" stop-color="#00baff"/><stop offset="0.4638" stop-color="#00f1ff"/><stop offset="0.4894" stop-color="#03fffc"/><stop offset="0.5106" stop-color="#05fffa"/><stop offset="0.5319" stop-color="#00f8ff"/><stop offset="0.5745" stop-color="#00caff"/><stop offset="0.6723" stop-color="#004bff"/><stop offset="0.7745" stop-color="#000cff"/><stop offset="0.817" stop-color="#0000fb"/><stop offset="1" stop-color="#0000d2"/></linearGradient>
<linearGradient id="b108" gradientUnits="userSpaceOnUse" x1="431" x2="666"><stop offset="0" stop-color="#0000d0"/><stop offset="0.2" stop-color="#0000fd"/><stop offset="0.2638" stop-color="#001bff"/><stop offset="0.3447" stop-color="#0052ff"/><stop offset="0.4213" stop-color="#00b5ff"/><stop offset="0.4723" stop-color="#00ebff"/><stop offset="0.5064" stop-color="#00f8ff"/><stop offset="0.5447" stop-color="#00e0ff"/><stop offset="0.634" stop-color="#0076ff"/><stop offset="0.6681" stop-color="#004aff"/><stop offset="0.7745" stop-color="#000aff"/><stop offset="0.8128" stop-color="#0000fb"/><stop offset="1" stop-color="#0000d1"/></linearGradient>
<linearGradient id="b109" gradientUnits="userSpaceOnUse" x1="431" x2="666"><stop offset="0" stop-color="#0000cf"/><stop offset="0.2043" stop-color="#0000fd"/><stop offset="0.2638" stop-color="#0018ff"/><stop offset="0.3489" stop-color="#0052ff"/><stop offset="0.4213" stop-color="#00adff"/><stop offset="0.4766" stop-color="#00e1ff"/><stop offset="0.5064" stop-color="#00eaff"/><stop offset="0.5447" stop-color="#00d4ff"/><stop offset="0.6213" stop-color="#007fff"/><stop offset="0.6638" stop-color="#0049ff"/><stop offset="0.7702" stop-color="#0009ff"/><stop offset="0.8085" stop-color="#0000fa"/><stop offset="1" stop-color="#0000d0"/></linearGradient>
<linearGradient id="b110" gradientUnits="userSpaceOnUse" x1="431" x2="666"><stop offset="0" stop-color="#0000ce"/><stop offset="0.2043" stop-color="#0000fb"/><stop offset="0.2553" stop-color="#0010ff"/><stop offset="0.3532" stop-color="#0051ff"/><stop offset="0.4255" stop-color="#00a8ff"/><stop offset="0.4809" stop-color="#00d7ff"/><stop offset="0.5064" stop-color="#00deff"/><stop offset="0.5447" stop-color="#00c7ff"/><stop offset="0.6128" stop-color="#0082ff"/><stop offset="0.6596" stop-color="#0048ff"/><stop offset="0.7702" stop-color="#0007ff"/><stop offset="0.8085" stop-color="#0000f8"/><stop offset="1" stop-color="#0000cf"/></linearGradient>
<linearGradient id="b111" gradientUnits="userSpaceOnUse" x1="431" x2="666"><stop offset="0" stop-color="#0000cd"/><stop offset="0.2043" stop-color="#0000f9"/><stop offset="0.2383" stop-color="#0007ff"/><stop offset="0.3532" stop-color="#004aff"/><stop offset="0.4255" stop-color="#009fff"/><stop offset="0.4851" stop-color="#00ccff"/><stop offset="0.5106" stop-color="#00d0ff"/><stop offset="0.566" stop-color="#00abff"/><stop offset="0.634" stop-color="#0060ff"/><stop offset="0.6553" stop-color="#0047ff"/><stop offset="0.766" stop-color="#0007ff"/><stop offset="0.8" stop-color="#0000f9"/><stop offset="1" stop-color="#0000ce"/></linearGradient>
<linearGradient id="b112" gradientUnits="userSpaceOnUse" x1="431" x2="666"><stop offset="0" stop-color="#0000cc"/><stop offset="0.2085" stop-color="#0000f8"/><stop offset="0.2426" stop-color="#0006ff"/><stop offset="0.3617" stop-color="#004eff"/><stop offset="0.4298" stop-color="#009bff"/><stop offset="0.4809" stop-color="#00beff"/><stop offset="0.5064" stop-color="#00c4ff"/><stop offset="0.5574" stop-color="#00a9ff"/><stop offset="0.6213" stop-color="#0068ff"/><stop offset="0.6511" stop-color="#0046ff"/><stop offset="0.766" stop-color="#0005ff"/><stop offset="0.8128" stop-color="#0000f3"/><stop offset="1" stop-color="#0000cd"/></linearGradient>
<linearGradient id="b113" gradientUnits="userSpaceOnUse" x1="431" x2="666"><stop offset="0" stop-color="#0000cb"/><stop offset="0.2085" stop-color="#0000f6"/><stop offset="0.2468" stop-color="#0006ff"/><stop offset="0.366" stop-color="#004cff"/><stop offset="0.434" stop-color="#0096ff"/><stop offset="0.4851" stop-color="#00b6ff"/><stop offset="0.5106" stop-color="#00b9ff"/><stop offset="0.5617" stop-color="#009dff"/><stop offset="0.6255" stop-color="#005cff"/><stop offset="0.6468" stop-color="#0044ff"/><stop offset="0.7617" stop-color="#0004ff"/><stop offset="0.8383" stop-color="#0000ea"/><stop offset="1" stop-color="#0000cc"/></linearGradient>
<linearGradient id="b114" gradientUnits="userSpaceOnUse" x1="431" x2="666"><stop offset="0" stop-color="#0000ca"/><stop offset="0.2085" stop-color="#0000f4"/><stop offset="0.2511" stop-color="#0005ff"/><stop offset="0.3702" stop-color="#004aff"/><stop offset="0.4383" stop-color="#0090ff"/><stop offset="0.4894" stop-color="#00aeff"/><stop offset="0.5149" stop-color="#00aeff"/><stop offset="0.566" stop-color="#0090ff"/><stop offset="0.6426" stop-color="#0043ff"/><stop offset="0.7574" stop-color="#0004ff"/><stop offset="0.9149" stop-color="#0000d9"/><stop offset="1" stop-color="#0000cb"/></linearGradient>
<linearGradient id="b115" gradientUnits="userSpaceOnUse" x1="431" x2="666"><stop offset="0" stop-color="#0000c9"/><stop offset="0.2085" stop-color="#0000f2"/><stop offset="0.2553" stop-color="#0005ff"/><stop offset="0.3745" stop-color="#0048ff"/><stop offset="0.4426" stop-color="#008bff"/><stop offset="0.4936" stop-color="#00a6ff"/><stop offset="0.5277" stop-color="#00a0ff"/><stop offset="0.583" stop-color="#0079ff"/><stop offset="0.6383" stop-color="#0042ff"/><stop offset="0.7574" stop-color="#0002ff"/><stop offset="0.8681" stop-color="#0000e1"/><stop offset="1" stop-color="#0000ca"/></linearGradient>
<linearGradient id="b116" gradientUnits="userSpaceOnUse" x1="431" x2="666"><stop offset="0" stop-color="#0000c8"/><stop offset="0.2085" stop-color="#0000f0"/><stop offset="0.2596" stop-color="#0004ff"/><stop offset="0.383" stop-color="#004aff"/><stop offset="0.4468" stop-color="#0085ff"/><stop offset="0.4979" stop-color="#009eff"/><stop offset="0.5404" stop-color="#0090ff"/><stop offset="0.6" stop-color="#0061ff"/><stop offset="0.634" stop-color="#0040ff"/><stop offset="0.7532" stop-color="#0001ff"/><stop offset="0.8596" stop-color="#0000e1"/><stop offset="1" stop-color="#0000c9"/></linearGradient>
<linearGradient id="b117" gradientUnits="userSpaceOnUse" x1="431" x2="666"><stop offset="0" stop-color="#0000c7"/><stop offset="0.2085" stop-color="#0000ee"/><stop offset="0.2638" stop-color="#0003ff"/><stop offset="0.3872" stop-color="#0047ff"/><stop offset="0.4511" stop-color="#007fff"/><stop offset="0.5021" stop-color="#0095ff"/><stop offset="0.5532" stop-color="#007fff"/><stop offset="0.6298" stop-color="#003fff"/><stop offset="0.7489" stop-color="#0000ff"/><stop offset="0.8468" stop-color="#0000e2"/><stop offset="1" stop-color="#0000c8"/></linearGradient>
<linearGradient id="b118" gradientUnits="userSpaceOnUse" x1="431" x2="666"><stop offset="0" stop-color="#0000c6"/><stop offset="0.2085" stop-color="#0000ec"/><stop offset="0.2681" stop-color="#0003ff"/><stop offset="0.3957" stop-color="#0048ff"/><stop offset="0.4596" stop-color="#007cff"/><stop offset="0.5064" stop-color="#008bff"/><stop offset="0.5617" stop-color="#0071ff"/><stop offset="0.6255" stop-color="#003dff"/><stop offset="0.7447" stop-color="#0000ff"/><stop offset="0.8383" stop-color="#0000e2"/><stop offset="1" stop-color="#0000c7"/></linearGradient>
<linearGradient id="b119" gradientUnits="userSpaceOnUse" x1="431" x2="666"><stop offset="0" stop-color="#0000c5"/><stop offset="0.2085" stop-color="#0000ea"/><stop offset="0.2766" stop-color="#0003ff"/><stop offset="0.4043" stop-color="#0049ff"/><stop offset="0.4638" stop-color="#0075ff"/><stop offset="0.5064" stop-color="#0082ff"/><stop offset="0.5617" stop-color="#0068ff"/><stop offset="0.617" stop-color="#003dff"/><stop offset="0.7404" stop-color="#0000fe"/><stop offset="0.8383" stop-color="#0000e1"/><stop offset="1" stop-color="#0000c6"/></linearGradient>
<linearGradient id="b120" gradientUnits="userSpaceOnUse" x1="431" x2="666"><stop offset="0" stop-color="#0000c4"/><stop offset="0.2085" stop-color="#0000e7"/><stop offset="0.2851" stop-color="#0004ff"/><stop offset="0.4128" stop-color="#0047ff"/><stop offset="0.4723" stop-color="#006fff"/><stop offset="0.5106" stop-color="#0077ff"/><stop offset="0.566" stop-color="#005cff"/><stop offset="0.6128" stop-color="#003bff"/><stop offset="0.7319" stop-color="#0000fe"/><stop offset="0.834" stop-color="#0000df"/><stop offset="1" stop-color="#0000c4"/></linearGradient>
<linearGradient id="b121" gradientUnits="userSpaceOnUse" x1="431" x2="666"><stop offset="0" stop-color="#0000c2"/><stop offset="0.2128" stop-color="#0000e6"/><stop offset="0.2894" stop-color="#0002ff"/><stop offset="0.4255" stop-color="#0049ff"/><stop offset="0.4851" stop-color="#006aff"/><stop offset="0.5106" stop-color="#006dff"/><stop offset="0.5702" stop-color="#004fff"/><stop offset="0.6128" stop-color="#0036ff"/><stop offset="0.7234" stop-color="#0000fe"/><stop offset="0.8298" stop-color="#0000dd"/><stop offset="1" stop-color="#0000c3"/></linearGradient>
<linearGradient id="b122" gradientUnits="userSpaceOnUse" x1="431" x2="666"><stop offset="0" stop-color="#0000c1"/><stop offset="0.2128" stop-color="#0000e3"/><stop offset="0.2979" stop-color="#0003ff"/><stop offset="0.4426" stop-color="#004cff"/><stop offset="0.4979" stop-color="#0064ff"/><stop offset="0.5489" stop-color="#0053ff"/><stop offset="0.6085" stop-color="#0033ff"/><stop offset="0.7149" stop-color="#0000fd"/><stop offset="0.8255" stop-color="#0000db"/><stop offset="1" stop-color="#0000c1"/></linearGradient>
<linearGradient id="b123" gradientUnits="userSpaceOnUse" x1="431" x2="666"><stop offset="0" stop-color="#0000bf"/><stop offset="0.2128" stop-color="#0000e0"/><stop offset="0.3064" stop-color="#0003ff"/><stop offset="0.4936" stop-color="#0059ff"/><stop offset="0.5319" stop-color="#0052ff"/><stop offset="0.7106" stop-color="#0000fc"/><stop offset="0.8213" stop-color="#0000d9"/><stop offset="1" stop-color="#0000bf"/></linearGradient>
<linearGradient id="b124" gradientUnits="userSpaceOnUse" x1="431" x2="666"><stop offset="0" stop-color="#0000bd"/><stop offset="0.2128" stop-color="#0000dd"/><stop offset="0.3149" stop-color="#0003ff"/><stop offset="0.4894" stop-color="#004fff"/><stop offset="0.5191" stop-color="#004eff"/><stop offset="0.7021" stop-color="#0000fc"/><stop offset="0.8213" stop-color="#0000d7"/><stop offset="1" stop-color="#0000be"/></linearGradient>
<linearGradient id="b125" gradientUnits="userSpaceOnUse" x1="431" x2="666"><stop offset="0" stop-color="#0000bb"/><stop offset="0.217" stop-color="#0000da"/><stop offset="0.3277" stop-color="#0003ff"/><stop offset="0.4638" stop-color="#003bff"/><stop offset="0.5106" stop-color="#0042ff"/><stop offset="0.6213" stop-color="#001dff"/><stop offset="0.6894" stop-color="#0000fc"/><stop offset="0.817" stop-color="#0000d4"/><stop offset="1" stop-color="#0000bb"/></linearGradient>
<linearGradient id="b126" gradientUnits="userSpaceOnUse" x1="431" x2="666"><stop offset="0" stop-color="#0000b8"/><stop offset="0.2213" stop-color="#0000d6"/><stop offset="0.3447" stop-color="#0003ff"/><stop offset="0.4766" stop-color="#0035ff"/><stop offset="0.5106" stop-color="#0039ff"/><stop offset="0.6298" stop-color="#0011ff"/><stop offset="0.6766" stop-color="#0000fa"/><stop offset="0.8128" stop-color="#0000d0"/><stop offset="1" stop-color="#0000b8"/></linearGradient>
<linearGradient id="b127" gradientUnits="userSpaceOnUse" x1="431" x2="666"><stop offset="0" stop-color="#0000b6"/><stop offset="0.2213" stop-color="#0000d2"/><stop offset="0.3574" stop-color="#0003ff"/><stop offset="0.4851" stop-color="#0030ff"/><stop offset="0.5404" stop-color="#002bff"/><stop offset="0.6596" stop-color="#0000fc"/><stop offset="0.8085" stop-color="#0000cc"/><stop offset="1" stop-color="#0000b6"/></linearGradient>
<linearGradient id="b128" gradientUnits="userSpaceOnUse" x1="431" x2="666"><stop offset="0" stop-color="#0000b4"/><stop offset="0.2213" stop-color="#0000cf"/><stop offset="0.366" stop-color="#0002ff"/><stop offset="0.4723" stop-color="#0027ff"/><stop offset="0.5532" stop-color="#0022ff"/><stop offset="0.6511" stop-color="#0000fc"/><stop offset="0.8085" stop-color="#0000ca"/><stop offset="1" stop-color="#0000b4"/></linearGradient>
<linearGradient id="b129" gradientUnits="userSpaceOnUse" x1="431" x2="666"><stop offset="0" stop-color="#0000b3"/><stop offset="0.2255" stop-color="#0000ce"/><stop offset="0.3787" stop-color="#0004ff"/><stop offset="0.4596" stop-color="#001dff"/><stop offset="0.5617" stop-color="#001bff"/><stop offset="0.6426" stop-color="#0000fb"/><stop offset="0.8085" stop-color="#0000c8"/><stop offset="1" stop-color="#0000b3"/></linearGradient>
<linearGradient id="b130" gradientUnits="userSpaceOnUse" x1="431" x2="666"><stop offset="0" stop-color="#0000b1"/><stop offset="0.2255" stop-color="#0000cb"/><stop offset="0.3872" stop-color="#0003ff"/><stop offset="0.4468" stop-color="#0013ff"/><stop offset="0.5574" stop-color="#0013ff"/><stop offset="0.634" stop-color="#0000fb"/><stop offset="0.8043" stop-color="#0000c6"/><stop offset="1" stop-color="#0000b1"/></linearGradient>
<linearGradient id="b131" gradientUnits="userSpaceOnUse" x1="431" x2="666"><stop offset="0" stop-color="#0000af"/><stop offset="0.2255" stop-color="#0000c9"/><stop offset="0.4" stop-color="#0003ff"/><stop offset="0.5149" stop-color="#000eff"/><stop offset="0.6213" stop-color="#0000fc"/><stop offset="0.8043" stop-color="#0000c3"/><stop offset="1" stop-color="#0000b0"/></linearGradient>
<linearGradient id="b132" gradientUnits="userSpaceOnUse" x1="431" x2="666"><stop offset="0" stop-color="#0000ad"/><stop offset="0.2255" stop-color="#0000c5"/><stop offset="0.4128" stop-color="#0000fc"/><stop offset="0.5532" stop-color="#0002ff"/><stop offset="0.6383" stop-color="#0000f0"/><stop offset="0.8085" stop-color="#0000c0"/><stop offset="1" stop-color="#0000ae"/></linearGradient>
<linearGradient id="b133" gradientUnits="userSpaceOnUse" x1="431" x2="666"><stop offset="0" stop-color="#0000a9"/><stop offset="0.2298" stop-color="#0000c0"/><stop offset="0.3957" stop-color="#0000ec"/><stop offset="0.5234" stop-color="#0000f5"/><stop offset="0.6596" stop-color="#0000e2"/><stop offset="0.8128" stop-color="#0000b9"/><stop offset="1" stop-color="#0000a9"/></linearGradient>
<linearGradient id="b134" gradientUnits="userSpaceOnUse" x1="431" x2="666"><stop offset="0" stop-color="#0000a4"/><stop offset="0.2255" stop-color="#0000b8"/><stop offset="0.3574" stop-color="#0000da"/><stop offset="0.5064" stop-color="#0000e8"/><stop offset="0.6766" stop-color="#0000d5"/><stop offset="0.8128" stop-color="#0000b2"/><stop offset="1" stop-color="#0000a5"/></linearGradient>
<linearGradient id="b135" gradientUnits="userSpaceOnUse" x1="431" x2="666"><stop offset="0" stop-color="#0000a0"/><stop offset="0.2255" stop-color="#0000b2"/><stop offset="0.3362" stop-color="#0000cc"/><stop offset="0.5149" stop-color="#0000d9"/><stop offset="0.7106" stop-color="#0000c4"/><stop offset="0.8213" stop-color="#0000ab"/><stop offset="1" stop-color="#0000a0"/></linearGradient>
<linearGradient id="b136" gradientUnits="userSpaceOnUse" x1="431" x2="666"><stop offset="0" stop-color="#00009c"/><stop offset="0.2255" stop-color="#0000ab"/><stop offset="0.3234" stop-color="#0000bf"/><stop offset="0.5277" stop-color="#0000cb"/><stop offset="0.7319" stop-color="#0000b7"/><stop offset="0.8255" stop-color="#0000a5"/><stop offset="1" stop-color="#00009c"/></linearGradient>
<linearGradient id="b137" gradientUnits="userSpaceOnUse" x1="431" x2="666"><stop offset="0" stop-color="#000097"/><stop offset="0.2255" stop-color="#0000a5"/><stop offset="0.3191" stop-color="#0000b3"/><stop offset="0.5447" stop-color="#0000bc"/><stop offset="0.7574" stop-color="#0000aa"/><stop offset="0.834" stop-color="#00009e"/><stop offset="1" stop-color="#000097"/></linearGradient>
<linearGradient id="b138" gradientUnits="userSpaceOnUse" x1="431" x2="666"><stop offset="0" stop-color="#000093"/><stop offset="0.2213" stop-color="#00009d"/><stop offset="0.4128" stop-color="#0000ab"/><stop offset="0.6426" stop-color="#0000a9"/><stop offset="0.783" stop-color="#00009d"/><stop offset="1" stop-color="#000093"/></linearGradient>
<linearGradient id="b139" gradientUnits="userSpaceOnUse" x1="431" x2="666"><stop offset="0" stop-color="#00008f"/><stop offset="0.5617" stop-color="#00009e"/><stop offset="1" stop-color="#00008f"/></linearGradient>
<linearGradient id="b140" gradientUnits="userSpaceOnUse" x1="431" x2="666"><stop offset="0" stop-color="#00008b"/><stop offset="0.6681" stop-color="#000091"/><stop offset="1" stop-color="#00008b"/></linearGradient>
<linearGradient id="cb" x1="0" y1="0" x2="0" y2="1"><stop offset="0.0000" stop-color="#800000"/><stop offset="0.0312" stop-color="#9f0000"/><stop offset="0.0625" stop-color="#bf0000"/><stop offset="0.0938" stop-color="#df0000"/><stop offset="0.1250" stop-color="#ff0000"/><stop offset="0.1562" stop-color="#ff2000"/><stop offset="0.1875" stop-color="#ff4000"/><stop offset="0.2188" stop-color="#ff6000"/><stop offset="0.2500" stop-color="#ff8000"/><stop offset="0.2812" stop-color="#ff9f00"/><stop offset="0.3125" stop-color="#ffbf00"/><stop offset="0.3438" stop-color="#ffdf00"/><stop offset="0.3750" stop-color="#ffff00"/><stop offset="0.4062" stop-color="#dfff20"/><stop offset="0.4375" stop-color="#bfff40"/><stop offset="0.4688" stop-color="#9fff60"/><stop offset="0.5000" stop-color="#80ff80"/><stop offset="0.5312" stop-color="#60ff9f"/><stop offset="0.5625" stop-color="#40ffbf"/><stop offset="0.5938" stop-color="#20ffdf"/><stop offset="0.6250" stop-color="#00ffff"/><stop offset="0.6562" stop-color="#00dfff"/><stop offset="0.6875" stop-color="#00bfff"/><stop offset="0.7188" stop-color="#009fff"/><stop offset="0.7500" stop-color="#0080ff"/><stop offset="0.7812" stop-color="#0060ff"/><stop offset="0.8125" stop-color="#0040ff"/><stop offset="0.8438" stop-color="#0020ff"/><stop offset="0.8750" stop-color="#0000ff"/><stop offset="0.9062" stop-color="#0000df"/><stop offset="0.9375" stop-color="#0000bf"/><stop offset="0.9688" stop-color="#00009f"/><stop offset="1.0000" stop-color="#000080"/></linearGradient>
<linearGradient id="lna" x1="0" x2="1"><stop offset="0" stop-color="#00002a" stop-opacity="0.15"/><stop offset="0.3" stop-color="#00002a" stop-opacity="0.62"/><stop offset="0.7" stop-color="#00002a" stop-opacity="0.62"/><stop offset="1" stop-color="#00002a" stop-opacity="0.15"/></linearGradient>
</defs>
<rect width="750" height="313" fill="#fff"/>
<clipPath id="ac"><rect x="50" y="19" width="231" height="233"/></clipPath>
<g clip-path="url(#ac)">
<rect x="50" y="19" width="231" height="4.6" fill="url(#a0)"/>
<rect x="50" y="23" width="231" height="4.6" fill="url(#a1)"/>
<rect x="50" y="27" width="231" height="4.6" fill="url(#a2)"/>
<rect x="50" y="31" width="231" height="4.6" fill="url(#a3)"/>
<rect x="50" y="35" width="231" height="4.6" fill="url(#a4)"/>
<rect x="50" y="39" width="231" height="4.6" fill="url(#a5)"/>
<rect x="50" y="43" width="231" height="4.6" fill="url(#a6)"/>
<rect x="50" y="47" width="231" height="4.6" fill="url(#a7)"/>
<rect x="50" y="51" width="231" height="4.6" fill="url(#a8)"/>
<rect x="50" y="55" width="231" height="4.6" fill="url(#a9)"/>
<rect x="50" y="59" width="231" height="4.6" fill="url(#a10)"/>
<rect x="50" y="63" width="231" height="4.6" fill="url(#a11)"/>
<rect x="50" y="67" width="231" height="4.6" fill="url(#a12)"/>
<rect x="50" y="71" width="231" height="4.6" fill="url(#a13)"/>
<rect x="50" y="75" width="231" height="4.6" fill="url(#a14)"/>
<rect x="50" y="79" width="231" height="4.6" fill="url(#a15)"/>
<rect x="50" y="83" width="231" height="4.6" fill="url(#a16)"/>
<rect x="50" y="87" width="231" height="4.6" fill="url(#a17)"/>
<rect x="50" y="91" width="231" height="4.6" fill="url(#a18)"/>
<rect x="50" y="95" width="231" height="4.6" fill="url(#a19)"/>
<rect x="50" y="99" width="231" height="4.6" fill="url(#a20)"/>
<rect x="50" y="103" width="231" height="4.6" fill="url(#a21)"/>
<rect x="50" y="107" width="231" height="4.6" fill="url(#a22)"/>
<rect x="50" y="111" width="231" height="4.6" fill="url(#a23)"/>
<rect x="50" y="115" width="231" height="4.6" fill="url(#a24)"/>
<rect x="50" y="119" width="231" height="4.6" fill="url(#a25)"/>
<rect x="50" y="123" width="231" height="4.6" fill="url(#a26)"/>
<rect x="50" y="127" width="231" height="4.6" fill="url(#a27)"/>
<rect x="50" y="131" width="231" height="4.6" fill="url(#a28)"/>
<rect x="50" y="135" width="231" height="1.6" fill="url(#a29)"/>
<rect x="50" y="136" width="231" height="1.6" fill="url(#a30)"/>
<rect x="50" y="137" width="231" height="4.6" fill="url(#a31)"/>
<rect x="50" y="141" width="231" height="4.6" fill="url(#a32)"/>
<rect x="50" y="145" width="231" height="2.6" fill="url(#a33)"/>
<rect x="50" y="147" width="231" height="2.6" fill="url(#a34)"/>
<rect x="50" y="149" width="231" height="2.6" fill="url(#a35)"/>
<rect x="50" y="151" width="231" height="2.6" fill="url(#a36)"/>
<rect x="50" y="153" width="231" height="2.6" fill="url(#a37)"/>
<rect x="50" y="155" width="231" height="2.6" fill="url(#a38)"/>
<rect x="50" y="157" width="231" height="1.6" fill="url(#a39)"/>
<rect x="50" y="158" width="231" height="1.6" fill="url(#a40)"/>
<rect x="50" y="159" width="231" height="1.6" fill="url(#a41)"/>
<rect x="50" y="160" width="231" height="1.6" fill="url(#a42)"/>
<rect x="50" y="161" width="231" height="1.6" fill="url(#a43)"/>
<rect x="50" y="162" width="231" height="1.6" fill="url(#a44)"/>
<rect x="50" y="163" width="231" height="1.6" fill="url(#a45)"/>
<rect x="50" y="164" width="231" height="1.6" fill="url(#a46)"/>
<rect x="50" y="165" width="231" height="1.6" fill="url(#a47)"/>
<rect x="50" y="166" width="231" height="1.6" fill="url(#a48)"/>
<rect x="50" y="167" width="231" height="1.6" fill="url(#a49)"/>
<rect x="50" y="168" width="231" height="1.6" fill="url(#a50)"/>
<rect x="50" y="169" width="231" height="1.6" fill="url(#a51)"/>
<rect x="50" y="170" width="231" height="1.6" fill="url(#a52)"/>
<rect x="50" y="171" width="231" height="1.6" fill="url(#a53)"/>
<rect x="50" y="172" width="231" height="1.6" fill="url(#a54)"/>
<rect x="50" y="173" width="231" height="1.6" fill="url(#a55)"/>
<rect x="50" y="174" width="231" height="1.6" fill="url(#a56)"/>
<rect x="50" y="175" width="231" height="1.6" fill="url(#a57)"/>
<rect x="50" y="176" width="231" height="1.6" fill="url(#a58)"/>
<rect x="50" y="177" width="231" height="1.6" fill="url(#a59)"/>
<rect x="50" y="178" width="231" height="1.6" fill="url(#a60)"/>
<rect x="50" y="179" width="231" height="1.6" fill="url(#a61)"/>
<rect x="50" y="180" width="231" height="1.6" fill="url(#a62)"/>
<rect x="50" y="181" width="231" height="1.6" fill="url(#a63)"/>
<rect x="50" y="182" width="231" height="1.6" fill="url(#a64)"/>
<rect x="50" y="183" width="231" height="1.6" fill="url(#a65)"/>
<rect x="50" y="184" width="231" height="4.6" fill="url(#a66)"/>
<rect x="50" y="188" width="231" height="1.6" fill="url(#a67)"/>
<rect x="50" y="189" width="231" height="1.6" fill="url(#a68)"/>
<rect x="50" y="190" width="231" height="1.6" fill="url(#a69)"/>
<rect x="50" y="191" width="231" height="1.6" fill="url(#a70)"/>
<rect x="50" y="192" width="231" height="1.6" fill="url(#a71)"/>
<rect x="50" y="193" width="231" height="1.6" fill="url(#a72)"/>
<rect x="50" y="194" width="231" height="1.6" fill="url(#a73)"/>
<rect x="50" y="195" width="231" height="1.6" fill="url(#a74)"/>
<rect x="50" y="196" width="231" height="1.6" fill="url(#a75)"/>
<rect x="50" y="197" width="231" height="1.6" fill="url(#a76)"/>
<rect x="50" y="198" width="231" height="1.6" fill="url(#a77)"/>
<rect x="50" y="199" width="231" height="1.6" fill="url(#a78)"/>
<rect x="50" y="200" width="231" height="1.6" fill="url(#a79)"/>
<rect x="50" y="201" width="231" height="1.6" fill="url(#a80)"/>
<rect x="50" y="202" width="231" height="1.6" fill="url(#a81)"/>
<rect x="50" y="203" width="231" height="1.6" fill="url(#a82)"/>
<rect x="50" y="204" width="231" height="1.6" fill="url(#a83)"/>
<rect x="50" y="205" width="231" height="1.6" fill="url(#a84)"/>
<rect x="50" y="206" width="231" height="1.6" fill="url(#a85)"/>
<rect x="50" y="207" width="231" height="1.6" fill="url(#a86)"/>
<rect x="50" y="208" width="231" height="1.6" fill="url(#a87)"/>
<rect x="50" y="209" width="231" height="1.6" fill="url(#a88)"/>
<rect x="50" y="210" width="231" height="1.6" fill="url(#a89)"/>
<rect x="50" y="211" width="231" height="1.6" fill="url(#a90)"/>
<rect x="50" y="212" width="231" height="1.6" fill="url(#a91)"/>
<rect x="50" y="213" width="231" height="1.6" fill="url(#a92)"/>
<rect x="50" y="214" width="231" height="1.6" fill="url(#a93)"/>
<rect x="50" y="215" width="231" height="2.6" fill="url(#a94)"/>
<rect x="50" y="217" width="231" height="2.6" fill="url(#a95)"/>
<rect x="50" y="219" width="231" height="2.6" fill="url(#a96)"/>
<rect x="50" y="221" width="231" height="2.6" fill="url(#a97)"/>
<rect x="50" y="223" width="231" height="2.6" fill="url(#a98)"/>
<rect x="50" y="225" width="231" height="3.6" fill="url(#a99)"/>
<rect x="50" y="228" width="231" height="4.6" fill="url(#a100)"/>
<rect x="50" y="232" width="231" height="4.6" fill="url(#a101)"/>
<rect x="50" y="236" width="231" height="4.6" fill="url(#a102)"/>
<rect x="50" y="240" width="231" height="3.6" fill="url(#a103)"/>
<rect x="50" y="243" width="231" height="4.6" fill="url(#a104)"/>
<rect x="50" y="247" width="231" height="4.6" fill="url(#a105)"/>
<rect x="50" y="251" width="231" height="4.6" fill="url(#a106)"/>
</g>
<path d="M280.3 18H282V253H280.3ZM49 18H282V19.6H49Z" fill="#fff"/>
<rect x="50.0" y="135.8" width="230.3" height="1" fill="url(#lna)"/>

<rect x="33.5" y="8.6" width="264.0" height="254.0" fill="none" stroke="#505050" stroke-width="0.75"/>
<path d="M50.4 262.6v-2.3 M50.4 8.6v2.3 M88.7 262.6v-2.3 M88.7 8.6v2.3 M127.1 262.6v-2.3 M127.1 8.6v2.3 M165.4 262.6v-2.3 M165.4 8.6v2.3 M203.7 262.6v-2.3 M203.7 8.6v2.3 M242.0 262.6v-2.3 M242.0 8.6v2.3 M280.4 262.6v-2.3 M280.4 8.6v2.3 M33.5 11.3h2.2 M297.5 11.3h-2.2 M33.5 26.5h1.9 M297.5 26.5h-1.9 M33.5 42.5h2.9 M297.5 42.5h-2.9 M33.5 57.5h1.9 M297.5 57.5h-1.9 M33.5 73.5h2.9 M297.5 73.5h-2.9 M33.5 88.5h1.9 M297.5 88.5h-1.9 M33.5 104.5h2.9 M297.5 104.5h-2.9 M33.5 119.5h1.9 M297.5 119.5h-1.9 M33.5 135.5h2.9 M297.5 135.5h-2.9 M33.5 151.5h1.9 M297.5 151.5h-1.9 M33.5 166.5h2.9 M297.5 166.5h-2.9 M33.5 182.5h1.9 M297.5 182.5h-1.9 M33.5 197.5h2.9 M297.5 197.5h-2.9 M33.5 213.5h1.9 M297.5 213.5h-1.9 M33.5 228.5h2.9 M297.5 228.5h-2.9 M33.5 244.5h1.9 M297.5 244.5h-1.9 M33.5 259.5h2.9 M297.5 259.5h-2.9" stroke="#505050" stroke-width="0.75" fill="none"/>
<text transform="translate(52.9 280.6) scale(0.96 1)" font-size="16.04" text-anchor="middle">0</text>
<text transform="translate(88.7 280.6) scale(0.96 1)" font-size="16.04" text-anchor="middle">5</text>
<text transform="translate(128.6 280.6) scale(0.96 1)" font-size="16.04" text-anchor="middle">10</text>
<text transform="translate(167.5 280.6) scale(0.96 1)" font-size="16.04" text-anchor="middle">15</text>
<text transform="translate(206.9 280.6) scale(0.96 1)" font-size="16.04" text-anchor="middle">20</text>
<text transform="translate(242.8 280.6) scale(0.96 1)" font-size="16.04" text-anchor="middle">25</text>
<text transform="translate(281.9 280.6) scale(0.96 1)" font-size="16.04" text-anchor="middle">30</text>
<text transform="translate(25.2 47.4) scale(0.96 1)" font-size="16.04" text-anchor="end">12</text>
<text transform="translate(25.2 78.4) scale(0.96 1)" font-size="16.04" text-anchor="end">8</text>
<text transform="translate(25.2 108.9) scale(0.96 1)" font-size="16.04" text-anchor="end">4</text>
<text transform="translate(25.2 140.5) scale(0.96 1)" font-size="16.04" text-anchor="end">0</text>
<text transform="translate(25.2 171.5) scale(0.96 1)" font-size="16.04" text-anchor="end">-4</text>
<text transform="translate(23.2 201.4) scale(0.96 1)" font-size="16.04" text-anchor="end">-8</text>
<text transform="translate(25.2 233.0) scale(0.96 1)" font-size="16.04" text-anchor="end">-12</text>
<text transform="translate(24.4 263.1) scale(0.96 1)" font-size="16.04" text-anchor="end">-16</text>
<text transform="translate(8.2 16.9) scale(0.96 1)" font-size="17.50">µm</text>
<text transform="translate(295.2 273.3) scale(0.96 1)" font-size="17.08">µm</text>
<rect x="307.4" y="25.2" width="8.3" height="234.8" fill="url(#cb)"/>
<text transform="translate(319.6 52.7) scale(0.96 1)" font-size="16.04">350</text>
<text transform="translate(320.9 84.0) scale(0.96 1)" font-size="16.04">300</text>
<text transform="translate(319.6 113.6) scale(0.96 1)" font-size="16.04">250</text>
<text transform="translate(320.9 143.0) scale(0.96 1)" font-size="16.04">200</text>
<text transform="translate(319.6 173.4) scale(0.96 1)" font-size="16.04">150</text>
<text transform="translate(320.1 204.3) scale(0.96 1)" font-size="16.04">100</text>
<text transform="translate(321.4 234.2) scale(0.96 1)" font-size="16.04">50</text>
<path d="M307.4 47.5h1.8M315.7 47.5h-1.8 M307.4 78.8h1.8M315.7 78.8h-1.8 M307.4 108.4h1.8M315.7 108.4h-1.8 M307.4 137.8h1.8M315.7 137.8h-1.8 M307.4 168.2h1.8M315.7 168.2h-1.8 M307.4 199.2h1.8M315.7 199.2h-1.8 M307.4 229.0h1.8M315.7 229.0h-1.8" stroke="#1a1a1a" stroke-opacity="0.65" stroke-width="0.9" fill="none"/>
<text x="302.5" y="16.9" font-size="15.3">|E| (V/m)</text>
<text x="197.8" y="305.6" text-anchor="middle" font-size="20.0">(a)</text>
<text x="166.0" y="96.6" text-anchor="middle" font-size="20.4" style="fill:#eaeaf4;stroke:#eaeaf4;stroke-width:0.35">silica core</text>
<text x="167.0" y="122.0" text-anchor="middle" font-size="20.4" style="fill:#eaeaf4;stroke:#eaeaf4;stroke-width:0.35">(980 nm)</text>
<rect x="153.6" y="174.4" width="23.2" height="23.6" fill="none" stroke="#141000" stroke-opacity="0.72" stroke-width="0.85"/>
<clipPath id="bc"><rect x="431" y="19" width="235" height="235"/></clipPath>
<g clip-path="url(#bc)">
<rect x="431" y="19" width="235" height="4.6" fill="url(#b0)"/>
<rect x="431" y="23" width="235" height="4.6" fill="url(#b1)"/>
<rect x="431" y="27" width="235" height="4.6" fill="url(#b2)"/>
<rect x="431" y="31" width="235" height="4.6" fill="url(#b3)"/>
<rect x="431" y="35" width="235" height="4.6" fill="url(#b4)"/>
<rect x="431" y="39" width="235" height="4.6" fill="url(#b5)"/>
<rect x="431" y="43" width="235" height="4.6" fill="url(#b6)"/>
<rect x="431" y="47" width="235" height="4.6" fill="url(#b7)"/>
<rect x="431" y="51" width="235" height="4.6" fill="url(#b8)"/>
<rect x="431" y="55" width="235" height="4.6" fill="url(#b9)"/>
<rect x="431" y="59" width="235" height="4.6" fill="url(#b10)"/>
<rect x="431" y="63" width="235" height="4.6" fill="url(#b11)"/>
<rect x="431" y="67" width="235" height="4.6" fill="url(#b12)"/>
<rect x="431" y="71" width="235" height="4.6" fill="url(#b13)"/>
<rect x="431" y="75" width="235" height="4.6" fill="url(#b14)"/>
<rect x="431" y="79" width="235" height="4.6" fill="url(#b15)"/>
<rect x="431" y="83" width="235" height="4.6" fill="url(#b16)"/>
<rect x="431" y="87" width="235" height="4.6" fill="url(#b17)"/>
<rect x="431" y="91" width="235" height="4.6" fill="url(#b18)"/>
<rect x="431" y="95" width="235" height="4.6" fill="url(#b19)"/>
<rect x="431" y="99" width="235" height="4.6" fill="url(#b20)"/>
<rect x="431" y="103" width="235" height="4.6" fill="url(#b21)"/>
<rect x="431" y="107" width="235" height="4.6" fill="url(#b22)"/>
<rect x="431" y="111" width="235" height="4.6" fill="url(#b23)"/>
<rect x="431" y="115" width="235" height="4.6" fill="url(#b24)"/>
<rect x="431" y="119" width="235" height="4.6" fill="url(#b25)"/>
<rect x="431" y="123" width="235" height="3.6" fill="url(#b26)"/>
<rect x="431" y="126" width="235" height="3.6" fill="url(#b27)"/>
<rect x="431" y="129" width="235" height="3.6" fill="url(#b28)"/>
<rect x="431" y="132" width="235" height="3.6" fill="url(#b29)"/>
<rect x="431" y="135" width="235" height="1.6" fill="url(#b30)"/>
<rect x="431" y="136" width="235" height="3.6" fill="url(#b31)"/>
<rect x="431" y="139" width="235" height="2.6" fill="url(#b32)"/>
<rect x="431" y="141" width="235" height="1.6" fill="url(#b33)"/>
<rect x="431" y="142" width="235" height="1.6" fill="url(#b34)"/>
<rect x="431" y="143" width="235" height="1.6" fill="url(#b35)"/>
<rect x="431" y="144" width="235" height="1.6" fill="url(#b36)"/>
<rect x="431" y="145" width="235" height="1.6" fill="url(#b37)"/>
<rect x="431" y="146" width="235" height="1.6" fill="url(#b38)"/>
<rect x="431" y="147" width="235" height="1.6" fill="url(#b39)"/>
<rect x="431" y="148" width="235" height="1.6" fill="url(#b40)"/>
<rect x="431" y="149" width="235" height="1.6" fill="url(#b41)"/>
<rect x="431" y="150" width="235" height="1.6" fill="url(#b42)"/>
<rect x="431" y="151" width="235" height="1.6" fill="url(#b43)"/>
<rect x="431" y="152" width="235" height="1.6" fill="url(#b44)"/>
<rect x="431" y="153" width="235" height="1.6" fill="url(#b45)"/>
<rect x="431" y="154" width="235" height="1.6" fill="url(#b46)"/>
<rect x="431" y="155" width="235" height="1.6" fill="url(#b47)"/>
<rect x="431" y="156" width="235" height="1.6" fill="url(#b48)"/>
<rect x="431" y="157" width="235" height="1.6" fill="url(#b49)"/>
<rect x="431" y="158" width="235" height="1.6" fill="url(#b50)"/>
<rect x="431" y="159" width="235" height="1.6" fill="url(#b51)"/>
<rect x="431" y="160" width="235" height="1.6" fill="url(#b52)"/>
<rect x="431" y="161" width="235" height="1.6" fill="url(#b53)"/>
<rect x="431" y="162" width="235" height="1.6" fill="url(#b54)"/>
<rect x="431" y="163" width="235" height="1.6" fill="url(#b55)"/>
<rect x="431" y="164" width="235" height="1.6" fill="url(#b56)"/>
<rect x="431" y="165" width="235" height="1.6" fill="url(#b57)"/>
<rect x="431" y="166" width="235" height="1.6" fill="url(#b58)"/>
<rect x="431" y="167" width="235" height="1.6" fill="url(#b59)"/>
<rect x="431" y="168" width="235" height="1.6" fill="url(#b60)"/>
<rect x="431" y="169" width="235" height="1.6" fill="url(#b61)"/>
<rect x="431" y="170" width="235" height="1.6" fill="url(#b62)"/>
<rect x="431" y="171" width="235" height="1.6" fill="url(#b63)"/>
<rect x="431" y="172" width="235" height="1.6" fill="url(#b64)"/>
<rect x="431" y="173" width="235" height="1.6" fill="url(#b65)"/>
<rect x="431" y="174" width="235" height="1.6" fill="url(#b66)"/>
<rect x="431" y="175" width="235" height="1.6" fill="url(#b67)"/>
<rect x="431" y="176" width="235" height="1.6" fill="url(#b68)"/>
<rect x="431" y="177" width="235" height="1.6" fill="url(#b69)"/>
<rect x="431" y="178" width="235" height="1.6" fill="url(#b70)"/>
<rect x="431" y="179" width="235" height="1.6" fill="url(#b71)"/>
<rect x="431" y="180" width="235" height="1.6" fill="url(#b72)"/>
<rect x="431" y="181" width="235" height="1.6" fill="url(#b73)"/>
<rect x="431" y="182" width="235" height="1.6" fill="url(#b74)"/>
<rect x="431" y="183" width="235" height="1.6" fill="url(#b75)"/>
<rect x="431" y="184" width="235" height="1.6" fill="url(#b76)"/>
<rect x="431" y="185" width="235" height="4.6" fill="url(#b77)"/>
<rect x="431" y="189" width="235" height="1.6" fill="url(#b78)"/>
<rect x="431" y="190" width="235" height="1.6" fill="url(#b79)"/>
<rect x="431" y="191" width="235" height="1.6" fill="url(#b80)"/>
<rect x="431" y="192" width="235" height="1.6" fill="url(#b81)"/>
<rect x="431" y="193" width="235" height="1.6" fill="url(#b82)"/>
<rect x="431" y="194" width="235" height="1.6" fill="url(#b83)"/>
<rect x="431" y="195" width="235" height="1.6" fill="url(#b84)"/>
<rect x="431" y="196" width="235" height="1.6" fill="url(#b85)"/>
<rect x="431" y="197" width="235" height="1.6" fill="url(#b86)"/>
<rect x="431" y="198" width="235" height="1.6" fill="url(#b87)"/>
<rect x="431" y="199" width="235" height="1.6" fill="url(#b88)"/>
<rect x="431" y="200" width="235" height="1.6" fill="url(#b89)"/>
<rect x="431" y="201" width="235" height="1.6" fill="url(#b90)"/>
<rect x="431" y="202" width="235" height="1.6" fill="url(#b91)"/>
<rect x="431" y="203" width="235" height="1.6" fill="url(#b92)"/>
<rect x="431" y="204" width="235" height="1.6" fill="url(#b93)"/>
<rect x="431" y="205" width="235" height="1.6" fill="url(#b94)"/>
<rect x="431" y="206" width="235" height="1.6" fill="url(#b95)"/>
<rect x="431" y="207" width="235" height="1.6" fill="url(#b96)"/>
<rect x="431" y="208" width="235" height="1.6" fill="url(#b97)"/>
<rect x="431" y="209" width="235" height="1.6" fill="url(#b98)"/>
<rect x="431" y="210" width="235" height="1.6" fill="url(#b99)"/>
<rect x="431" y="211" width="235" height="1.6" fill="url(#b100)"/>
<rect x="431" y="212" width="235" height="1.6" fill="url(#b101)"/>
<rect x="431" y="213" width="235" height="1.6" fill="url(#b102)"/>
<rect x="431" y="214" width="235" height="1.6" fill="url(#b103)"/>
<rect x="431" y="215" width="235" height="1.6" fill="url(#b104)"/>
<rect x="431" y="216" width="235" height="1.6" fill="url(#b105)"/>
<rect x="431" y="217" width="235" height="1.6" fill="url(#b106)"/>
<rect x="431" y="218" width="235" height="1.6" fill="url(#b107)"/>
<rect x="431" y="219" width="235" height="1.6" fill="url(#b108)"/>
<rect x="431" y="220" width="235" height="1.6" fill="url(#b109)"/>
<rect x="431" y="221" width="235" height="1.6" fill="url(#b110)"/>
<rect x="431" y="222" width="235" height="1.6" fill="url(#b111)"/>
<rect x="431" y="223" width="235" height="1.6" fill="url(#b112)"/>
<rect x="431" y="224" width="235" height="1.6" fill="url(#b113)"/>
<rect x="431" y="225" width="235" height="1.6" fill="url(#b114)"/>
<rect x="431" y="226" width="235" height="1.6" fill="url(#b115)"/>
<rect x="431" y="227" width="235" height="1.6" fill="url(#b116)"/>
<rect x="431" y="228" width="235" height="1.6" fill="url(#b117)"/>
<rect x="431" y="229" width="235" height="1.6" fill="url(#b118)"/>
<rect x="431" y="230" width="235" height="1.6" fill="url(#b119)"/>
<rect x="431" y="231" width="235" height="1.6" fill="url(#b120)"/>
<rect x="431" y="232" width="235" height="1.6" fill="url(#b121)"/>
<rect x="431" y="233" width="235" height="1.6" fill="url(#b122)"/>
<rect x="431" y="234" width="235" height="1.6" fill="url(#b123)"/>
<rect x="431" y="235" width="235" height="1.6" fill="url(#b124)"/>
<rect x="431" y="236" width="235" height="2.6" fill="url(#b125)"/>
<rect x="431" y="238" width="235" height="2.6" fill="url(#b126)"/>
<rect x="431" y="240" width="235" height="1.6" fill="url(#b127)"/>
<rect x="431" y="241" width="235" height="1.6" fill="url(#b128)"/>
<rect x="431" y="242" width="235" height="1.6" fill="url(#b129)"/>
<rect x="431" y="243" width="235" height="1.6" fill="url(#b130)"/>
<rect x="431" y="244" width="235" height="1.6" fill="url(#b131)"/>
<rect x="431" y="245" width="235" height="1.6" fill="url(#b132)"/>
<rect x="431" y="246" width="235" height="1.6" fill="url(#b133)"/>
<rect x="431" y="247" width="235" height="1.6" fill="url(#b134)"/>
<rect x="431" y="248" width="235" height="1.6" fill="url(#b135)"/>
<rect x="431" y="249" width="235" height="1.6" fill="url(#b136)"/>
<rect x="431" y="250" width="235" height="1.6" fill="url(#b137)"/>
<rect x="431" y="251" width="235" height="1.6" fill="url(#b138)"/>
<rect x="431" y="252" width="235" height="1.6" fill="url(#b139)"/>
<rect x="431" y="253" width="235" height="4.6" fill="url(#b140)"/>
</g>
<path d="M430 18H431.4V255H430ZM665.8 18H667V255H665.8ZM430 18H667V19.1H430ZM430 253.6H667V255H430Z" fill="#fff"/>
<rect x="431.4" y="135.1" width="234.4" height="1" fill="rgba(0,0,40,0.6)"/>
<rect x="431.4" y="19.1" width="1.1" height="234.2" fill="#000060" fill-opacity="0.3"/><rect x="664.7" y="19.1" width="1.1" height="234.2" fill="#000060" fill-opacity="0.3"/>
<rect x="414.2" y="8.2" width="269.3" height="256.0" fill="none" stroke="#505050" stroke-width="0.75"/>
<path d="M432.3 264.2v-2.3 M432.3 8.2v2.3 M471.3 264.2v-2.3 M471.3 8.2v2.3 M510.3 264.2v-2.3 M510.3 8.2v2.3 M549.3 264.2v-2.3 M549.3 8.2v2.3 M588.3 264.2v-2.3 M588.3 8.2v2.3 M627.3 264.2v-2.3 M627.3 8.2v2.3 M666.3 264.2v-2.3 M666.3 8.2v2.3 M414.2 10.7h2.2 M683.5 10.7h-2.2 M414.2 26.5h1.9 M683.5 26.5h-1.9 M414.2 41.5h2.9 M683.5 41.5h-2.9 M414.2 57.5h1.9 M683.5 57.5h-1.9 M414.2 73.5h2.9 M683.5 73.5h-2.9 M414.2 88.5h1.9 M683.5 88.5h-1.9 M414.2 104.5h2.9 M683.5 104.5h-2.9 M414.2 120.5h1.9 M683.5 120.5h-1.9 M414.2 135.5h2.9 M683.5 135.5h-2.9 M414.2 151.5h1.9 M683.5 151.5h-1.9 M414.2 167.5h2.9 M683.5 167.5h-2.9 M414.2 182.5h1.9 M683.5 182.5h-1.9 M414.2 198.5h2.9 M683.5 198.5h-2.9 M414.2 214.5h1.9 M683.5 214.5h-1.9 M414.2 229.5h2.9 M683.5 229.5h-2.9 M414.2 245.5h1.9 M683.5 245.5h-1.9 M414.2 261.5h2.9 M683.5 261.5h-2.9" stroke="#505050" stroke-width="0.75" fill="none"/>
<text transform="translate(433.0 280.8) scale(0.96 1)" font-size="16.04" text-anchor="middle">0</text>
<text transform="translate(469.4 280.8) scale(0.96 1)" font-size="16.04" text-anchor="middle">5</text>
<text transform="translate(509.8 280.8) scale(0.96 1)" font-size="16.04" text-anchor="middle">10</text>
<text transform="translate(550.6 280.8) scale(0.96 1)" font-size="16.04" text-anchor="middle">15</text>
<text transform="translate(589.6 280.8) scale(0.96 1)" font-size="16.04" text-anchor="middle">20</text>
<text transform="translate(625.8 280.8) scale(0.96 1)" font-size="16.04" text-anchor="middle">25</text>
<text transform="translate(666.6 280.8) scale(0.96 1)" font-size="16.04" text-anchor="middle">30</text>
<text transform="translate(406.9 46.7) scale(0.96 1)" font-size="16.04" text-anchor="end">12</text>
<text transform="translate(406.9 78.0) scale(0.96 1)" font-size="16.04" text-anchor="end">8</text>
<text transform="translate(406.9 109.3) scale(0.96 1)" font-size="16.04" text-anchor="end">4</text>
<text transform="translate(406.9 140.7) scale(0.96 1)" font-size="16.04" text-anchor="end">0</text>
<text transform="translate(406.9 173.0) scale(0.96 1)" font-size="16.04" text-anchor="end">-4</text>
<text transform="translate(406.9 203.3) scale(0.96 1)" font-size="16.04" text-anchor="end">-8</text>
<text transform="translate(408.7 233.4) scale(0.96 1)" font-size="16.04" text-anchor="end">-12</text>
<text transform="translate(409.1 263.1) scale(0.96 1)" font-size="16.04" text-anchor="end">-16</text>
<text transform="translate(389.4 12.3) scale(0.96 1)" font-size="16.15">µm</text>
<text transform="translate(681.5 275.0) scale(0.96 1)" font-size="16.35">µm</text>
<rect x="694.2" y="24.2" width="7.8" height="237.1" fill="url(#cb)"/>
<text transform="translate(707.0 50.0) scale(0.96 1)" font-size="16.04">300</text>
<text transform="translate(707.0 88.0) scale(0.96 1)" font-size="16.04">250</text>
<text transform="translate(707.0 123.0) scale(0.96 1)" font-size="16.04">200</text>
<text transform="translate(707.0 158.7) scale(0.96 1)" font-size="16.04">150</text>
<text transform="translate(707.0 194.9) scale(0.96 1)" font-size="16.04">100</text>
<text transform="translate(708.8 230.1) scale(0.96 1)" font-size="16.04">50</text>
<path d="M694.2 44.8h1.8M702.0 44.8h-1.8 M694.2 82.8h1.8M702.0 82.8h-1.8 M694.2 117.8h1.8M702.0 117.8h-1.8 M694.2 153.5h1.8M702.0 153.5h-1.8 M694.2 189.7h1.8M702.0 189.7h-1.8 M694.2 224.9h1.8M702.0 224.9h-1.8" stroke="#1a1a1a" stroke-opacity="0.65" stroke-width="0.9" fill="none"/>
<text x="688.0" y="16.8" font-size="15.6">|E| (V/m)</text>
<text x="522.2" y="306.0" text-anchor="middle" font-size="19.5">(b)</text>
<text x="550.5" y="99.7" text-anchor="middle" font-size="18.8" style="fill:#eaeaf4;stroke:#eaeaf4;stroke-width:0.35">silica core</text>
<text x="550.0" y="124.1" text-anchor="middle" font-size="18.8" style="fill:#eaeaf4;stroke:#eaeaf4;stroke-width:0.35">(1550 nm)</text>
<rect x="536.8" y="174.9" width="24.0" height="24.1" fill="none" stroke="#141000" stroke-opacity="0.72" stroke-width="0.85"/>
</svg>
</body></html>
